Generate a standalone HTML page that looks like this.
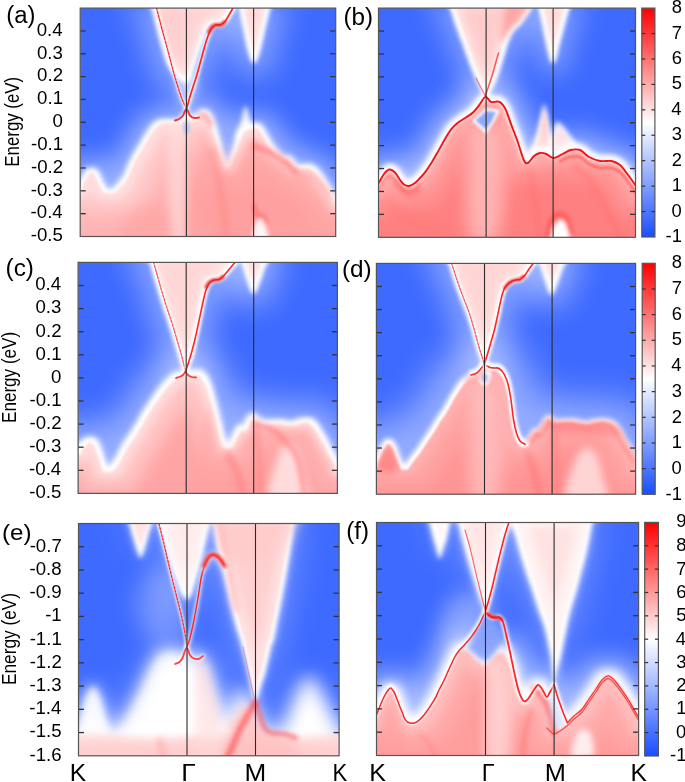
<!DOCTYPE html>
<html><head><meta charset="utf-8"><title>Surface states</title>
<style>html,body{margin:0;padding:0;background:#fff;width:685px;height:782px;overflow:hidden}svg{display:block}</style>
</head><body>
<svg width="685" height="782" viewBox="0 0 685 782" font-family="Liberation Sans, Arial, sans-serif">
<defs><linearGradient id="cbg" x1="0" y1="1" x2="0" y2="0"><stop offset="0" stop-color="#194eff"/><stop offset="0.5" stop-color="#ffffff"/><stop offset="1" stop-color="#ff0000"/></linearGradient>
<clipPath id="clipa"><rect x="80.2" y="8.1" width="255.5" height="228.4"/></clipPath>
<clipPath id="clipb"><rect x="378.5" y="8.1" width="257" height="229.2"/></clipPath>
<clipPath id="clipc"><rect x="78.1" y="262.4" width="259.3" height="231"/></clipPath>
<clipPath id="clipd"><rect x="376.4" y="263.4" width="259.2" height="230.8"/></clipPath>
<clipPath id="clipe"><rect x="78.5" y="523.5" width="260.6" height="232.3"/></clipPath>
<clipPath id="clipf"><rect x="376.5" y="522.5" width="262.1" height="233"/></clipPath><filter id="f5_0" filterUnits="userSpaceOnUse" x="0" y="0" width="685" height="782" color-interpolation-filters="sRGB"><feGaussianBlur stdDeviation="5"/></filter><filter id="f14_m14" filterUnits="userSpaceOnUse" x="0" y="0" width="685" height="782" color-interpolation-filters="sRGB"><feMorphology operator="dilate" radius="14"/><feGaussianBlur stdDeviation="14"/></filter><filter id="f2p5_m1" filterUnits="userSpaceOnUse" x="0" y="0" width="685" height="782" color-interpolation-filters="sRGB"><feMorphology operator="dilate" radius="1"/><feGaussianBlur stdDeviation="2.5"/></filter><filter id="f2_0" filterUnits="userSpaceOnUse" x="0" y="0" width="685" height="782" color-interpolation-filters="sRGB"><feGaussianBlur stdDeviation="2"/></filter><filter id="f1p5_2p5" filterUnits="userSpaceOnUse" x="0" y="0" width="685" height="782" color-interpolation-filters="sRGB"><feMorphology operator="erode" radius="2.5"/><feGaussianBlur stdDeviation="1.5"/></filter><filter id="f4_6" filterUnits="userSpaceOnUse" x="0" y="0" width="685" height="782" color-interpolation-filters="sRGB"><feMorphology operator="erode" radius="6"/><feGaussianBlur stdDeviation="4"/></filter><filter id="f2p5_0" filterUnits="userSpaceOnUse" x="0" y="0" width="685" height="782" color-interpolation-filters="sRGB"><feGaussianBlur stdDeviation="2.5"/></filter><filter id="f12_m12" filterUnits="userSpaceOnUse" x="0" y="0" width="685" height="782" color-interpolation-filters="sRGB"><feMorphology operator="dilate" radius="12"/><feGaussianBlur stdDeviation="12"/></filter><filter id="f3_m1p5" filterUnits="userSpaceOnUse" x="0" y="0" width="685" height="782" color-interpolation-filters="sRGB"><feMorphology operator="dilate" radius="1.5"/><feGaussianBlur stdDeviation="3"/></filter><filter id="f1p5_2" filterUnits="userSpaceOnUse" x="0" y="0" width="685" height="782" color-interpolation-filters="sRGB"><feMorphology operator="erode" radius="2"/><feGaussianBlur stdDeviation="1.5"/></filter><filter id="f4_9" filterUnits="userSpaceOnUse" x="0" y="0" width="685" height="782" color-interpolation-filters="sRGB"><feMorphology operator="erode" radius="9"/><feGaussianBlur stdDeviation="4"/></filter><filter id="f8_22" filterUnits="userSpaceOnUse" x="0" y="0" width="685" height="782" color-interpolation-filters="sRGB"><feMorphology operator="erode" radius="22"/><feGaussianBlur stdDeviation="8"/></filter><filter id="f8_0" filterUnits="userSpaceOnUse" x="0" y="0" width="685" height="782" color-interpolation-filters="sRGB"><feGaussianBlur stdDeviation="8"/></filter><filter id="f4_0" filterUnits="userSpaceOnUse" x="0" y="0" width="685" height="782" color-interpolation-filters="sRGB"><feGaussianBlur stdDeviation="4"/></filter><filter id="f5_7" filterUnits="userSpaceOnUse" x="0" y="0" width="685" height="782" color-interpolation-filters="sRGB"><feMorphology operator="erode" radius="7"/><feGaussianBlur stdDeviation="5"/></filter><filter id="f10_0" filterUnits="userSpaceOnUse" x="0" y="0" width="685" height="782" color-interpolation-filters="sRGB"><feGaussianBlur stdDeviation="10"/></filter><filter id="f1p8_0" filterUnits="userSpaceOnUse" x="0" y="0" width="685" height="782" color-interpolation-filters="sRGB"><feGaussianBlur stdDeviation="1.8"/></filter><filter id="f3_0" filterUnits="userSpaceOnUse" x="0" y="0" width="685" height="782" color-interpolation-filters="sRGB"><feGaussianBlur stdDeviation="3"/></filter><filter id="f1p2_0" filterUnits="userSpaceOnUse" x="0" y="0" width="685" height="782" color-interpolation-filters="sRGB"><feGaussianBlur stdDeviation="1.2"/></filter><filter id="f0p3_0" filterUnits="userSpaceOnUse" x="0" y="0" width="685" height="782" color-interpolation-filters="sRGB"><feGaussianBlur stdDeviation="0.3"/></filter><filter id="f1p5_0" filterUnits="userSpaceOnUse" x="0" y="0" width="685" height="782" color-interpolation-filters="sRGB"><feGaussianBlur stdDeviation="1.5"/></filter><filter id="f1p3_0" filterUnits="userSpaceOnUse" x="0" y="0" width="685" height="782" color-interpolation-filters="sRGB"><feGaussianBlur stdDeviation="1.3"/></filter><filter id="f0p6_0" filterUnits="userSpaceOnUse" x="0" y="0" width="685" height="782" color-interpolation-filters="sRGB"><feGaussianBlur stdDeviation="0.6"/></filter><filter id="f4_7" filterUnits="userSpaceOnUse" x="0" y="0" width="685" height="782" color-interpolation-filters="sRGB"><feMorphology operator="erode" radius="7"/><feGaussianBlur stdDeviation="4"/></filter><filter id="f4_m4" filterUnits="userSpaceOnUse" x="0" y="0" width="685" height="782" color-interpolation-filters="sRGB"><feMorphology operator="dilate" radius="4"/><feGaussianBlur stdDeviation="4"/></filter><filter id="f1p5_1" filterUnits="userSpaceOnUse" x="0" y="0" width="685" height="782" color-interpolation-filters="sRGB"><feMorphology operator="erode" radius="1"/><feGaussianBlur stdDeviation="1.5"/></filter><filter id="f4_8" filterUnits="userSpaceOnUse" x="0" y="0" width="685" height="782" color-interpolation-filters="sRGB"><feMorphology operator="erode" radius="8"/><feGaussianBlur stdDeviation="4"/></filter><filter id="f8_20" filterUnits="userSpaceOnUse" x="0" y="0" width="685" height="782" color-interpolation-filters="sRGB"><feMorphology operator="erode" radius="20"/><feGaussianBlur stdDeviation="8"/></filter><filter id="f0p5_0" filterUnits="userSpaceOnUse" x="0" y="0" width="685" height="782" color-interpolation-filters="sRGB"><feGaussianBlur stdDeviation="0.5"/></filter><filter id="f0p8_0" filterUnits="userSpaceOnUse" x="0" y="0" width="685" height="782" color-interpolation-filters="sRGB"><feGaussianBlur stdDeviation="0.8"/></filter><filter id="f1_0" filterUnits="userSpaceOnUse" x="0" y="0" width="685" height="782" color-interpolation-filters="sRGB"><feGaussianBlur stdDeviation="1"/></filter><filter id="f4_5" filterUnits="userSpaceOnUse" x="0" y="0" width="685" height="782" color-interpolation-filters="sRGB"><feMorphology operator="erode" radius="5"/><feGaussianBlur stdDeviation="4"/></filter><filter id="f16_m16" filterUnits="userSpaceOnUse" x="0" y="0" width="685" height="782" color-interpolation-filters="sRGB"><feMorphology operator="dilate" radius="16"/><feGaussianBlur stdDeviation="16"/></filter><filter id="f3_m2" filterUnits="userSpaceOnUse" x="0" y="0" width="685" height="782" color-interpolation-filters="sRGB"><feMorphology operator="dilate" radius="2"/><feGaussianBlur stdDeviation="3"/></filter><filter id="f5_6" filterUnits="userSpaceOnUse" x="0" y="0" width="685" height="782" color-interpolation-filters="sRGB"><feMorphology operator="erode" radius="6"/><feGaussianBlur stdDeviation="5"/></filter><filter id="f18_m20" filterUnits="userSpaceOnUse" x="0" y="0" width="685" height="782" color-interpolation-filters="sRGB"><feMorphology operator="dilate" radius="20"/><feGaussianBlur stdDeviation="18"/></filter><filter id="f2p5_m1p5" filterUnits="userSpaceOnUse" x="0" y="0" width="685" height="782" color-interpolation-filters="sRGB"><feMorphology operator="dilate" radius="1.5"/><feGaussianBlur stdDeviation="2.5"/></filter><filter id="f1_1p5" filterUnits="userSpaceOnUse" x="0" y="0" width="685" height="782" color-interpolation-filters="sRGB"><feMorphology operator="erode" radius="1.5"/><feGaussianBlur stdDeviation="1"/></filter><filter id="f12_0" filterUnits="userSpaceOnUse" x="0" y="0" width="685" height="782" color-interpolation-filters="sRGB"><feGaussianBlur stdDeviation="12"/></filter><filter id="f20_0" filterUnits="userSpaceOnUse" x="0" y="0" width="685" height="782" color-interpolation-filters="sRGB"><feGaussianBlur stdDeviation="20"/></filter><filter id="f4_4" filterUnits="userSpaceOnUse" x="0" y="0" width="685" height="782" color-interpolation-filters="sRGB"><feMorphology operator="erode" radius="4"/><feGaussianBlur stdDeviation="4"/></filter><filter id="f4_10" filterUnits="userSpaceOnUse" x="0" y="0" width="685" height="782" color-interpolation-filters="sRGB"><feMorphology operator="erode" radius="10"/><feGaussianBlur stdDeviation="4"/></filter><filter id="f16_0" filterUnits="userSpaceOnUse" x="0" y="0" width="685" height="782" color-interpolation-filters="sRGB"><feGaussianBlur stdDeviation="16"/></filter><filter id="f6_9" filterUnits="userSpaceOnUse" x="0" y="0" width="685" height="782" color-interpolation-filters="sRGB"><feMorphology operator="erode" radius="9"/><feGaussianBlur stdDeviation="6"/></filter><filter id="f3p5_0" filterUnits="userSpaceOnUse" x="0" y="0" width="685" height="782" color-interpolation-filters="sRGB"><feGaussianBlur stdDeviation="3.5"/></filter><filter id="f2p2_0" filterUnits="userSpaceOnUse" x="0" y="0" width="685" height="782" color-interpolation-filters="sRGB"><feGaussianBlur stdDeviation="2.2"/></filter><filter id="f1p4_0" filterUnits="userSpaceOnUse" x="0" y="0" width="685" height="782" color-interpolation-filters="sRGB"><feGaussianBlur stdDeviation="1.4"/></filter><filter id="f4_12" filterUnits="userSpaceOnUse" x="0" y="0" width="685" height="782" color-interpolation-filters="sRGB"><feMorphology operator="erode" radius="12"/><feGaussianBlur stdDeviation="4"/></filter><filter id="f13_m16" filterUnits="userSpaceOnUse" x="0" y="0" width="685" height="782" color-interpolation-filters="sRGB"><feMorphology operator="dilate" radius="16"/><feGaussianBlur stdDeviation="13"/></filter><filter id="f5_m6" filterUnits="userSpaceOnUse" x="0" y="0" width="685" height="782" color-interpolation-filters="sRGB"><feMorphology operator="dilate" radius="6"/><feGaussianBlur stdDeviation="5"/></filter><filter id="f1p5_1p5" filterUnits="userSpaceOnUse" x="0" y="0" width="685" height="782" color-interpolation-filters="sRGB"><feMorphology operator="erode" radius="1.5"/><feGaussianBlur stdDeviation="1.5"/></filter><filter id="f6_0" filterUnits="userSpaceOnUse" x="0" y="0" width="685" height="782" color-interpolation-filters="sRGB"><feGaussianBlur stdDeviation="6"/></filter><filter id="f1p6_0" filterUnits="userSpaceOnUse" x="0" y="0" width="685" height="782" color-interpolation-filters="sRGB"><feGaussianBlur stdDeviation="1.6"/></filter><filter id="f0p4_0" filterUnits="userSpaceOnUse" x="0" y="0" width="685" height="782" color-interpolation-filters="sRGB"><feGaussianBlur stdDeviation="0.4"/></filter></defs>
<g clip-path="url(#clipa)">
<rect x="80.2" y="8.1" width="255.5" height="228.4" fill="#3e6aff"/>
<path d="M176,78C174.25,83 183,108 186.5,108C190,108 198.75,83 197,78C195.25,73 177.75,73 176,78Z" fill="#ffffff" filter="url(#f5_0)" opacity="0.55"/>
<path d="M150,0C135.83,1.33 151.67,3.33 153,8C154.33,12.67 156.33,21.5 158,28C159.67,34.5 161.25,41 163,47C164.75,53 166.5,59.5 168.5,64C170.5,68.5 172.75,71.33 175,74C177.25,76.67 180.08,78.67 182,80C183.92,81.33 185.17,82.33 186.5,82C187.83,81.67 188.75,80.67 190,78C191.25,75.33 192.67,70.17 194,66C195.33,61.83 196.67,57.17 198,53C199.33,48.83 200.67,44.67 202,41C203.33,37.33 204.67,33.67 206,31C207.33,28.33 208.5,26.33 210,25C211.5,23.67 213.17,23.33 215,23C216.83,22.67 219.17,23.67 221,23C222.83,22.33 224.33,20.83 226,19C227.67,17.17 229.5,14.33 231,12C232.5,9.67 233.83,7 235,5C236.17,3 252.17,0.83 238,0C223.83,-0.83 164.17,-1.33 150,0Z" fill="#ffffff" filter="url(#f14_m14)" opacity="0.35"/>
<path d="M150,0C135.83,1.33 151.67,3.33 153,8C154.33,12.67 156.33,21.5 158,28C159.67,34.5 161.25,41 163,47C164.75,53 166.5,59.5 168.5,64C170.5,68.5 172.75,71.33 175,74C177.25,76.67 180.08,78.67 182,80C183.92,81.33 185.17,82.33 186.5,82C187.83,81.67 188.75,80.67 190,78C191.25,75.33 192.67,70.17 194,66C195.33,61.83 196.67,57.17 198,53C199.33,48.83 200.67,44.67 202,41C203.33,37.33 204.67,33.67 206,31C207.33,28.33 208.5,26.33 210,25C211.5,23.67 213.17,23.33 215,23C216.83,22.67 219.17,23.67 221,23C222.83,22.33 224.33,20.83 226,19C227.67,17.17 229.5,14.33 231,12C232.5,9.67 233.83,7 235,5C236.17,3 252.17,0.83 238,0C223.83,-0.83 164.17,-1.33 150,0Z" fill="#ffffff" filter="url(#f2p5_m1)" opacity="0.85"/>
<path d="M150,0C135.83,1.33 151.67,3.33 153,8C154.33,12.67 156.33,21.5 158,28C159.67,34.5 161.25,41 163,47C164.75,53 166.5,59.5 168.5,64C170.5,68.5 172.75,71.33 175,74C177.25,76.67 180.08,78.67 182,80C183.92,81.33 185.17,82.33 186.5,82C187.83,81.67 188.75,80.67 190,78C191.25,75.33 192.67,70.17 194,66C195.33,61.83 196.67,57.17 198,53C199.33,48.83 200.67,44.67 202,41C203.33,37.33 204.67,33.67 206,31C207.33,28.33 208.5,26.33 210,25C211.5,23.67 213.17,23.33 215,23C216.83,22.67 219.17,23.67 221,23C222.83,22.33 224.33,20.83 226,19C227.67,17.17 229.5,14.33 231,12C232.5,9.67 233.83,7 235,5C236.17,3 252.17,0.83 238,0C223.83,-0.83 164.17,-1.33 150,0Z" fill="#ffffff" filter="url(#f2_0)"/>
<path d="M150,0C135.83,1.33 151.67,3.33 153,8C154.33,12.67 156.33,21.5 158,28C159.67,34.5 161.25,41 163,47C164.75,53 166.5,59.5 168.5,64C170.5,68.5 172.75,71.33 175,74C177.25,76.67 180.08,78.67 182,80C183.92,81.33 185.17,82.33 186.5,82C187.83,81.67 188.75,80.67 190,78C191.25,75.33 192.67,70.17 194,66C195.33,61.83 196.67,57.17 198,53C199.33,48.83 200.67,44.67 202,41C203.33,37.33 204.67,33.67 206,31C207.33,28.33 208.5,26.33 210,25C211.5,23.67 213.17,23.33 215,23C216.83,22.67 219.17,23.67 221,23C222.83,22.33 224.33,20.83 226,19C227.67,17.17 229.5,14.33 231,12C232.5,9.67 233.83,7 235,5C236.17,3 252.17,0.83 238,0C223.83,-0.83 164.17,-1.33 150,0Z" fill="#ffe6e6" filter="url(#f1p5_2p5)"/>
<path d="M150,0C135.83,1.33 151.67,3.33 153,8C154.33,12.67 156.33,21.5 158,28C159.67,34.5 161.25,41 163,47C164.75,53 166.5,59.5 168.5,64C170.5,68.5 172.75,71.33 175,74C177.25,76.67 180.08,78.67 182,80C183.92,81.33 185.17,82.33 186.5,82C187.83,81.67 188.75,80.67 190,78C191.25,75.33 192.67,70.17 194,66C195.33,61.83 196.67,57.17 198,53C199.33,48.83 200.67,44.67 202,41C203.33,37.33 204.67,33.67 206,31C207.33,28.33 208.5,26.33 210,25C211.5,23.67 213.17,23.33 215,23C216.83,22.67 219.17,23.67 221,23C222.83,22.33 224.33,20.83 226,19C227.67,17.17 229.5,14.33 231,12C232.5,9.67 233.83,7 235,5C236.17,3 252.17,0.83 238,0C223.83,-0.83 164.17,-1.33 150,0Z" fill="#ffd2d2" filter="url(#f4_6)"/>
<path d="M156,8C155.83,0.17 171,2.67 175,8C179,13.33 179.83,32.17 180,40C180.17,47.83 180,60.33 176,55C172,49.67 156.17,15.83 156,8Z" fill="#ffcccc" filter="url(#f5_0)" opacity="0.6"/>
<path d="M239,0C233.92,1.33 239.67,3.67 240.5,8C241.33,12.33 242.75,19.67 244,26C245.25,32.33 246.75,40.67 248,46C249.25,51.33 250.5,55.33 251.5,58C252.5,60.67 253.17,62 254,62C254.83,62 255.5,60.67 256.5,58C257.5,55.33 258.67,51.33 260,46C261.33,40.67 263,32.33 264.5,26C266,19.67 267.92,12.33 269,8C270.08,3.67 276,1.33 271,0C266,-1.33 244.08,-1.33 239,0Z" fill="#ffffff" filter="url(#f14_m14)" opacity="0.35"/>
<path d="M239,0C233.92,1.33 239.67,3.67 240.5,8C241.33,12.33 242.75,19.67 244,26C245.25,32.33 246.75,40.67 248,46C249.25,51.33 250.5,55.33 251.5,58C252.5,60.67 253.17,62 254,62C254.83,62 255.5,60.67 256.5,58C257.5,55.33 258.67,51.33 260,46C261.33,40.67 263,32.33 264.5,26C266,19.67 267.92,12.33 269,8C270.08,3.67 276,1.33 271,0C266,-1.33 244.08,-1.33 239,0Z" fill="#ffffff" filter="url(#f2p5_m1)" opacity="0.85"/>
<path d="M239,0C233.92,1.33 239.67,3.67 240.5,8C241.33,12.33 242.75,19.67 244,26C245.25,32.33 246.75,40.67 248,46C249.25,51.33 250.5,55.33 251.5,58C252.5,60.67 253.17,62 254,62C254.83,62 255.5,60.67 256.5,58C257.5,55.33 258.67,51.33 260,46C261.33,40.67 263,32.33 264.5,26C266,19.67 267.92,12.33 269,8C270.08,3.67 276,1.33 271,0C266,-1.33 244.08,-1.33 239,0Z" fill="#ffffff" filter="url(#f2_0)"/>
<path d="M239,0C233.92,1.33 239.67,3.67 240.5,8C241.33,12.33 242.75,19.67 244,26C245.25,32.33 246.75,40.67 248,46C249.25,51.33 250.5,55.33 251.5,58C252.5,60.67 253.17,62 254,62C254.83,62 255.5,60.67 256.5,58C257.5,55.33 258.67,51.33 260,46C261.33,40.67 263,32.33 264.5,26C266,19.67 267.92,12.33 269,8C270.08,3.67 276,1.33 271,0C266,-1.33 244.08,-1.33 239,0Z" fill="#ffe8e8" filter="url(#f1p5_2p5)"/>
<path d="M239,0C233.92,1.33 239.67,3.67 240.5,8C241.33,12.33 242.75,19.67 244,26C245.25,32.33 246.75,40.67 248,46C249.25,51.33 250.5,55.33 251.5,58C252.5,60.67 253.17,62 254,62C254.83,62 255.5,60.67 256.5,58C257.5,55.33 258.67,51.33 260,46C261.33,40.67 263,32.33 264.5,26C266,19.67 267.92,12.33 269,8C270.08,3.67 276,1.33 271,0C266,-1.33 244.08,-1.33 239,0Z" fill="#ffd4d4" filter="url(#f4_6)"/>
<path d="M236,140C233.83,138 239.42,127.67 241,122C242.58,116.33 244,106.33 245.5,106C247,105.67 248.58,115.33 250,120C251.42,124.67 256.33,130.67 254,134C251.67,137.33 238.17,142 236,140Z" fill="#ffffff" filter="url(#f2p5_0)" opacity="0.95"/>
<path d="M31,189C38.5,173 67.83,189.83 76,189C84.17,188.17 78.67,186 80,184C81.33,182 82.67,179.17 84,177C85.33,174.83 86.5,172.17 88,171C89.5,169.83 91.5,169.67 93,170C94.5,170.33 95.67,171 97,173C98.33,175 99.67,179.33 101,182C102.33,184.67 103.83,187.42 105,189C106.17,190.58 106.67,191.25 108,191.5C109.33,191.75 111.17,191.67 113,190.5C114.83,189.33 117,186.75 119,184.5C121,182.25 123,180.58 125,177C127,173.42 129,167.17 131,163C133,158.83 135.07,155.33 137,152C138.93,148.67 140.6,146.33 142.6,143C144.6,139.67 146.93,135.08 149,132C151.07,128.92 152.83,126.33 155,124.5C157.17,122.67 159.5,121.58 162,121C164.5,120.42 167.33,120.92 170,121C172.67,121.08 176,121.83 178,121.5C180,121.17 180.58,120.42 182,119C183.42,117.58 185.17,113.25 186.5,113C187.83,112.75 188.58,116.67 190,117.5C191.42,118.33 193.5,118.67 195,118C196.5,117.33 197.6,114.67 199,113.5C200.4,112.33 201.9,111.08 203.4,111C204.9,110.92 206.57,111.5 208,113C209.43,114.5 210.67,116.83 212,120C213.33,123.17 214.67,127.67 216,132C217.33,136.33 218.67,141.33 220,146C221.33,150.67 222.83,156.58 224,160C225.17,163.42 226,166.33 227,166.5C228,166.67 228.83,163.75 230,161C231.17,158.25 232.67,153.67 234,150C235.33,146.33 236.67,142.17 238,139C239.33,135.83 240.67,132.83 242,131C243.33,129.17 244.67,128.75 246,128C247.33,127.25 248.67,126.92 250,126.5C251.33,126.08 252.67,125.75 254,125.5C255.33,125.25 256.67,124.42 258,125C259.33,125.58 260.67,127.17 262,129C263.33,130.83 264.67,133.67 266,136C267.33,138.33 268.5,140.67 270,143C271.5,145.33 273.33,148 275,150C276.67,152 278.5,153.73 280,155C281.5,156.27 282.5,157.17 284,157.6C285.5,158.03 287.5,156.87 289,157.6C290.5,158.33 291.67,160.52 293,162C294.33,163.48 295.33,165.83 297,166.5C298.67,167.17 301,166.17 303,166C305,165.83 307.17,165.17 309,165.5C310.83,165.83 312.33,166.75 314,168C315.67,169.25 317.33,171 319,173C320.67,175 322.33,177.6 324,180C325.67,182.4 327.5,185.07 329,187.4C330.5,189.73 331.67,191.9 333,194C334.33,196.1 335.67,198 337,200C338.33,202 332.83,205 341,206C349.17,207 378.5,192.83 386,206C393.5,219.17 445.17,271.83 386,285C326.83,298.17 90.17,301 31,285C-28.17,269 23.5,205 31,189Z" fill="#ffffff" filter="url(#f12_m12)" opacity="0.45"/>
<path d="M31,189C38.5,173 67.83,189.83 76,189C84.17,188.17 78.67,186 80,184C81.33,182 82.67,179.17 84,177C85.33,174.83 86.5,172.17 88,171C89.5,169.83 91.5,169.67 93,170C94.5,170.33 95.67,171 97,173C98.33,175 99.67,179.33 101,182C102.33,184.67 103.83,187.42 105,189C106.17,190.58 106.67,191.25 108,191.5C109.33,191.75 111.17,191.67 113,190.5C114.83,189.33 117,186.75 119,184.5C121,182.25 123,180.58 125,177C127,173.42 129,167.17 131,163C133,158.83 135.07,155.33 137,152C138.93,148.67 140.6,146.33 142.6,143C144.6,139.67 146.93,135.08 149,132C151.07,128.92 152.83,126.33 155,124.5C157.17,122.67 159.5,121.58 162,121C164.5,120.42 167.33,120.92 170,121C172.67,121.08 176,121.83 178,121.5C180,121.17 180.58,120.42 182,119C183.42,117.58 185.17,113.25 186.5,113C187.83,112.75 188.58,116.67 190,117.5C191.42,118.33 193.5,118.67 195,118C196.5,117.33 197.6,114.67 199,113.5C200.4,112.33 201.9,111.08 203.4,111C204.9,110.92 206.57,111.5 208,113C209.43,114.5 210.67,116.83 212,120C213.33,123.17 214.67,127.67 216,132C217.33,136.33 218.67,141.33 220,146C221.33,150.67 222.83,156.58 224,160C225.17,163.42 226,166.33 227,166.5C228,166.67 228.83,163.75 230,161C231.17,158.25 232.67,153.67 234,150C235.33,146.33 236.67,142.17 238,139C239.33,135.83 240.67,132.83 242,131C243.33,129.17 244.67,128.75 246,128C247.33,127.25 248.67,126.92 250,126.5C251.33,126.08 252.67,125.75 254,125.5C255.33,125.25 256.67,124.42 258,125C259.33,125.58 260.67,127.17 262,129C263.33,130.83 264.67,133.67 266,136C267.33,138.33 268.5,140.67 270,143C271.5,145.33 273.33,148 275,150C276.67,152 278.5,153.73 280,155C281.5,156.27 282.5,157.17 284,157.6C285.5,158.03 287.5,156.87 289,157.6C290.5,158.33 291.67,160.52 293,162C294.33,163.48 295.33,165.83 297,166.5C298.67,167.17 301,166.17 303,166C305,165.83 307.17,165.17 309,165.5C310.83,165.83 312.33,166.75 314,168C315.67,169.25 317.33,171 319,173C320.67,175 322.33,177.6 324,180C325.67,182.4 327.5,185.07 329,187.4C330.5,189.73 331.67,191.9 333,194C334.33,196.1 335.67,198 337,200C338.33,202 332.83,205 341,206C349.17,207 378.5,192.83 386,206C393.5,219.17 445.17,271.83 386,285C326.83,298.17 90.17,301 31,285C-28.17,269 23.5,205 31,189Z" fill="#ffffff" filter="url(#f3_m1p5)" opacity="0.9"/>
<path d="M31,189C38.5,173 67.83,189.83 76,189C84.17,188.17 78.67,186 80,184C81.33,182 82.67,179.17 84,177C85.33,174.83 86.5,172.17 88,171C89.5,169.83 91.5,169.67 93,170C94.5,170.33 95.67,171 97,173C98.33,175 99.67,179.33 101,182C102.33,184.67 103.83,187.42 105,189C106.17,190.58 106.67,191.25 108,191.5C109.33,191.75 111.17,191.67 113,190.5C114.83,189.33 117,186.75 119,184.5C121,182.25 123,180.58 125,177C127,173.42 129,167.17 131,163C133,158.83 135.07,155.33 137,152C138.93,148.67 140.6,146.33 142.6,143C144.6,139.67 146.93,135.08 149,132C151.07,128.92 152.83,126.33 155,124.5C157.17,122.67 159.5,121.58 162,121C164.5,120.42 167.33,120.92 170,121C172.67,121.08 176,121.83 178,121.5C180,121.17 180.58,120.42 182,119C183.42,117.58 185.17,113.25 186.5,113C187.83,112.75 188.58,116.67 190,117.5C191.42,118.33 193.5,118.67 195,118C196.5,117.33 197.6,114.67 199,113.5C200.4,112.33 201.9,111.08 203.4,111C204.9,110.92 206.57,111.5 208,113C209.43,114.5 210.67,116.83 212,120C213.33,123.17 214.67,127.67 216,132C217.33,136.33 218.67,141.33 220,146C221.33,150.67 222.83,156.58 224,160C225.17,163.42 226,166.33 227,166.5C228,166.67 228.83,163.75 230,161C231.17,158.25 232.67,153.67 234,150C235.33,146.33 236.67,142.17 238,139C239.33,135.83 240.67,132.83 242,131C243.33,129.17 244.67,128.75 246,128C247.33,127.25 248.67,126.92 250,126.5C251.33,126.08 252.67,125.75 254,125.5C255.33,125.25 256.67,124.42 258,125C259.33,125.58 260.67,127.17 262,129C263.33,130.83 264.67,133.67 266,136C267.33,138.33 268.5,140.67 270,143C271.5,145.33 273.33,148 275,150C276.67,152 278.5,153.73 280,155C281.5,156.27 282.5,157.17 284,157.6C285.5,158.03 287.5,156.87 289,157.6C290.5,158.33 291.67,160.52 293,162C294.33,163.48 295.33,165.83 297,166.5C298.67,167.17 301,166.17 303,166C305,165.83 307.17,165.17 309,165.5C310.83,165.83 312.33,166.75 314,168C315.67,169.25 317.33,171 319,173C320.67,175 322.33,177.6 324,180C325.67,182.4 327.5,185.07 329,187.4C330.5,189.73 331.67,191.9 333,194C334.33,196.1 335.67,198 337,200C338.33,202 332.83,205 341,206C349.17,207 378.5,192.83 386,206C393.5,219.17 445.17,271.83 386,285C326.83,298.17 90.17,301 31,285C-28.17,269 23.5,205 31,189Z" fill="#ffffff" filter="url(#f2_0)"/>
<path d="M31,189C38.5,173 67.83,189.83 76,189C84.17,188.17 78.67,186 80,184C81.33,182 82.67,179.17 84,177C85.33,174.83 86.5,172.17 88,171C89.5,169.83 91.5,169.67 93,170C94.5,170.33 95.67,171 97,173C98.33,175 99.67,179.33 101,182C102.33,184.67 103.83,187.42 105,189C106.17,190.58 106.67,191.25 108,191.5C109.33,191.75 111.17,191.67 113,190.5C114.83,189.33 117,186.75 119,184.5C121,182.25 123,180.58 125,177C127,173.42 129,167.17 131,163C133,158.83 135.07,155.33 137,152C138.93,148.67 140.6,146.33 142.6,143C144.6,139.67 146.93,135.08 149,132C151.07,128.92 152.83,126.33 155,124.5C157.17,122.67 159.5,121.58 162,121C164.5,120.42 167.33,120.92 170,121C172.67,121.08 176,121.83 178,121.5C180,121.17 180.58,120.42 182,119C183.42,117.58 185.17,113.25 186.5,113C187.83,112.75 188.58,116.67 190,117.5C191.42,118.33 193.5,118.67 195,118C196.5,117.33 197.6,114.67 199,113.5C200.4,112.33 201.9,111.08 203.4,111C204.9,110.92 206.57,111.5 208,113C209.43,114.5 210.67,116.83 212,120C213.33,123.17 214.67,127.67 216,132C217.33,136.33 218.67,141.33 220,146C221.33,150.67 222.83,156.58 224,160C225.17,163.42 226,166.33 227,166.5C228,166.67 228.83,163.75 230,161C231.17,158.25 232.67,153.67 234,150C235.33,146.33 236.67,142.17 238,139C239.33,135.83 240.67,132.83 242,131C243.33,129.17 244.67,128.75 246,128C247.33,127.25 248.67,126.92 250,126.5C251.33,126.08 252.67,125.75 254,125.5C255.33,125.25 256.67,124.42 258,125C259.33,125.58 260.67,127.17 262,129C263.33,130.83 264.67,133.67 266,136C267.33,138.33 268.5,140.67 270,143C271.5,145.33 273.33,148 275,150C276.67,152 278.5,153.73 280,155C281.5,156.27 282.5,157.17 284,157.6C285.5,158.03 287.5,156.87 289,157.6C290.5,158.33 291.67,160.52 293,162C294.33,163.48 295.33,165.83 297,166.5C298.67,167.17 301,166.17 303,166C305,165.83 307.17,165.17 309,165.5C310.83,165.83 312.33,166.75 314,168C315.67,169.25 317.33,171 319,173C320.67,175 322.33,177.6 324,180C325.67,182.4 327.5,185.07 329,187.4C330.5,189.73 331.67,191.9 333,194C334.33,196.1 335.67,198 337,200C338.33,202 332.83,205 341,206C349.17,207 378.5,192.83 386,206C393.5,219.17 445.17,271.83 386,285C326.83,298.17 90.17,301 31,285C-28.17,269 23.5,205 31,189Z" fill="#ffdede" filter="url(#f1p5_2)"/>
<path d="M31,189C38.5,173 67.83,189.83 76,189C84.17,188.17 78.67,186 80,184C81.33,182 82.67,179.17 84,177C85.33,174.83 86.5,172.17 88,171C89.5,169.83 91.5,169.67 93,170C94.5,170.33 95.67,171 97,173C98.33,175 99.67,179.33 101,182C102.33,184.67 103.83,187.42 105,189C106.17,190.58 106.67,191.25 108,191.5C109.33,191.75 111.17,191.67 113,190.5C114.83,189.33 117,186.75 119,184.5C121,182.25 123,180.58 125,177C127,173.42 129,167.17 131,163C133,158.83 135.07,155.33 137,152C138.93,148.67 140.6,146.33 142.6,143C144.6,139.67 146.93,135.08 149,132C151.07,128.92 152.83,126.33 155,124.5C157.17,122.67 159.5,121.58 162,121C164.5,120.42 167.33,120.92 170,121C172.67,121.08 176,121.83 178,121.5C180,121.17 180.58,120.42 182,119C183.42,117.58 185.17,113.25 186.5,113C187.83,112.75 188.58,116.67 190,117.5C191.42,118.33 193.5,118.67 195,118C196.5,117.33 197.6,114.67 199,113.5C200.4,112.33 201.9,111.08 203.4,111C204.9,110.92 206.57,111.5 208,113C209.43,114.5 210.67,116.83 212,120C213.33,123.17 214.67,127.67 216,132C217.33,136.33 218.67,141.33 220,146C221.33,150.67 222.83,156.58 224,160C225.17,163.42 226,166.33 227,166.5C228,166.67 228.83,163.75 230,161C231.17,158.25 232.67,153.67 234,150C235.33,146.33 236.67,142.17 238,139C239.33,135.83 240.67,132.83 242,131C243.33,129.17 244.67,128.75 246,128C247.33,127.25 248.67,126.92 250,126.5C251.33,126.08 252.67,125.75 254,125.5C255.33,125.25 256.67,124.42 258,125C259.33,125.58 260.67,127.17 262,129C263.33,130.83 264.67,133.67 266,136C267.33,138.33 268.5,140.67 270,143C271.5,145.33 273.33,148 275,150C276.67,152 278.5,153.73 280,155C281.5,156.27 282.5,157.17 284,157.6C285.5,158.03 287.5,156.87 289,157.6C290.5,158.33 291.67,160.52 293,162C294.33,163.48 295.33,165.83 297,166.5C298.67,167.17 301,166.17 303,166C305,165.83 307.17,165.17 309,165.5C310.83,165.83 312.33,166.75 314,168C315.67,169.25 317.33,171 319,173C320.67,175 322.33,177.6 324,180C325.67,182.4 327.5,185.07 329,187.4C330.5,189.73 331.67,191.9 333,194C334.33,196.1 335.67,198 337,200C338.33,202 332.83,205 341,206C349.17,207 378.5,192.83 386,206C393.5,219.17 445.17,271.83 386,285C326.83,298.17 90.17,301 31,285C-28.17,269 23.5,205 31,189Z" fill="#ffcaca" filter="url(#f4_9)"/>
<path d="M31,189C38.5,173 67.83,189.83 76,189C84.17,188.17 78.67,186 80,184C81.33,182 82.67,179.17 84,177C85.33,174.83 86.5,172.17 88,171C89.5,169.83 91.5,169.67 93,170C94.5,170.33 95.67,171 97,173C98.33,175 99.67,179.33 101,182C102.33,184.67 103.83,187.42 105,189C106.17,190.58 106.67,191.25 108,191.5C109.33,191.75 111.17,191.67 113,190.5C114.83,189.33 117,186.75 119,184.5C121,182.25 123,180.58 125,177C127,173.42 129,167.17 131,163C133,158.83 135.07,155.33 137,152C138.93,148.67 140.6,146.33 142.6,143C144.6,139.67 146.93,135.08 149,132C151.07,128.92 152.83,126.33 155,124.5C157.17,122.67 159.5,121.58 162,121C164.5,120.42 167.33,120.92 170,121C172.67,121.08 176,121.83 178,121.5C180,121.17 180.58,120.42 182,119C183.42,117.58 185.17,113.25 186.5,113C187.83,112.75 188.58,116.67 190,117.5C191.42,118.33 193.5,118.67 195,118C196.5,117.33 197.6,114.67 199,113.5C200.4,112.33 201.9,111.08 203.4,111C204.9,110.92 206.57,111.5 208,113C209.43,114.5 210.67,116.83 212,120C213.33,123.17 214.67,127.67 216,132C217.33,136.33 218.67,141.33 220,146C221.33,150.67 222.83,156.58 224,160C225.17,163.42 226,166.33 227,166.5C228,166.67 228.83,163.75 230,161C231.17,158.25 232.67,153.67 234,150C235.33,146.33 236.67,142.17 238,139C239.33,135.83 240.67,132.83 242,131C243.33,129.17 244.67,128.75 246,128C247.33,127.25 248.67,126.92 250,126.5C251.33,126.08 252.67,125.75 254,125.5C255.33,125.25 256.67,124.42 258,125C259.33,125.58 260.67,127.17 262,129C263.33,130.83 264.67,133.67 266,136C267.33,138.33 268.5,140.67 270,143C271.5,145.33 273.33,148 275,150C276.67,152 278.5,153.73 280,155C281.5,156.27 282.5,157.17 284,157.6C285.5,158.03 287.5,156.87 289,157.6C290.5,158.33 291.67,160.52 293,162C294.33,163.48 295.33,165.83 297,166.5C298.67,167.17 301,166.17 303,166C305,165.83 307.17,165.17 309,165.5C310.83,165.83 312.33,166.75 314,168C315.67,169.25 317.33,171 319,173C320.67,175 322.33,177.6 324,180C325.67,182.4 327.5,185.07 329,187.4C330.5,189.73 331.67,191.9 333,194C334.33,196.1 335.67,198 337,200C338.33,202 332.83,205 341,206C349.17,207 378.5,192.83 386,206C393.5,219.17 445.17,271.83 386,285C326.83,298.17 90.17,301 31,285C-28.17,269 23.5,205 31,189Z" fill="#ffb4b4" filter="url(#f8_22)"/>
<path d="M120,240C111.67,235.83 125.83,220.83 130,215C134.17,209.17 139.17,206.67 145,205C150.83,203.33 160,203.33 165,205C170,206.67 172.5,209.17 175,215C177.5,220.83 189.17,235.83 180,240C170.83,244.17 128.33,244.17 120,240Z" fill="#ff9c9c" filter="url(#f8_0)" opacity="0.5"/>
<path d="M168,130C169,111.67 175.17,127 178,127C180.83,127 183.67,111.67 185,130C186.33,148.33 188.17,219.17 186,237C183.83,254.83 175,254.83 172,237C169,219.17 167,148.33 168,130Z" fill="#ffe4e4" filter="url(#f4_0)" opacity="0.6"/>
<path d="M195,118C195.67,88.58 197.6,114.67 199,113.5C200.4,112.33 201.9,111.08 203.4,111C204.9,110.92 206.57,111.5 208,113C209.43,114.5 210.67,116.83 212,120C213.33,123.17 214.67,127.67 216,132C217.33,136.33 218.67,141.33 220,146C221.33,150.67 222.83,156.58 224,160C225.17,163.42 226,166.33 227,166.5C228,166.67 228.83,163.75 230,161C231.17,158.25 232.67,153.67 234,150C235.33,146.33 236.67,142.17 238,139C239.33,135.83 240.67,132.83 242,131C243.33,129.17 244.67,128.75 246,128C247.33,127.25 248.67,126.92 250,126.5C251.33,126.08 252.67,125.75 254,125.5C255.33,125.25 256.67,124.42 258,125C259.33,125.58 260.67,127.17 262,129C263.33,130.83 264.67,133.67 266,136C267.33,138.33 268.5,140.67 270,143C271.5,145.33 273.33,148 275,150C276.67,152 278.5,153.73 280,155C281.5,156.27 282.5,157.17 284,157.6C285.5,158.03 287.5,156.87 289,157.6C290.5,158.33 291.67,160.52 293,162C294.33,163.48 295.33,165.83 297,166.5C298.67,167.17 301,166.17 303,166C305,165.83 307.17,165.17 309,165.5C310.83,165.83 312.33,166.75 314,168C315.67,169.25 317.33,171 319,173C320.67,175 322.33,177.6 324,180C325.67,182.4 327.5,185.07 329,187.4C330.5,189.73 331.67,191.9 333,194C334.33,196.1 335.67,198 337,200C338.33,202 332.17,205 341,206C349.83,207 381.83,192 390,206C398.17,220 422.5,276 390,290C357.5,304 227.5,318.67 195,290C162.5,261.33 194.33,147.42 195,118Z" fill="#ffa0a0" filter="url(#f5_7)" opacity="0.55"/>
<path d="M200,160C202.5,145.5 208.33,150 215,150C221.67,150 232.17,160 240,160C247.83,160 252,145.83 262,150C272,154.17 287.67,175 300,185C312.33,195 330,201.33 336,210C342,218.67 358.67,232.5 336,237C313.33,241.5 222.67,249.83 200,237C177.33,224.17 197.5,174.5 200,160Z" fill="#ff9090" filter="url(#f10_0)" opacity="0.35"/>
<ellipse cx="186.5" cy="128" rx="3.5" ry="6.5" fill="#b8c8fc" filter="url(#f1p8_0)"/>
<path d="M200,114C201,114.33 204.17,114.33 206,116C207.83,117.67 210.17,122.67 211,124" fill="none" stroke="#ff9a9a" stroke-width="5" stroke-linecap="round" stroke-linejoin="round" filter="url(#f2_0)" opacity="0.7"/>
<path d="M255,146C256.33,146.5 260.33,147.83 263,149C265.67,150.17 268.5,151.67 271,153C273.5,154.33 275.83,155.67 278,157C280.17,158.33 282,159.5 284,161C286,162.5 288,164.17 290,166C292,167.83 295,171 296,172" fill="none" stroke="#ff6a6a" stroke-width="6" stroke-linecap="round" stroke-linejoin="round" filter="url(#f2p5_0)" opacity="0.6"/>
<path d="M300,175C301.67,175.17 306.67,174.83 310,176C313.33,177.17 316.67,178.83 320,182C323.33,185.17 328.33,192.83 330,195" fill="none" stroke="#ff8080" stroke-width="5" stroke-linecap="round" stroke-linejoin="round" filter="url(#f3_0)" opacity="0.4"/>
<path d="M212,150C213,154.17 216.33,166.67 218,175C219.67,183.33 220.67,189.67 222,200C223.33,210.33 225.33,230.83 226,237" fill="none" stroke="#ff7c7c" stroke-width="6" stroke-linecap="round" stroke-linejoin="round" filter="url(#f3_0)" opacity="0.45"/>
<path d="M254,205C254.5,206.67 255.67,213.33 257,215C258.33,216.67 260.5,213.83 262,215C263.5,216.17 265.33,220.83 266,222" fill="none" stroke="#ff5a5a" stroke-width="4" stroke-linecap="round" stroke-linejoin="round" filter="url(#f2_0)" opacity="0.6"/>
<path d="M253,240C250.83,237.5 254,228.5 255,225C256,221.5 257.5,219.5 259,219C260.5,218.5 262.5,218.5 264,222C265.5,225.5 269.83,237 268,240C266.17,243 255.17,242.5 253,240Z" fill="#ffffff" filter="url(#f2_0)" opacity="0.9"/>
<path d="M156.5,8C157.42,11.5 160,21.5 162,29C164,36.5 166.58,45.83 168.5,53C170.42,60.17 171.92,66.33 173.5,72C175.08,77.67 176.58,82.5 178,87C179.42,91.5 180.58,95.33 182,99C183.42,102.67 185.75,107.33 186.5,109" fill="none" stroke="#ffffff" stroke-width="4" stroke-linecap="round" stroke-linejoin="round" filter="url(#f1p2_0)" opacity="0.7"/>
<path d="M156.5,8C157.42,11.5 160,21.5 162,29C164,36.5 166.58,45.83 168.5,53C170.42,60.17 171.92,66.33 173.5,72C175.08,77.67 176.58,82.5 178,87C179.42,91.5 180.58,95.33 182,99C183.42,102.67 185.75,107.33 186.5,109" fill="none" stroke="#ff3030" stroke-width="1.4" stroke-linecap="round" stroke-linejoin="round" filter="url(#f0p3_0)" stroke-dasharray="2.4 1.4"/>
<path d="M186.5,109C186.97,107.33 188.22,102.67 189.3,99C190.38,95.33 191.72,91.1 193,87C194.28,82.9 195.67,78.9 197,74.4C198.33,69.9 199.75,64.57 201,60C202.25,55.43 203.33,51 204.5,47C205.67,43 206.83,39.08 208,36C209.17,32.92 210.25,30.33 211.5,28.5C212.75,26.67 214,25.62 215.5,25C217,24.38 218.92,25.38 220.5,24.8C222.08,24.22 223.58,23.13 225,21.5C226.42,19.87 227.67,17.25 229,15C230.33,12.75 231.83,10.17 233,8C234.17,5.83 235.5,3 236,2" fill="none" stroke="#ffffff" stroke-width="5" stroke-linecap="round" stroke-linejoin="round" filter="url(#f1p5_0)" opacity="0.85"/>
<path d="M186.5,109C186.97,107.33 188.22,102.67 189.3,99C190.38,95.33 191.72,91.1 193,87C194.28,82.9 195.67,78.9 197,74.4C198.33,69.9 199.75,64.57 201,60C202.25,55.43 203.33,51 204.5,47C205.67,43 206.83,39.08 208,36C209.17,32.92 210.25,30.33 211.5,28.5C212.75,26.67 214,25.62 215.5,25C217,24.38 218.92,25.38 220.5,24.8C222.08,24.22 223.58,23.13 225,21.5C226.42,19.87 227.67,17.25 229,15C230.33,12.75 231.83,10.17 233,8C234.17,5.83 235.5,3 236,2" fill="none" stroke="#ff2626" stroke-width="1.7" stroke-linecap="round" stroke-linejoin="round" filter="url(#f0p3_0)"/>
<path d="M209,32C209.5,31.17 210.83,28.17 212,27C213.17,25.83 214.5,25.37 216,25C217.5,24.63 219.58,25.3 221,24.8C222.42,24.3 223.92,22.47 224.5,22" fill="none" stroke="#ee2222" stroke-width="4" stroke-linecap="round" stroke-linejoin="round" filter="url(#f1p3_0)" opacity="0.8"/>
<path d="M175,120.5C175.67,120.25 177.67,119.83 179,119C180.33,118.17 181.75,117.17 183,115.5C184.25,113.83 185.33,109 186.5,109C187.67,109 188.75,114 190,115.5C191.25,117 192.5,117.67 194,118C195.5,118.33 198.17,117.58 199,117.5" fill="none" stroke="#f02828" stroke-width="2.0" stroke-linecap="round" stroke-linejoin="round" filter="url(#f0p6_0)" opacity="0.9"/>
</g>
<line x1="186.4" y1="8.1" x2="186.4" y2="236.5" stroke="#2a2a2a" stroke-width="1.1"/>
<line x1="253.6" y1="8.1" x2="253.6" y2="236.5" stroke="#2a2a2a" stroke-width="1.1"/>
<line x1="80.2" y1="30.94" x2="85.7" y2="30.94" stroke="#333" stroke-width="1.3"/>
<line x1="330.2" y1="30.94" x2="335.7" y2="30.94" stroke="#333" stroke-width="1.3"/>
<line x1="80.2" y1="53.78" x2="85.7" y2="53.78" stroke="#333" stroke-width="1.3"/>
<line x1="330.2" y1="53.78" x2="335.7" y2="53.78" stroke="#333" stroke-width="1.3"/>
<line x1="80.2" y1="76.62" x2="85.7" y2="76.62" stroke="#333" stroke-width="1.3"/>
<line x1="330.2" y1="76.62" x2="335.7" y2="76.62" stroke="#333" stroke-width="1.3"/>
<line x1="80.2" y1="99.46" x2="85.7" y2="99.46" stroke="#333" stroke-width="1.3"/>
<line x1="330.2" y1="99.46" x2="335.7" y2="99.46" stroke="#333" stroke-width="1.3"/>
<line x1="80.2" y1="122.3" x2="85.7" y2="122.3" stroke="#333" stroke-width="1.3"/>
<line x1="330.2" y1="122.3" x2="335.7" y2="122.3" stroke="#333" stroke-width="1.3"/>
<line x1="80.2" y1="145.14" x2="85.7" y2="145.14" stroke="#333" stroke-width="1.3"/>
<line x1="330.2" y1="145.14" x2="335.7" y2="145.14" stroke="#333" stroke-width="1.3"/>
<line x1="80.2" y1="167.98" x2="85.7" y2="167.98" stroke="#333" stroke-width="1.3"/>
<line x1="330.2" y1="167.98" x2="335.7" y2="167.98" stroke="#333" stroke-width="1.3"/>
<line x1="80.2" y1="190.82" x2="85.7" y2="190.82" stroke="#333" stroke-width="1.3"/>
<line x1="330.2" y1="190.82" x2="335.7" y2="190.82" stroke="#333" stroke-width="1.3"/>
<line x1="80.2" y1="213.66" x2="85.7" y2="213.66" stroke="#333" stroke-width="1.3"/>
<line x1="330.2" y1="213.66" x2="335.7" y2="213.66" stroke="#333" stroke-width="1.3"/>
<rect x="80.2" y="8.1" width="255.5" height="228.4" fill="none" stroke="#555" stroke-width="1.2"/>
<g clip-path="url(#clipb)">
<rect x="378.5" y="8.1" width="257" height="229.2" fill="#3e6aff"/>
<path d="M449,0C435.23,1.33 449.9,3.33 451.4,8C452.9,12.67 455.8,21.72 458,28C460.2,34.28 462.6,40.2 464.6,45.7C466.6,51.2 468.12,55.98 470,61C471.88,66.02 474.23,71.8 475.9,75.8C477.57,79.8 478.43,81.8 480,85C481.57,88.2 483.63,94.17 485.3,95C486.97,95.83 488.38,92.5 490,90C491.62,87.5 493.42,83.83 495,80C496.58,76.17 498.17,71.17 499.5,67C500.83,62.83 501.92,58.67 503,55C504.08,51.33 505,48 506,45C507,42 507.83,39.5 509,37C510.17,34.5 511.67,31.83 513,30C514.33,28.17 515.67,27.33 517,26C518.33,24.67 519.67,23.67 521,22C522.33,20.33 523.67,18 525,16C526.33,14 527.83,11.83 529,10C530.17,8.17 531.17,6.67 532,5C532.83,3.33 547.83,0.83 534,0C520.17,-0.83 462.77,-1.33 449,0Z" fill="#ffffff" filter="url(#f12_m12)" opacity="0.3"/>
<path d="M449,0C435.23,1.33 449.9,3.33 451.4,8C452.9,12.67 455.8,21.72 458,28C460.2,34.28 462.6,40.2 464.6,45.7C466.6,51.2 468.12,55.98 470,61C471.88,66.02 474.23,71.8 475.9,75.8C477.57,79.8 478.43,81.8 480,85C481.57,88.2 483.63,94.17 485.3,95C486.97,95.83 488.38,92.5 490,90C491.62,87.5 493.42,83.83 495,80C496.58,76.17 498.17,71.17 499.5,67C500.83,62.83 501.92,58.67 503,55C504.08,51.33 505,48 506,45C507,42 507.83,39.5 509,37C510.17,34.5 511.67,31.83 513,30C514.33,28.17 515.67,27.33 517,26C518.33,24.67 519.67,23.67 521,22C522.33,20.33 523.67,18 525,16C526.33,14 527.83,11.83 529,10C530.17,8.17 531.17,6.67 532,5C532.83,3.33 547.83,0.83 534,0C520.17,-0.83 462.77,-1.33 449,0Z" fill="#ffffff" filter="url(#f2p5_m1)" opacity="0.85"/>
<path d="M449,0C435.23,1.33 449.9,3.33 451.4,8C452.9,12.67 455.8,21.72 458,28C460.2,34.28 462.6,40.2 464.6,45.7C466.6,51.2 468.12,55.98 470,61C471.88,66.02 474.23,71.8 475.9,75.8C477.57,79.8 478.43,81.8 480,85C481.57,88.2 483.63,94.17 485.3,95C486.97,95.83 488.38,92.5 490,90C491.62,87.5 493.42,83.83 495,80C496.58,76.17 498.17,71.17 499.5,67C500.83,62.83 501.92,58.67 503,55C504.08,51.33 505,48 506,45C507,42 507.83,39.5 509,37C510.17,34.5 511.67,31.83 513,30C514.33,28.17 515.67,27.33 517,26C518.33,24.67 519.67,23.67 521,22C522.33,20.33 523.67,18 525,16C526.33,14 527.83,11.83 529,10C530.17,8.17 531.17,6.67 532,5C532.83,3.33 547.83,0.83 534,0C520.17,-0.83 462.77,-1.33 449,0Z" fill="#ffffff" filter="url(#f2_0)"/>
<path d="M449,0C435.23,1.33 449.9,3.33 451.4,8C452.9,12.67 455.8,21.72 458,28C460.2,34.28 462.6,40.2 464.6,45.7C466.6,51.2 468.12,55.98 470,61C471.88,66.02 474.23,71.8 475.9,75.8C477.57,79.8 478.43,81.8 480,85C481.57,88.2 483.63,94.17 485.3,95C486.97,95.83 488.38,92.5 490,90C491.62,87.5 493.42,83.83 495,80C496.58,76.17 498.17,71.17 499.5,67C500.83,62.83 501.92,58.67 503,55C504.08,51.33 505,48 506,45C507,42 507.83,39.5 509,37C510.17,34.5 511.67,31.83 513,30C514.33,28.17 515.67,27.33 517,26C518.33,24.67 519.67,23.67 521,22C522.33,20.33 523.67,18 525,16C526.33,14 527.83,11.83 529,10C530.17,8.17 531.17,6.67 532,5C532.83,3.33 547.83,0.83 534,0C520.17,-0.83 462.77,-1.33 449,0Z" fill="#ffe4e4" filter="url(#f1p5_2p5)"/>
<path d="M449,0C435.23,1.33 449.9,3.33 451.4,8C452.9,12.67 455.8,21.72 458,28C460.2,34.28 462.6,40.2 464.6,45.7C466.6,51.2 468.12,55.98 470,61C471.88,66.02 474.23,71.8 475.9,75.8C477.57,79.8 478.43,81.8 480,85C481.57,88.2 483.63,94.17 485.3,95C486.97,95.83 488.38,92.5 490,90C491.62,87.5 493.42,83.83 495,80C496.58,76.17 498.17,71.17 499.5,67C500.83,62.83 501.92,58.67 503,55C504.08,51.33 505,48 506,45C507,42 507.83,39.5 509,37C510.17,34.5 511.67,31.83 513,30C514.33,28.17 515.67,27.33 517,26C518.33,24.67 519.67,23.67 521,22C522.33,20.33 523.67,18 525,16C526.33,14 527.83,11.83 529,10C530.17,8.17 531.17,6.67 532,5C532.83,3.33 547.83,0.83 534,0C520.17,-0.83 462.77,-1.33 449,0Z" fill="#ffcccc" filter="url(#f4_7)"/>
<path d="M500,40C499.33,38.5 502,30.33 503,25C504,19.67 504.5,12.17 506,8C507.5,3.83 507.83,1.33 512,0C516.17,-1.33 528.5,-1.67 531,0C533.5,1.67 528.83,6.67 527,10C525.17,13.33 522.33,17.33 520,20C517.67,22.67 515.17,23.67 513,26C510.83,28.33 509.17,31.67 507,34C504.83,36.33 500.67,41.5 500,40Z" fill="#ff9a9a" filter="url(#f3_0)" opacity="0.85"/>
<path d="M538,0C533,1.33 539.17,4.33 540,8C540.83,11.67 541.92,16.67 543,22C544.08,27.33 545.33,34.5 546.5,40C547.67,45.5 549,51.33 550,55C551,58.67 551.67,61.5 552.5,62C553.33,62.5 554.08,60.83 555,58C555.92,55.17 556.83,49.67 558,45C559.17,40.33 560.75,34.67 562,30C563.25,25.33 564.47,20.67 565.5,17C566.53,13.33 567.45,10.83 568.2,8C568.95,5.17 575.03,1.33 570,0C564.97,-1.33 543,-1.33 538,0Z" fill="#ffffff" filter="url(#f12_m12)" opacity="0.3"/>
<path d="M538,0C533,1.33 539.17,4.33 540,8C540.83,11.67 541.92,16.67 543,22C544.08,27.33 545.33,34.5 546.5,40C547.67,45.5 549,51.33 550,55C551,58.67 551.67,61.5 552.5,62C553.33,62.5 554.08,60.83 555,58C555.92,55.17 556.83,49.67 558,45C559.17,40.33 560.75,34.67 562,30C563.25,25.33 564.47,20.67 565.5,17C566.53,13.33 567.45,10.83 568.2,8C568.95,5.17 575.03,1.33 570,0C564.97,-1.33 543,-1.33 538,0Z" fill="#ffffff" filter="url(#f2p5_m1)" opacity="0.85"/>
<path d="M538,0C533,1.33 539.17,4.33 540,8C540.83,11.67 541.92,16.67 543,22C544.08,27.33 545.33,34.5 546.5,40C547.67,45.5 549,51.33 550,55C551,58.67 551.67,61.5 552.5,62C553.33,62.5 554.08,60.83 555,58C555.92,55.17 556.83,49.67 558,45C559.17,40.33 560.75,34.67 562,30C563.25,25.33 564.47,20.67 565.5,17C566.53,13.33 567.45,10.83 568.2,8C568.95,5.17 575.03,1.33 570,0C564.97,-1.33 543,-1.33 538,0Z" fill="#ffffff" filter="url(#f2_0)"/>
<path d="M538,0C533,1.33 539.17,4.33 540,8C540.83,11.67 541.92,16.67 543,22C544.08,27.33 545.33,34.5 546.5,40C547.67,45.5 549,51.33 550,55C551,58.67 551.67,61.5 552.5,62C553.33,62.5 554.08,60.83 555,58C555.92,55.17 556.83,49.67 558,45C559.17,40.33 560.75,34.67 562,30C563.25,25.33 564.47,20.67 565.5,17C566.53,13.33 567.45,10.83 568.2,8C568.95,5.17 575.03,1.33 570,0C564.97,-1.33 543,-1.33 538,0Z" fill="#ffe8e8" filter="url(#f1p5_2p5)"/>
<path d="M538,0C533,1.33 539.17,4.33 540,8C540.83,11.67 541.92,16.67 543,22C544.08,27.33 545.33,34.5 546.5,40C547.67,45.5 549,51.33 550,55C551,58.67 551.67,61.5 552.5,62C553.33,62.5 554.08,60.83 555,58C555.92,55.17 556.83,49.67 558,45C559.17,40.33 560.75,34.67 562,30C563.25,25.33 564.47,20.67 565.5,17C566.53,13.33 567.45,10.83 568.2,8C568.95,5.17 575.03,1.33 570,0C564.97,-1.33 543,-1.33 538,0Z" fill="#ffd4d4" filter="url(#f4_6)"/>
<path d="M530,158C527.17,154.67 535.08,139.5 537,132C538.92,124.5 540.3,117.67 541.5,113C542.7,108.33 543.28,104 544.2,104C545.12,104 546.03,108.67 547,113C547.97,117.33 548.83,123.5 550,130C551.17,136.5 557.33,147.33 554,152C550.67,156.67 532.83,161.33 530,158Z" fill="#ffffff" filter="url(#f2p5_0)"/>
<path d="M534,158C531.83,154.33 537.67,140.67 539,134C540.33,127.33 541.13,121.83 542,118C542.87,114.17 543.45,111 544.2,111C544.95,111 545.7,114.17 546.5,118C547.3,121.83 548.08,127.67 549,134C549.92,140.33 554.5,152 552,156C549.5,160 536.17,161.67 534,158Z" fill="#ffc8c8" filter="url(#f2_0)"/>
<path d="M549,152C545,149.67 550.75,138 552,133C553.25,128 554.83,123.33 556.5,122C558.17,120.67 560.08,123.17 562,125C563.92,126.83 565.67,129.33 568,133C570.33,136.67 579.17,143.83 576,147C572.83,150.17 553,154.33 549,152Z" fill="#ffffff" filter="url(#f2p5_0)" opacity="0.9"/>
<path d="M552,152C549.17,150 554,139.83 555,136C556,132.17 556.67,129.83 558,129C559.33,128.17 561.33,129.33 563,131C564.67,132.67 566.5,136.17 568,139C569.5,141.83 574.67,145.83 572,148C569.33,150.17 554.83,154 552,152Z" fill="#ffd4d4" filter="url(#f2p5_0)" opacity="0.9"/>
<path d="M327,193C334.5,177.33 363.5,194.33 372,193C380.5,191.67 376,188 378,185C380,182 382.12,177.42 384,175C385.88,172.58 387.47,170.75 389.3,170.5C391.13,170.25 393.22,171.75 395,173.5C396.78,175.25 398.5,179 400,181C401.5,183 402.52,184.5 404,185.5C405.48,186.5 407.07,187.25 408.9,187C410.73,186.75 412.98,185.5 415,184C417.02,182.5 419.23,179.9 421,178C422.77,176.1 423.77,175.1 425.6,172.6C427.43,170.1 429.88,166.43 432,163C434.12,159.57 436.13,155.83 438.3,152C440.47,148.17 442.87,143.6 445,140C447.13,136.4 449.02,133.07 451.1,130.4C453.18,127.73 455.02,125.98 457.5,124C459.98,122.02 463.42,120.25 466,118.5C468.58,116.75 470.8,115.58 473,113.5C475.2,111.42 477.15,108.25 479.2,106C481.25,103.75 483.33,100.5 485.3,100C487.27,99.5 488.72,102.5 491,103C493.28,103.5 496.67,101.83 499,103C501.33,104.17 502.92,106.17 505,110C507.08,113.83 509.38,120.67 511.5,126C513.62,131.33 515.65,136.33 517.7,142C519.75,147.67 522.08,156.5 523.8,160C525.52,163.5 526.3,163.67 528,163C529.7,162.33 532,157.67 534,156C536,154.33 538,153.33 540,153C542,152.67 543.83,153.17 546,154C548.17,154.83 550.23,158 553,158C555.77,158 559.6,155.33 562.6,154C565.6,152.67 568.1,150.67 571,150C573.9,149.33 577,148.55 580,150C583,151.45 585.67,156.7 589,158.7C592.33,160.7 596.25,161.45 600,162C603.75,162.55 608.17,161.33 611.5,162C614.83,162.67 617.48,164 620,166C622.52,168 623.93,170.5 626.6,174C629.27,177.5 633.43,183.33 636,187C638.57,190.67 633.5,194.5 642,196C650.5,197.5 679.5,180.83 687,196C694.5,211.17 747,271.83 687,287C627,302.17 387,302.67 327,287C267,271.33 319.5,208.67 327,193Z" fill="#ffffff" filter="url(#f14_m14)" opacity="0.55"/>
<path d="M327,193C334.5,177.33 363.5,194.33 372,193C380.5,191.67 376,188 378,185C380,182 382.12,177.42 384,175C385.88,172.58 387.47,170.75 389.3,170.5C391.13,170.25 393.22,171.75 395,173.5C396.78,175.25 398.5,179 400,181C401.5,183 402.52,184.5 404,185.5C405.48,186.5 407.07,187.25 408.9,187C410.73,186.75 412.98,185.5 415,184C417.02,182.5 419.23,179.9 421,178C422.77,176.1 423.77,175.1 425.6,172.6C427.43,170.1 429.88,166.43 432,163C434.12,159.57 436.13,155.83 438.3,152C440.47,148.17 442.87,143.6 445,140C447.13,136.4 449.02,133.07 451.1,130.4C453.18,127.73 455.02,125.98 457.5,124C459.98,122.02 463.42,120.25 466,118.5C468.58,116.75 470.8,115.58 473,113.5C475.2,111.42 477.15,108.25 479.2,106C481.25,103.75 483.33,100.5 485.3,100C487.27,99.5 488.72,102.5 491,103C493.28,103.5 496.67,101.83 499,103C501.33,104.17 502.92,106.17 505,110C507.08,113.83 509.38,120.67 511.5,126C513.62,131.33 515.65,136.33 517.7,142C519.75,147.67 522.08,156.5 523.8,160C525.52,163.5 526.3,163.67 528,163C529.7,162.33 532,157.67 534,156C536,154.33 538,153.33 540,153C542,152.67 543.83,153.17 546,154C548.17,154.83 550.23,158 553,158C555.77,158 559.6,155.33 562.6,154C565.6,152.67 568.1,150.67 571,150C573.9,149.33 577,148.55 580,150C583,151.45 585.67,156.7 589,158.7C592.33,160.7 596.25,161.45 600,162C603.75,162.55 608.17,161.33 611.5,162C614.83,162.67 617.48,164 620,166C622.52,168 623.93,170.5 626.6,174C629.27,177.5 633.43,183.33 636,187C638.57,190.67 633.5,194.5 642,196C650.5,197.5 679.5,180.83 687,196C694.5,211.17 747,271.83 687,287C627,302.17 387,302.67 327,287C267,271.33 319.5,208.67 327,193Z" fill="#ffffff" filter="url(#f4_m4)"/>
<path d="M327,193C334.5,177.33 363.5,194.33 372,193C380.5,191.67 376,188 378,185C380,182 382.12,177.42 384,175C385.88,172.58 387.47,170.75 389.3,170.5C391.13,170.25 393.22,171.75 395,173.5C396.78,175.25 398.5,179 400,181C401.5,183 402.52,184.5 404,185.5C405.48,186.5 407.07,187.25 408.9,187C410.73,186.75 412.98,185.5 415,184C417.02,182.5 419.23,179.9 421,178C422.77,176.1 423.77,175.1 425.6,172.6C427.43,170.1 429.88,166.43 432,163C434.12,159.57 436.13,155.83 438.3,152C440.47,148.17 442.87,143.6 445,140C447.13,136.4 449.02,133.07 451.1,130.4C453.18,127.73 455.02,125.98 457.5,124C459.98,122.02 463.42,120.25 466,118.5C468.58,116.75 470.8,115.58 473,113.5C475.2,111.42 477.15,108.25 479.2,106C481.25,103.75 483.33,100.5 485.3,100C487.27,99.5 488.72,102.5 491,103C493.28,103.5 496.67,101.83 499,103C501.33,104.17 502.92,106.17 505,110C507.08,113.83 509.38,120.67 511.5,126C513.62,131.33 515.65,136.33 517.7,142C519.75,147.67 522.08,156.5 523.8,160C525.52,163.5 526.3,163.67 528,163C529.7,162.33 532,157.67 534,156C536,154.33 538,153.33 540,153C542,152.67 543.83,153.17 546,154C548.17,154.83 550.23,158 553,158C555.77,158 559.6,155.33 562.6,154C565.6,152.67 568.1,150.67 571,150C573.9,149.33 577,148.55 580,150C583,151.45 585.67,156.7 589,158.7C592.33,160.7 596.25,161.45 600,162C603.75,162.55 608.17,161.33 611.5,162C614.83,162.67 617.48,164 620,166C622.52,168 623.93,170.5 626.6,174C629.27,177.5 633.43,183.33 636,187C638.57,190.67 633.5,194.5 642,196C650.5,197.5 679.5,180.83 687,196C694.5,211.17 747,271.83 687,287C627,302.17 387,302.67 327,287C267,271.33 319.5,208.67 327,193Z" fill="#ffffff" filter="url(#f4_0)" opacity="0.9"/>
<path d="M327,193C334.5,177.33 363.5,194.33 372,193C380.5,191.67 376,188 378,185C380,182 382.12,177.42 384,175C385.88,172.58 387.47,170.75 389.3,170.5C391.13,170.25 393.22,171.75 395,173.5C396.78,175.25 398.5,179 400,181C401.5,183 402.52,184.5 404,185.5C405.48,186.5 407.07,187.25 408.9,187C410.73,186.75 412.98,185.5 415,184C417.02,182.5 419.23,179.9 421,178C422.77,176.1 423.77,175.1 425.6,172.6C427.43,170.1 429.88,166.43 432,163C434.12,159.57 436.13,155.83 438.3,152C440.47,148.17 442.87,143.6 445,140C447.13,136.4 449.02,133.07 451.1,130.4C453.18,127.73 455.02,125.98 457.5,124C459.98,122.02 463.42,120.25 466,118.5C468.58,116.75 470.8,115.58 473,113.5C475.2,111.42 477.15,108.25 479.2,106C481.25,103.75 483.33,100.5 485.3,100C487.27,99.5 488.72,102.5 491,103C493.28,103.5 496.67,101.83 499,103C501.33,104.17 502.92,106.17 505,110C507.08,113.83 509.38,120.67 511.5,126C513.62,131.33 515.65,136.33 517.7,142C519.75,147.67 522.08,156.5 523.8,160C525.52,163.5 526.3,163.67 528,163C529.7,162.33 532,157.67 534,156C536,154.33 538,153.33 540,153C542,152.67 543.83,153.17 546,154C548.17,154.83 550.23,158 553,158C555.77,158 559.6,155.33 562.6,154C565.6,152.67 568.1,150.67 571,150C573.9,149.33 577,148.55 580,150C583,151.45 585.67,156.7 589,158.7C592.33,160.7 596.25,161.45 600,162C603.75,162.55 608.17,161.33 611.5,162C614.83,162.67 617.48,164 620,166C622.52,168 623.93,170.5 626.6,174C629.27,177.5 633.43,183.33 636,187C638.57,190.67 633.5,194.5 642,196C650.5,197.5 679.5,180.83 687,196C694.5,211.17 747,271.83 687,287C627,302.17 387,302.67 327,287C267,271.33 319.5,208.67 327,193Z" fill="#ffa8a8" filter="url(#f2_0)"/>
<path d="M327,193C334.5,177.33 363.5,194.33 372,193C380.5,191.67 376,188 378,185C380,182 382.12,177.42 384,175C385.88,172.58 387.47,170.75 389.3,170.5C391.13,170.25 393.22,171.75 395,173.5C396.78,175.25 398.5,179 400,181C401.5,183 402.52,184.5 404,185.5C405.48,186.5 407.07,187.25 408.9,187C410.73,186.75 412.98,185.5 415,184C417.02,182.5 419.23,179.9 421,178C422.77,176.1 423.77,175.1 425.6,172.6C427.43,170.1 429.88,166.43 432,163C434.12,159.57 436.13,155.83 438.3,152C440.47,148.17 442.87,143.6 445,140C447.13,136.4 449.02,133.07 451.1,130.4C453.18,127.73 455.02,125.98 457.5,124C459.98,122.02 463.42,120.25 466,118.5C468.58,116.75 470.8,115.58 473,113.5C475.2,111.42 477.15,108.25 479.2,106C481.25,103.75 483.33,100.5 485.3,100C487.27,99.5 488.72,102.5 491,103C493.28,103.5 496.67,101.83 499,103C501.33,104.17 502.92,106.17 505,110C507.08,113.83 509.38,120.67 511.5,126C513.62,131.33 515.65,136.33 517.7,142C519.75,147.67 522.08,156.5 523.8,160C525.52,163.5 526.3,163.67 528,163C529.7,162.33 532,157.67 534,156C536,154.33 538,153.33 540,153C542,152.67 543.83,153.17 546,154C548.17,154.83 550.23,158 553,158C555.77,158 559.6,155.33 562.6,154C565.6,152.67 568.1,150.67 571,150C573.9,149.33 577,148.55 580,150C583,151.45 585.67,156.7 589,158.7C592.33,160.7 596.25,161.45 600,162C603.75,162.55 608.17,161.33 611.5,162C614.83,162.67 617.48,164 620,166C622.52,168 623.93,170.5 626.6,174C629.27,177.5 633.43,183.33 636,187C638.57,190.67 633.5,194.5 642,196C650.5,197.5 679.5,180.83 687,196C694.5,211.17 747,271.83 687,287C627,302.17 387,302.67 327,287C267,271.33 319.5,208.67 327,193Z" fill="#ffa8a8" filter="url(#f1p5_1)"/>
<path d="M327,193C334.5,177.33 363.5,194.33 372,193C380.5,191.67 376,188 378,185C380,182 382.12,177.42 384,175C385.88,172.58 387.47,170.75 389.3,170.5C391.13,170.25 393.22,171.75 395,173.5C396.78,175.25 398.5,179 400,181C401.5,183 402.52,184.5 404,185.5C405.48,186.5 407.07,187.25 408.9,187C410.73,186.75 412.98,185.5 415,184C417.02,182.5 419.23,179.9 421,178C422.77,176.1 423.77,175.1 425.6,172.6C427.43,170.1 429.88,166.43 432,163C434.12,159.57 436.13,155.83 438.3,152C440.47,148.17 442.87,143.6 445,140C447.13,136.4 449.02,133.07 451.1,130.4C453.18,127.73 455.02,125.98 457.5,124C459.98,122.02 463.42,120.25 466,118.5C468.58,116.75 470.8,115.58 473,113.5C475.2,111.42 477.15,108.25 479.2,106C481.25,103.75 483.33,100.5 485.3,100C487.27,99.5 488.72,102.5 491,103C493.28,103.5 496.67,101.83 499,103C501.33,104.17 502.92,106.17 505,110C507.08,113.83 509.38,120.67 511.5,126C513.62,131.33 515.65,136.33 517.7,142C519.75,147.67 522.08,156.5 523.8,160C525.52,163.5 526.3,163.67 528,163C529.7,162.33 532,157.67 534,156C536,154.33 538,153.33 540,153C542,152.67 543.83,153.17 546,154C548.17,154.83 550.23,158 553,158C555.77,158 559.6,155.33 562.6,154C565.6,152.67 568.1,150.67 571,150C573.9,149.33 577,148.55 580,150C583,151.45 585.67,156.7 589,158.7C592.33,160.7 596.25,161.45 600,162C603.75,162.55 608.17,161.33 611.5,162C614.83,162.67 617.48,164 620,166C622.52,168 623.93,170.5 626.6,174C629.27,177.5 633.43,183.33 636,187C638.57,190.67 633.5,194.5 642,196C650.5,197.5 679.5,180.83 687,196C694.5,211.17 747,271.83 687,287C627,302.17 387,302.67 327,287C267,271.33 319.5,208.67 327,193Z" fill="#ff9494" filter="url(#f4_8)"/>
<path d="M327,193C334.5,177.33 363.5,194.33 372,193C380.5,191.67 376,188 378,185C380,182 382.12,177.42 384,175C385.88,172.58 387.47,170.75 389.3,170.5C391.13,170.25 393.22,171.75 395,173.5C396.78,175.25 398.5,179 400,181C401.5,183 402.52,184.5 404,185.5C405.48,186.5 407.07,187.25 408.9,187C410.73,186.75 412.98,185.5 415,184C417.02,182.5 419.23,179.9 421,178C422.77,176.1 423.77,175.1 425.6,172.6C427.43,170.1 429.88,166.43 432,163C434.12,159.57 436.13,155.83 438.3,152C440.47,148.17 442.87,143.6 445,140C447.13,136.4 449.02,133.07 451.1,130.4C453.18,127.73 455.02,125.98 457.5,124C459.98,122.02 463.42,120.25 466,118.5C468.58,116.75 470.8,115.58 473,113.5C475.2,111.42 477.15,108.25 479.2,106C481.25,103.75 483.33,100.5 485.3,100C487.27,99.5 488.72,102.5 491,103C493.28,103.5 496.67,101.83 499,103C501.33,104.17 502.92,106.17 505,110C507.08,113.83 509.38,120.67 511.5,126C513.62,131.33 515.65,136.33 517.7,142C519.75,147.67 522.08,156.5 523.8,160C525.52,163.5 526.3,163.67 528,163C529.7,162.33 532,157.67 534,156C536,154.33 538,153.33 540,153C542,152.67 543.83,153.17 546,154C548.17,154.83 550.23,158 553,158C555.77,158 559.6,155.33 562.6,154C565.6,152.67 568.1,150.67 571,150C573.9,149.33 577,148.55 580,150C583,151.45 585.67,156.7 589,158.7C592.33,160.7 596.25,161.45 600,162C603.75,162.55 608.17,161.33 611.5,162C614.83,162.67 617.48,164 620,166C622.52,168 623.93,170.5 626.6,174C629.27,177.5 633.43,183.33 636,187C638.57,190.67 633.5,194.5 642,196C650.5,197.5 679.5,180.83 687,196C694.5,211.17 747,271.83 687,287C627,302.17 387,302.67 327,287C267,271.33 319.5,208.67 327,193Z" fill="#ff8080" filter="url(#f8_20)"/>
<path d="M468,140C470.67,121.33 480.67,126.67 486,125C491.33,123.33 496.83,122.5 500,130C503.17,137.5 505.33,152.17 505,170C504.67,187.83 503.83,225.83 498,237C492.17,248.17 475,253.17 470,237C465,220.83 465.33,158.67 468,140Z" fill="#ffc8c8" filter="url(#f8_0)" opacity="0.7"/>
<path d="M472,120.5 L486,108 L500,110 L494,122 L486,134Z" fill="#ffffff" filter="url(#f1p5_0)"/>
<path d="M475.5,120.5 L486,111 L496,112 L491.5,121.5 L486,129.5Z" fill="#8ea8fa" filter="url(#f1p5_0)"/>
<path d="M548,237C548.5,234.5 549.33,225.83 551,222C552.67,218.17 555.5,214.67 558,214C560.5,213.33 563.83,215 566,218C568.17,221 570.17,229.67 571,232" fill="none" stroke="#ff4040" stroke-width="4" stroke-linecap="round" stroke-linejoin="round" filter="url(#f2_0)" opacity="0.7"/>
<path d="M551,242C548.5,239.33 552.5,229.67 554,226C555.5,222.33 558,220.33 560,220C562,219.67 564.5,220.33 566,224C567.5,227.67 571.5,239 569,242C566.5,245 553.5,244.67 551,242Z" fill="#ffffff" filter="url(#f2_0)"/>
<path d="M395,182C396.17,183.33 399.5,188 402,190C404.5,192 407,194 410,194C413,194 418.33,190.67 420,190" fill="none" stroke="#ff6060" stroke-width="5" stroke-linecap="round" stroke-linejoin="round" filter="url(#f2p5_0)" opacity="0.6"/>
<path d="M383,200C385.83,202.5 393.83,210.83 400,215C406.17,219.17 413.33,222.17 420,225C426.67,227.83 436.67,230.83 440,232" fill="none" stroke="#ff7070" stroke-width="6" stroke-linecap="round" stroke-linejoin="round" filter="url(#f4_0)" opacity="0.4"/>
<path d="M575,165C577.5,167.5 585,173.33 590,180C595,186.67 600,195.5 605,205C610,214.5 617.5,231.67 620,237" fill="none" stroke="#ff6a6a" stroke-width="5" stroke-linecap="round" stroke-linejoin="round" filter="url(#f3_0)" opacity="0.45"/>
<path d="M530,170C530.83,175 533.33,188.83 535,200C536.67,211.17 539.17,230.83 540,237" fill="none" stroke="#ff6a6a" stroke-width="6" stroke-linecap="round" stroke-linejoin="round" filter="url(#f3_0)" opacity="0.4"/>
<path d="M372,189C373,187.67 376,184 378,181C380,178 382.12,173.42 384,171C385.88,168.58 387.47,166.75 389.3,166.5C391.13,166.25 393.22,167.75 395,169.5C396.78,171.25 398.5,175 400,177C401.5,179 402.52,180.5 404,181.5C405.48,182.5 407.07,183.25 408.9,183C410.73,182.75 412.98,181.5 415,180C417.02,178.5 419.23,175.9 421,174C422.77,172.1 423.77,171.1 425.6,168.6C427.43,166.1 429.88,162.42 432,159C434.12,155.58 436.13,151.93 438.3,148.1C440.47,144.27 442.87,139.62 445,136C447.13,132.38 449.02,129.07 451.1,126.4C453.18,123.73 455.02,121.98 457.5,120C459.98,118.02 463.42,116.25 466,114.5C468.58,112.75 470.8,111.57 473,109.5C475.2,107.43 477.13,104.72 479.2,102.1C481.27,99.48 483.43,94.33 485.4,93.8C487.37,93.27 488.68,98.05 491,98.9C493.32,99.75 496.9,97.72 499.3,98.9C501.7,100.08 503.37,102.08 505.4,106C507.43,109.92 509.45,116.95 511.5,122.4C513.55,127.85 515.65,132.93 517.7,138.7C519.75,144.47 522.1,153.45 523.8,157C525.5,160.55 526.2,160.67 527.9,160C529.6,159.33 531.98,154.67 534,153C536.02,151.33 537.95,150.33 540,150C542.05,149.67 544.07,150.17 546.3,151C548.53,151.83 550.68,155 553.4,155C556.12,155 559.7,152.33 562.6,151C565.5,149.67 567.9,147.67 570.8,147C573.7,146.33 576.97,145.83 580,147C583.03,148.17 585.67,152.17 589,154C592.33,155.83 596.25,157.33 600,158C603.75,158.67 608.17,157.33 611.5,158C614.83,158.67 617.48,160 620,162C622.52,164 623.93,166.5 626.6,170C629.27,173.5 633.43,179.33 636,183C638.57,186.67 641,190.5 642,192" fill="none" stroke="#ffffff" stroke-width="6" stroke-linecap="round" stroke-linejoin="round" filter="url(#f2_0)" opacity="0.8"/>
<path d="M372,192C373,190.67 376,187 378,184C380,181 382.12,176.42 384,174C385.88,171.58 387.47,169.75 389.3,169.5C391.13,169.25 393.22,170.75 395,172.5C396.78,174.25 398.5,178 400,180C401.5,182 402.52,183.5 404,184.5C405.48,185.5 407.07,186.25 408.9,186C410.73,185.75 412.98,184.5 415,183C417.02,181.5 419.23,178.9 421,177C422.77,175.1 423.77,174.1 425.6,171.6C427.43,169.1 429.88,165.42 432,162C434.12,158.58 436.13,154.93 438.3,151.1C440.47,147.27 442.87,142.62 445,139C447.13,135.38 449.02,132.07 451.1,129.4C453.18,126.73 455.02,124.98 457.5,123C459.98,121.02 463.42,119.25 466,117.5C468.58,115.75 470.8,114.57 473,112.5C475.2,110.43 477.13,107.72 479.2,105.1C481.27,102.48 483.43,97.33 485.4,96.8C487.37,96.27 488.68,101.05 491,101.9C493.32,102.75 496.9,100.72 499.3,101.9C501.7,103.08 503.37,105.08 505.4,109C507.43,112.92 509.45,119.95 511.5,125.4C513.55,130.85 515.65,135.93 517.7,141.7C519.75,147.47 522.1,156.45 523.8,160C525.5,163.55 526.2,163.67 527.9,163C529.6,162.33 531.98,157.67 534,156C536.02,154.33 537.95,153.33 540,153C542.05,152.67 544.07,153.17 546.3,154C548.53,154.83 550.68,158 553.4,158C556.12,158 559.7,155.33 562.6,154C565.5,152.67 567.9,150.67 570.8,150C573.7,149.33 576.97,148.83 580,150C583.03,151.17 585.67,155.17 589,157C592.33,158.83 596.25,160.33 600,161C603.75,161.67 608.17,160.33 611.5,161C614.83,161.67 617.48,163 620,165C622.52,167 623.93,169.5 626.6,173C629.27,176.5 633.43,182.33 636,186C638.57,189.67 641,193.5 642,195" fill="none" stroke="#f01414" stroke-width="1.9" stroke-linecap="round" stroke-linejoin="round" filter="url(#f0p5_0)"/>
<path d="M485.3,96C485.75,94.67 487.05,90.83 488,88C488.95,85.17 490,82.17 491,79C492,75.83 493.08,72.17 494,69C494.92,65.83 495.75,62.67 496.5,60C497.25,57.33 498.17,54.17 498.5,53" fill="none" stroke="#ff3030" stroke-width="1.5" stroke-linecap="round" stroke-linejoin="round" filter="url(#f0p5_0)" opacity="0.8"/>
<path d="M476,78C476.67,79.33 478.83,83.75 480,86C481.17,88.25 482.12,89.83 483,91.5C483.88,93.17 484.92,95.25 485.3,96" fill="none" stroke="#ff3030" stroke-width="1.3" stroke-linecap="round" stroke-linejoin="round" filter="url(#f0p5_0)" opacity="0.6"/>
<path d="M378,190C379,188.33 382.12,182.33 384,180C385.88,177.67 387.47,176.08 389.3,176C391.13,175.92 393.22,177.83 395,179.5C396.78,181.17 398.5,184.17 400,186C401.5,187.83 402.5,189.5 404,190.5C405.5,191.5 407.17,192.17 409,192C410.83,191.83 413,190.83 415,189.5C417,188.17 420,184.92 421,184" fill="none" stroke="#ff6060" stroke-width="1.6" stroke-linecap="round" stroke-linejoin="round" filter="url(#f0p8_0)" opacity="0.7"/>
<path d="M560,161C561.67,160.33 566.67,157.67 570,157C573.33,156.33 576.83,155.83 580,157C583.17,158.17 585.67,162.17 589,164C592.33,165.83 596.33,167.33 600,168C603.67,168.67 607.67,167.33 611,168C614.33,168.67 617.33,170 620,172C622.67,174 624.33,176.5 627,180C629.67,183.5 634.5,190.83 636,193" fill="none" stroke="#ff5050" stroke-width="2.2" stroke-linecap="round" stroke-linejoin="round" filter="url(#f1_0)" opacity="0.8"/>
</g>
<line x1="486.1" y1="8.1" x2="486.1" y2="237.3" stroke="#2a2a2a" stroke-width="1.1"/>
<line x1="553.1" y1="8.1" x2="553.1" y2="237.3" stroke="#2a2a2a" stroke-width="1.1"/>
<line x1="378.5" y1="31.02" x2="384" y2="31.02" stroke="#333" stroke-width="1.3"/>
<line x1="630" y1="31.02" x2="635.5" y2="31.02" stroke="#333" stroke-width="1.3"/>
<line x1="378.5" y1="53.94" x2="384" y2="53.94" stroke="#333" stroke-width="1.3"/>
<line x1="630" y1="53.94" x2="635.5" y2="53.94" stroke="#333" stroke-width="1.3"/>
<line x1="378.5" y1="76.86" x2="384" y2="76.86" stroke="#333" stroke-width="1.3"/>
<line x1="630" y1="76.86" x2="635.5" y2="76.86" stroke="#333" stroke-width="1.3"/>
<line x1="378.5" y1="99.78" x2="384" y2="99.78" stroke="#333" stroke-width="1.3"/>
<line x1="630" y1="99.78" x2="635.5" y2="99.78" stroke="#333" stroke-width="1.3"/>
<line x1="378.5" y1="122.7" x2="384" y2="122.7" stroke="#333" stroke-width="1.3"/>
<line x1="630" y1="122.7" x2="635.5" y2="122.7" stroke="#333" stroke-width="1.3"/>
<line x1="378.5" y1="145.62" x2="384" y2="145.62" stroke="#333" stroke-width="1.3"/>
<line x1="630" y1="145.62" x2="635.5" y2="145.62" stroke="#333" stroke-width="1.3"/>
<line x1="378.5" y1="168.54" x2="384" y2="168.54" stroke="#333" stroke-width="1.3"/>
<line x1="630" y1="168.54" x2="635.5" y2="168.54" stroke="#333" stroke-width="1.3"/>
<line x1="378.5" y1="191.46" x2="384" y2="191.46" stroke="#333" stroke-width="1.3"/>
<line x1="630" y1="191.46" x2="635.5" y2="191.46" stroke="#333" stroke-width="1.3"/>
<line x1="378.5" y1="214.38" x2="384" y2="214.38" stroke="#333" stroke-width="1.3"/>
<line x1="630" y1="214.38" x2="635.5" y2="214.38" stroke="#333" stroke-width="1.3"/>
<rect x="378.5" y="8.1" width="257" height="229.2" fill="none" stroke="#555" stroke-width="1.2"/>
<g clip-path="url(#clipc)">
<rect x="78.1" y="262.4" width="259.3" height="231" fill="#3e6aff"/>
<path d="M148,255C133.5,256.23 149.42,257.4 151,262.4C152.58,267.4 155.42,277.9 157.5,285C159.58,292.1 161.67,299.17 163.5,305C165.33,310.83 167,315.33 168.5,320C170,324.67 171.25,329 172.5,333C173.75,337 174.75,340 176,344C177.25,348 178.43,352.33 180,357C181.57,361.67 183.9,371.17 185.4,372C186.9,372.83 187.93,364.52 189,362C190.07,359.48 190.72,360.9 191.8,356.9C192.88,352.9 194.23,344.33 195.5,338C196.77,331.67 198.15,325.23 199.4,318.9C200.65,312.57 201.73,305.68 203,300C204.27,294.32 205.67,288.13 207,284.8C208.33,281.47 209.73,280.97 211,280C212.27,279.03 213.43,279.17 214.6,279C215.77,278.83 216.73,279.33 218,279C219.27,278.67 220.7,278.17 222.2,277C223.7,275.83 225.45,273.67 227,272C228.55,270.33 230.08,268.6 231.5,267C232.92,265.4 234.42,264.4 235.5,262.4C236.58,260.4 252.58,256.23 238,255C223.42,253.77 162.5,253.77 148,255Z" fill="#ffffff" filter="url(#f14_m14)" opacity="0.35"/>
<path d="M148,255C133.5,256.23 149.42,257.4 151,262.4C152.58,267.4 155.42,277.9 157.5,285C159.58,292.1 161.67,299.17 163.5,305C165.33,310.83 167,315.33 168.5,320C170,324.67 171.25,329 172.5,333C173.75,337 174.75,340 176,344C177.25,348 178.43,352.33 180,357C181.57,361.67 183.9,371.17 185.4,372C186.9,372.83 187.93,364.52 189,362C190.07,359.48 190.72,360.9 191.8,356.9C192.88,352.9 194.23,344.33 195.5,338C196.77,331.67 198.15,325.23 199.4,318.9C200.65,312.57 201.73,305.68 203,300C204.27,294.32 205.67,288.13 207,284.8C208.33,281.47 209.73,280.97 211,280C212.27,279.03 213.43,279.17 214.6,279C215.77,278.83 216.73,279.33 218,279C219.27,278.67 220.7,278.17 222.2,277C223.7,275.83 225.45,273.67 227,272C228.55,270.33 230.08,268.6 231.5,267C232.92,265.4 234.42,264.4 235.5,262.4C236.58,260.4 252.58,256.23 238,255C223.42,253.77 162.5,253.77 148,255Z" fill="#ffffff" filter="url(#f2p5_m1)" opacity="0.85"/>
<path d="M148,255C133.5,256.23 149.42,257.4 151,262.4C152.58,267.4 155.42,277.9 157.5,285C159.58,292.1 161.67,299.17 163.5,305C165.33,310.83 167,315.33 168.5,320C170,324.67 171.25,329 172.5,333C173.75,337 174.75,340 176,344C177.25,348 178.43,352.33 180,357C181.57,361.67 183.9,371.17 185.4,372C186.9,372.83 187.93,364.52 189,362C190.07,359.48 190.72,360.9 191.8,356.9C192.88,352.9 194.23,344.33 195.5,338C196.77,331.67 198.15,325.23 199.4,318.9C200.65,312.57 201.73,305.68 203,300C204.27,294.32 205.67,288.13 207,284.8C208.33,281.47 209.73,280.97 211,280C212.27,279.03 213.43,279.17 214.6,279C215.77,278.83 216.73,279.33 218,279C219.27,278.67 220.7,278.17 222.2,277C223.7,275.83 225.45,273.67 227,272C228.55,270.33 230.08,268.6 231.5,267C232.92,265.4 234.42,264.4 235.5,262.4C236.58,260.4 252.58,256.23 238,255C223.42,253.77 162.5,253.77 148,255Z" fill="#ffffff" filter="url(#f2_0)"/>
<path d="M148,255C133.5,256.23 149.42,257.4 151,262.4C152.58,267.4 155.42,277.9 157.5,285C159.58,292.1 161.67,299.17 163.5,305C165.33,310.83 167,315.33 168.5,320C170,324.67 171.25,329 172.5,333C173.75,337 174.75,340 176,344C177.25,348 178.43,352.33 180,357C181.57,361.67 183.9,371.17 185.4,372C186.9,372.83 187.93,364.52 189,362C190.07,359.48 190.72,360.9 191.8,356.9C192.88,352.9 194.23,344.33 195.5,338C196.77,331.67 198.15,325.23 199.4,318.9C200.65,312.57 201.73,305.68 203,300C204.27,294.32 205.67,288.13 207,284.8C208.33,281.47 209.73,280.97 211,280C212.27,279.03 213.43,279.17 214.6,279C215.77,278.83 216.73,279.33 218,279C219.27,278.67 220.7,278.17 222.2,277C223.7,275.83 225.45,273.67 227,272C228.55,270.33 230.08,268.6 231.5,267C232.92,265.4 234.42,264.4 235.5,262.4C236.58,260.4 252.58,256.23 238,255C223.42,253.77 162.5,253.77 148,255Z" fill="#ffe6e6" filter="url(#f1p5_2p5)"/>
<path d="M148,255C133.5,256.23 149.42,257.4 151,262.4C152.58,267.4 155.42,277.9 157.5,285C159.58,292.1 161.67,299.17 163.5,305C165.33,310.83 167,315.33 168.5,320C170,324.67 171.25,329 172.5,333C173.75,337 174.75,340 176,344C177.25,348 178.43,352.33 180,357C181.57,361.67 183.9,371.17 185.4,372C186.9,372.83 187.93,364.52 189,362C190.07,359.48 190.72,360.9 191.8,356.9C192.88,352.9 194.23,344.33 195.5,338C196.77,331.67 198.15,325.23 199.4,318.9C200.65,312.57 201.73,305.68 203,300C204.27,294.32 205.67,288.13 207,284.8C208.33,281.47 209.73,280.97 211,280C212.27,279.03 213.43,279.17 214.6,279C215.77,278.83 216.73,279.33 218,279C219.27,278.67 220.7,278.17 222.2,277C223.7,275.83 225.45,273.67 227,272C228.55,270.33 230.08,268.6 231.5,267C232.92,265.4 234.42,264.4 235.5,262.4C236.58,260.4 252.58,256.23 238,255C223.42,253.77 162.5,253.77 148,255Z" fill="#ffd6d6" filter="url(#f4_6)"/>
<path d="M241,255C236.83,256.23 242.17,259.4 243,262.4C243.83,265.4 244.92,269.4 246,273C247.08,276.6 248.28,280.77 249.5,284C250.72,287.23 252.05,292.07 253.3,292.4C254.55,292.73 255.72,288.9 257,286C258.28,283.1 259.83,278.33 261,275C262.17,271.67 263.17,268.1 264,266C264.83,263.9 265.33,264.23 266,262.4C266.67,260.57 272.17,256.23 268,255C263.83,253.77 245.17,253.77 241,255Z" fill="#ffffff" filter="url(#f14_m14)" opacity="0.35"/>
<path d="M241,255C236.83,256.23 242.17,259.4 243,262.4C243.83,265.4 244.92,269.4 246,273C247.08,276.6 248.28,280.77 249.5,284C250.72,287.23 252.05,292.07 253.3,292.4C254.55,292.73 255.72,288.9 257,286C258.28,283.1 259.83,278.33 261,275C262.17,271.67 263.17,268.1 264,266C264.83,263.9 265.33,264.23 266,262.4C266.67,260.57 272.17,256.23 268,255C263.83,253.77 245.17,253.77 241,255Z" fill="#ffffff" filter="url(#f2p5_m1)" opacity="0.85"/>
<path d="M241,255C236.83,256.23 242.17,259.4 243,262.4C243.83,265.4 244.92,269.4 246,273C247.08,276.6 248.28,280.77 249.5,284C250.72,287.23 252.05,292.07 253.3,292.4C254.55,292.73 255.72,288.9 257,286C258.28,283.1 259.83,278.33 261,275C262.17,271.67 263.17,268.1 264,266C264.83,263.9 265.33,264.23 266,262.4C266.67,260.57 272.17,256.23 268,255C263.83,253.77 245.17,253.77 241,255Z" fill="#ffffff" filter="url(#f2_0)"/>
<path d="M241,255C236.83,256.23 242.17,259.4 243,262.4C243.83,265.4 244.92,269.4 246,273C247.08,276.6 248.28,280.77 249.5,284C250.72,287.23 252.05,292.07 253.3,292.4C254.55,292.73 255.72,288.9 257,286C258.28,283.1 259.83,278.33 261,275C262.17,271.67 263.17,268.1 264,266C264.83,263.9 265.33,264.23 266,262.4C266.67,260.57 272.17,256.23 268,255C263.83,253.77 245.17,253.77 241,255Z" fill="#ffe8e8" filter="url(#f1p5_2p5)"/>
<path d="M241,255C236.83,256.23 242.17,259.4 243,262.4C243.83,265.4 244.92,269.4 246,273C247.08,276.6 248.28,280.77 249.5,284C250.72,287.23 252.05,292.07 253.3,292.4C254.55,292.73 255.72,288.9 257,286C258.28,283.1 259.83,278.33 261,275C262.17,271.67 263.17,268.1 264,266C264.83,263.9 265.33,264.23 266,262.4C266.67,260.57 272.17,256.23 268,255C263.83,253.77 245.17,253.77 241,255Z" fill="#ffd6d6" filter="url(#f4_5)"/>
<path d="M29,452C36.5,436.83 65.83,452.67 74,452C82.17,451.33 76.33,449.83 78,448C79.67,446.17 81.78,442.58 84,441C86.22,439.42 89.13,438.17 91.3,438.5C93.47,438.83 95.22,440.08 97,443C98.78,445.92 100.42,451.75 102,456C103.58,460.25 104.83,466.83 106.5,468.5C108.17,470.17 110.08,467.92 112,466C113.92,464.08 115.83,460.67 118,457C120.17,453.33 122.17,448.67 125,444C127.83,439.33 131.67,434.33 135,429C138.33,423.67 141.85,417.07 145,412C148.15,406.93 150.9,402.93 153.9,398.6C156.9,394.27 159.83,389.77 163,386C166.17,382.23 170.07,378.17 172.9,376C175.73,373.83 177.92,373.67 180,373C182.08,372.33 183.4,372.17 185.4,372C187.4,371.83 189.67,372.08 192,372C194.33,371.92 197.4,371 199.4,371.5C201.4,372 202.42,373.02 204,375C205.58,376.98 207.23,379.23 208.9,383.4C210.57,387.57 212.1,393.03 214,400C215.9,406.97 218.63,418.53 220.3,425.2C221.97,431.87 222.73,436.53 224,440C225.27,443.47 226.57,446 227.9,446C229.23,446 230.42,442.83 232,440C233.58,437.17 235.9,431.33 237.4,429C238.9,426.67 239.9,426.17 241,426C242.1,425.83 243,428.83 244,428C245,427.17 246,422.92 247,421C248,419.08 248.88,417.5 250,416.5C251.12,415.5 252.63,414.75 253.7,415C254.77,415.25 255.18,417.08 256.4,418C257.62,418.92 259.32,419.83 261,420.5C262.68,421.17 264.5,421.87 266.5,422C268.5,422.13 270.65,421.47 273,421.3C275.35,421.13 277.65,420.72 280.6,421C283.55,421.28 287.8,423 290.7,423C293.6,423 295.65,421.62 298,421C300.35,420.38 302.97,419.55 304.8,419.3C306.63,419.05 307.67,419.17 309,419.5C310.33,419.83 311.47,420.22 312.8,421.3C314.13,422.38 315.65,424.15 317,426C318.35,427.85 319.57,430.23 320.9,432.4C322.23,434.57 323.67,436.65 325,439C326.33,441.35 327.57,444 328.9,446.5C330.23,449 331.48,451.32 333,454C334.52,456.68 336.5,459.93 338,462.6C339.5,465.27 333.83,468.77 342,470C350.17,471.23 379.5,457.83 387,470C394.5,482.17 446.67,530.83 387,543C327.33,555.17 88.67,558.17 29,543C-30.67,527.83 21.5,467.17 29,452Z" fill="#ffffff" filter="url(#f16_m16)" opacity="0.45"/>
<path d="M29,452C36.5,436.83 65.83,452.67 74,452C82.17,451.33 76.33,449.83 78,448C79.67,446.17 81.78,442.58 84,441C86.22,439.42 89.13,438.17 91.3,438.5C93.47,438.83 95.22,440.08 97,443C98.78,445.92 100.42,451.75 102,456C103.58,460.25 104.83,466.83 106.5,468.5C108.17,470.17 110.08,467.92 112,466C113.92,464.08 115.83,460.67 118,457C120.17,453.33 122.17,448.67 125,444C127.83,439.33 131.67,434.33 135,429C138.33,423.67 141.85,417.07 145,412C148.15,406.93 150.9,402.93 153.9,398.6C156.9,394.27 159.83,389.77 163,386C166.17,382.23 170.07,378.17 172.9,376C175.73,373.83 177.92,373.67 180,373C182.08,372.33 183.4,372.17 185.4,372C187.4,371.83 189.67,372.08 192,372C194.33,371.92 197.4,371 199.4,371.5C201.4,372 202.42,373.02 204,375C205.58,376.98 207.23,379.23 208.9,383.4C210.57,387.57 212.1,393.03 214,400C215.9,406.97 218.63,418.53 220.3,425.2C221.97,431.87 222.73,436.53 224,440C225.27,443.47 226.57,446 227.9,446C229.23,446 230.42,442.83 232,440C233.58,437.17 235.9,431.33 237.4,429C238.9,426.67 239.9,426.17 241,426C242.1,425.83 243,428.83 244,428C245,427.17 246,422.92 247,421C248,419.08 248.88,417.5 250,416.5C251.12,415.5 252.63,414.75 253.7,415C254.77,415.25 255.18,417.08 256.4,418C257.62,418.92 259.32,419.83 261,420.5C262.68,421.17 264.5,421.87 266.5,422C268.5,422.13 270.65,421.47 273,421.3C275.35,421.13 277.65,420.72 280.6,421C283.55,421.28 287.8,423 290.7,423C293.6,423 295.65,421.62 298,421C300.35,420.38 302.97,419.55 304.8,419.3C306.63,419.05 307.67,419.17 309,419.5C310.33,419.83 311.47,420.22 312.8,421.3C314.13,422.38 315.65,424.15 317,426C318.35,427.85 319.57,430.23 320.9,432.4C322.23,434.57 323.67,436.65 325,439C326.33,441.35 327.57,444 328.9,446.5C330.23,449 331.48,451.32 333,454C334.52,456.68 336.5,459.93 338,462.6C339.5,465.27 333.83,468.77 342,470C350.17,471.23 379.5,457.83 387,470C394.5,482.17 446.67,530.83 387,543C327.33,555.17 88.67,558.17 29,543C-30.67,527.83 21.5,467.17 29,452Z" fill="#ffffff" filter="url(#f3_m2)" opacity="0.9"/>
<path d="M29,452C36.5,436.83 65.83,452.67 74,452C82.17,451.33 76.33,449.83 78,448C79.67,446.17 81.78,442.58 84,441C86.22,439.42 89.13,438.17 91.3,438.5C93.47,438.83 95.22,440.08 97,443C98.78,445.92 100.42,451.75 102,456C103.58,460.25 104.83,466.83 106.5,468.5C108.17,470.17 110.08,467.92 112,466C113.92,464.08 115.83,460.67 118,457C120.17,453.33 122.17,448.67 125,444C127.83,439.33 131.67,434.33 135,429C138.33,423.67 141.85,417.07 145,412C148.15,406.93 150.9,402.93 153.9,398.6C156.9,394.27 159.83,389.77 163,386C166.17,382.23 170.07,378.17 172.9,376C175.73,373.83 177.92,373.67 180,373C182.08,372.33 183.4,372.17 185.4,372C187.4,371.83 189.67,372.08 192,372C194.33,371.92 197.4,371 199.4,371.5C201.4,372 202.42,373.02 204,375C205.58,376.98 207.23,379.23 208.9,383.4C210.57,387.57 212.1,393.03 214,400C215.9,406.97 218.63,418.53 220.3,425.2C221.97,431.87 222.73,436.53 224,440C225.27,443.47 226.57,446 227.9,446C229.23,446 230.42,442.83 232,440C233.58,437.17 235.9,431.33 237.4,429C238.9,426.67 239.9,426.17 241,426C242.1,425.83 243,428.83 244,428C245,427.17 246,422.92 247,421C248,419.08 248.88,417.5 250,416.5C251.12,415.5 252.63,414.75 253.7,415C254.77,415.25 255.18,417.08 256.4,418C257.62,418.92 259.32,419.83 261,420.5C262.68,421.17 264.5,421.87 266.5,422C268.5,422.13 270.65,421.47 273,421.3C275.35,421.13 277.65,420.72 280.6,421C283.55,421.28 287.8,423 290.7,423C293.6,423 295.65,421.62 298,421C300.35,420.38 302.97,419.55 304.8,419.3C306.63,419.05 307.67,419.17 309,419.5C310.33,419.83 311.47,420.22 312.8,421.3C314.13,422.38 315.65,424.15 317,426C318.35,427.85 319.57,430.23 320.9,432.4C322.23,434.57 323.67,436.65 325,439C326.33,441.35 327.57,444 328.9,446.5C330.23,449 331.48,451.32 333,454C334.52,456.68 336.5,459.93 338,462.6C339.5,465.27 333.83,468.77 342,470C350.17,471.23 379.5,457.83 387,470C394.5,482.17 446.67,530.83 387,543C327.33,555.17 88.67,558.17 29,543C-30.67,527.83 21.5,467.17 29,452Z" fill="#ffffff" filter="url(#f2_0)"/>
<path d="M29,452C36.5,436.83 65.83,452.67 74,452C82.17,451.33 76.33,449.83 78,448C79.67,446.17 81.78,442.58 84,441C86.22,439.42 89.13,438.17 91.3,438.5C93.47,438.83 95.22,440.08 97,443C98.78,445.92 100.42,451.75 102,456C103.58,460.25 104.83,466.83 106.5,468.5C108.17,470.17 110.08,467.92 112,466C113.92,464.08 115.83,460.67 118,457C120.17,453.33 122.17,448.67 125,444C127.83,439.33 131.67,434.33 135,429C138.33,423.67 141.85,417.07 145,412C148.15,406.93 150.9,402.93 153.9,398.6C156.9,394.27 159.83,389.77 163,386C166.17,382.23 170.07,378.17 172.9,376C175.73,373.83 177.92,373.67 180,373C182.08,372.33 183.4,372.17 185.4,372C187.4,371.83 189.67,372.08 192,372C194.33,371.92 197.4,371 199.4,371.5C201.4,372 202.42,373.02 204,375C205.58,376.98 207.23,379.23 208.9,383.4C210.57,387.57 212.1,393.03 214,400C215.9,406.97 218.63,418.53 220.3,425.2C221.97,431.87 222.73,436.53 224,440C225.27,443.47 226.57,446 227.9,446C229.23,446 230.42,442.83 232,440C233.58,437.17 235.9,431.33 237.4,429C238.9,426.67 239.9,426.17 241,426C242.1,425.83 243,428.83 244,428C245,427.17 246,422.92 247,421C248,419.08 248.88,417.5 250,416.5C251.12,415.5 252.63,414.75 253.7,415C254.77,415.25 255.18,417.08 256.4,418C257.62,418.92 259.32,419.83 261,420.5C262.68,421.17 264.5,421.87 266.5,422C268.5,422.13 270.65,421.47 273,421.3C275.35,421.13 277.65,420.72 280.6,421C283.55,421.28 287.8,423 290.7,423C293.6,423 295.65,421.62 298,421C300.35,420.38 302.97,419.55 304.8,419.3C306.63,419.05 307.67,419.17 309,419.5C310.33,419.83 311.47,420.22 312.8,421.3C314.13,422.38 315.65,424.15 317,426C318.35,427.85 319.57,430.23 320.9,432.4C322.23,434.57 323.67,436.65 325,439C326.33,441.35 327.57,444 328.9,446.5C330.23,449 331.48,451.32 333,454C334.52,456.68 336.5,459.93 338,462.6C339.5,465.27 333.83,468.77 342,470C350.17,471.23 379.5,457.83 387,470C394.5,482.17 446.67,530.83 387,543C327.33,555.17 88.67,558.17 29,543C-30.67,527.83 21.5,467.17 29,452Z" fill="#ffdcdc" filter="url(#f1p5_2p5)"/>
<path d="M29,452C36.5,436.83 65.83,452.67 74,452C82.17,451.33 76.33,449.83 78,448C79.67,446.17 81.78,442.58 84,441C86.22,439.42 89.13,438.17 91.3,438.5C93.47,438.83 95.22,440.08 97,443C98.78,445.92 100.42,451.75 102,456C103.58,460.25 104.83,466.83 106.5,468.5C108.17,470.17 110.08,467.92 112,466C113.92,464.08 115.83,460.67 118,457C120.17,453.33 122.17,448.67 125,444C127.83,439.33 131.67,434.33 135,429C138.33,423.67 141.85,417.07 145,412C148.15,406.93 150.9,402.93 153.9,398.6C156.9,394.27 159.83,389.77 163,386C166.17,382.23 170.07,378.17 172.9,376C175.73,373.83 177.92,373.67 180,373C182.08,372.33 183.4,372.17 185.4,372C187.4,371.83 189.67,372.08 192,372C194.33,371.92 197.4,371 199.4,371.5C201.4,372 202.42,373.02 204,375C205.58,376.98 207.23,379.23 208.9,383.4C210.57,387.57 212.1,393.03 214,400C215.9,406.97 218.63,418.53 220.3,425.2C221.97,431.87 222.73,436.53 224,440C225.27,443.47 226.57,446 227.9,446C229.23,446 230.42,442.83 232,440C233.58,437.17 235.9,431.33 237.4,429C238.9,426.67 239.9,426.17 241,426C242.1,425.83 243,428.83 244,428C245,427.17 246,422.92 247,421C248,419.08 248.88,417.5 250,416.5C251.12,415.5 252.63,414.75 253.7,415C254.77,415.25 255.18,417.08 256.4,418C257.62,418.92 259.32,419.83 261,420.5C262.68,421.17 264.5,421.87 266.5,422C268.5,422.13 270.65,421.47 273,421.3C275.35,421.13 277.65,420.72 280.6,421C283.55,421.28 287.8,423 290.7,423C293.6,423 295.65,421.62 298,421C300.35,420.38 302.97,419.55 304.8,419.3C306.63,419.05 307.67,419.17 309,419.5C310.33,419.83 311.47,420.22 312.8,421.3C314.13,422.38 315.65,424.15 317,426C318.35,427.85 319.57,430.23 320.9,432.4C322.23,434.57 323.67,436.65 325,439C326.33,441.35 327.57,444 328.9,446.5C330.23,449 331.48,451.32 333,454C334.52,456.68 336.5,459.93 338,462.6C339.5,465.27 333.83,468.77 342,470C350.17,471.23 379.5,457.83 387,470C394.5,482.17 446.67,530.83 387,543C327.33,555.17 88.67,558.17 29,543C-30.67,527.83 21.5,467.17 29,452Z" fill="#ffc4c4" filter="url(#f4_9)"/>
<path d="M29,452C36.5,436.83 65.83,452.67 74,452C82.17,451.33 76.33,449.83 78,448C79.67,446.17 81.78,442.58 84,441C86.22,439.42 89.13,438.17 91.3,438.5C93.47,438.83 95.22,440.08 97,443C98.78,445.92 100.42,451.75 102,456C103.58,460.25 104.83,466.83 106.5,468.5C108.17,470.17 110.08,467.92 112,466C113.92,464.08 115.83,460.67 118,457C120.17,453.33 122.17,448.67 125,444C127.83,439.33 131.67,434.33 135,429C138.33,423.67 141.85,417.07 145,412C148.15,406.93 150.9,402.93 153.9,398.6C156.9,394.27 159.83,389.77 163,386C166.17,382.23 170.07,378.17 172.9,376C175.73,373.83 177.92,373.67 180,373C182.08,372.33 183.4,372.17 185.4,372C187.4,371.83 189.67,372.08 192,372C194.33,371.92 197.4,371 199.4,371.5C201.4,372 202.42,373.02 204,375C205.58,376.98 207.23,379.23 208.9,383.4C210.57,387.57 212.1,393.03 214,400C215.9,406.97 218.63,418.53 220.3,425.2C221.97,431.87 222.73,436.53 224,440C225.27,443.47 226.57,446 227.9,446C229.23,446 230.42,442.83 232,440C233.58,437.17 235.9,431.33 237.4,429C238.9,426.67 239.9,426.17 241,426C242.1,425.83 243,428.83 244,428C245,427.17 246,422.92 247,421C248,419.08 248.88,417.5 250,416.5C251.12,415.5 252.63,414.75 253.7,415C254.77,415.25 255.18,417.08 256.4,418C257.62,418.92 259.32,419.83 261,420.5C262.68,421.17 264.5,421.87 266.5,422C268.5,422.13 270.65,421.47 273,421.3C275.35,421.13 277.65,420.72 280.6,421C283.55,421.28 287.8,423 290.7,423C293.6,423 295.65,421.62 298,421C300.35,420.38 302.97,419.55 304.8,419.3C306.63,419.05 307.67,419.17 309,419.5C310.33,419.83 311.47,420.22 312.8,421.3C314.13,422.38 315.65,424.15 317,426C318.35,427.85 319.57,430.23 320.9,432.4C322.23,434.57 323.67,436.65 325,439C326.33,441.35 327.57,444 328.9,446.5C330.23,449 331.48,451.32 333,454C334.52,456.68 336.5,459.93 338,462.6C339.5,465.27 333.83,468.77 342,470C350.17,471.23 379.5,457.83 387,470C394.5,482.17 446.67,530.83 387,543C327.33,555.17 88.67,558.17 29,543C-30.67,527.83 21.5,467.17 29,452Z" fill="#ffa4a4" filter="url(#f8_22)"/>
<path d="M204,375C205.48,348.07 207.23,379.23 208.9,383.4C210.57,387.57 212.1,393.03 214,400C215.9,406.97 218.63,418.53 220.3,425.2C221.97,431.87 222.73,436.53 224,440C225.27,443.47 226.57,446 227.9,446C229.23,446 230.42,442.83 232,440C233.58,437.17 235.9,431.33 237.4,429C238.9,426.67 239.9,426.17 241,426C242.1,425.83 243,428.83 244,428C245,427.17 246,422.92 247,421C248,419.08 248.88,417.5 250,416.5C251.12,415.5 252.63,414.75 253.7,415C254.77,415.25 255.18,417.08 256.4,418C257.62,418.92 259.32,419.83 261,420.5C262.68,421.17 264.5,421.87 266.5,422C268.5,422.13 270.65,421.47 273,421.3C275.35,421.13 277.65,420.72 280.6,421C283.55,421.28 287.8,423 290.7,423C293.6,423 295.65,421.62 298,421C300.35,420.38 302.97,419.55 304.8,419.3C306.63,419.05 307.67,419.17 309,419.5C310.33,419.83 311.47,420.22 312.8,421.3C314.13,422.38 315.65,424.15 317,426C318.35,427.85 319.57,430.23 320.9,432.4C322.23,434.57 323.67,436.65 325,439C326.33,441.35 327.57,444 328.9,446.5C330.23,449 331.48,451.32 333,454C334.52,456.68 336.5,459.93 338,462.6C339.5,465.27 333.33,468.77 342,470C350.67,471.23 382,457.5 390,470C398,482.5 421.67,532.5 390,545C358.33,557.5 231,573.33 200,545C169,516.67 202.52,401.93 204,375Z" fill="#ffa0a0" filter="url(#f5_6)" opacity="0.6"/>
<path d="M270,498C264.5,493.33 272,478.33 274,470C276,461.67 279.33,452.33 282,448C284.67,443.67 287.33,443.33 290,444C292.67,444.67 295.67,446.83 298,452C300.33,457.17 302.5,467.33 304,475C305.5,482.67 312.67,494.17 307,498C301.33,501.83 275.5,502.67 270,498Z" fill="#ffe6e6" filter="url(#f4_0)" opacity="0.85"/>
<path d="M257,424C258.5,424.5 262.83,425.67 266,427C269.17,428.33 273,429.83 276,432C279,434.17 281.5,437.33 284,440C286.5,442.67 288.83,445 291,448C293.17,451 295.33,453.67 297,458C298.67,462.33 299.83,468 301,474C302.17,480 303.5,490.67 304,494" fill="none" stroke="#ff7070" stroke-width="5" stroke-linecap="round" stroke-linejoin="round" filter="url(#f2p5_0)" opacity="0.55"/>
<path d="M228,455C229.33,457.5 233.5,463.67 236,470C238.5,476.33 241.83,489.17 243,493" fill="none" stroke="#ff7070" stroke-width="6" stroke-linecap="round" stroke-linejoin="round" filter="url(#f3_0)" opacity="0.5"/>
<path d="M255,420C255.5,425 257.17,437.83 258,450C258.83,462.17 259.67,485.83 260,493" fill="none" stroke="#ff7070" stroke-width="5" stroke-linecap="round" stroke-linejoin="round" filter="url(#f3_0)" opacity="0.5"/>
<path d="M153.5,262C154.58,265.83 157.92,277.83 160,285C162.08,292.17 164.17,299.17 166,305C167.83,310.83 169.5,315.33 171,320C172.5,324.67 173.83,329.1 175,333C176.17,336.9 176.83,339.4 178,343.4C179.17,347.4 180.77,352.23 182,357C183.23,361.77 184.83,369.5 185.4,372" fill="none" stroke="#ffffff" stroke-width="4" stroke-linecap="round" stroke-linejoin="round" filter="url(#f1p2_0)" opacity="0.6"/>
<path d="M153.5,262C154.58,265.83 157.92,277.83 160,285C162.08,292.17 164.17,299.17 166,305C167.83,310.83 169.5,315.33 171,320C172.5,324.67 173.83,329.1 175,333C176.17,336.9 176.83,339.4 178,343.4C179.17,347.4 180.77,352.23 182,357C183.23,361.77 184.83,369.5 185.4,372" fill="none" stroke="#ff4040" stroke-width="1.3" stroke-linecap="round" stroke-linejoin="round" filter="url(#f0p3_0)" opacity="0.9" stroke-dasharray="2.4 1.4"/>
<path d="M185.4,372C186,370.17 187.9,364.5 189,361C190.1,357.5 190.92,355 192,351C193.08,347 194.27,342.35 195.5,337C196.73,331.65 198.15,324.73 199.4,318.9C200.65,313.07 201.9,306.82 203,302C204.1,297.18 204.92,293.17 206,290C207.08,286.83 208.17,284.67 209.5,283C210.83,281.33 212.42,280.58 214,280C215.58,279.42 217.5,280.08 219,279.5C220.5,278.92 221.58,277.83 223,276.5C224.42,275.17 226.08,273.17 227.5,271.5C228.92,269.83 230.17,268.08 231.5,266.5C232.83,264.92 234.83,262.75 235.5,262" fill="none" stroke="#ffffff" stroke-width="5" stroke-linecap="round" stroke-linejoin="round" filter="url(#f1p5_0)" opacity="0.85"/>
<path d="M185.4,372C186,370.17 187.9,364.5 189,361C190.1,357.5 190.92,355 192,351C193.08,347 194.27,342.35 195.5,337C196.73,331.65 198.15,324.73 199.4,318.9C200.65,313.07 201.9,306.82 203,302C204.1,297.18 204.92,293.17 206,290C207.08,286.83 208.17,284.67 209.5,283C210.83,281.33 212.42,280.58 214,280C215.58,279.42 217.5,280.08 219,279.5C220.5,278.92 221.58,277.83 223,276.5C224.42,275.17 226.08,273.17 227.5,271.5C228.92,269.83 230.17,268.08 231.5,266.5C232.83,264.92 234.83,262.75 235.5,262" fill="none" stroke="#ff2626" stroke-width="1.6" stroke-linecap="round" stroke-linejoin="round" filter="url(#f0p3_0)"/>
<path d="M206,287C206.58,286.17 208.17,283.17 209.5,282C210.83,280.83 212.42,280.42 214,280C215.58,279.58 217.5,280.08 219,279.5C220.5,278.92 222.33,277 223,276.5" fill="none" stroke="#ee2222" stroke-width="3.5" stroke-linecap="round" stroke-linejoin="round" filter="url(#f1p2_0)" opacity="0.8"/>
<path d="M176,378C176.75,377.75 179.25,377.08 180.5,376.5C181.75,375.92 182.68,375.25 183.5,374.5C184.32,373.75 184.65,371.92 185.4,372C186.15,372.08 186.98,374.17 188,375C189.02,375.83 190.17,376.58 191.5,377C192.83,377.42 195.25,377.42 196,377.5" fill="none" stroke="#f03030" stroke-width="1.8" stroke-linecap="round" stroke-linejoin="round" filter="url(#f0p6_0)" opacity="0.9"/>
</g>
<line x1="186.2" y1="262.4" x2="186.2" y2="493.4" stroke="#2a2a2a" stroke-width="1.1"/>
<line x1="253.7" y1="262.4" x2="253.7" y2="493.4" stroke="#2a2a2a" stroke-width="1.1"/>
<line x1="78.1" y1="285.5" x2="83.6" y2="285.5" stroke="#333" stroke-width="1.3"/>
<line x1="331.9" y1="285.5" x2="337.4" y2="285.5" stroke="#333" stroke-width="1.3"/>
<line x1="78.1" y1="308.6" x2="83.6" y2="308.6" stroke="#333" stroke-width="1.3"/>
<line x1="331.9" y1="308.6" x2="337.4" y2="308.6" stroke="#333" stroke-width="1.3"/>
<line x1="78.1" y1="331.7" x2="83.6" y2="331.7" stroke="#333" stroke-width="1.3"/>
<line x1="331.9" y1="331.7" x2="337.4" y2="331.7" stroke="#333" stroke-width="1.3"/>
<line x1="78.1" y1="354.8" x2="83.6" y2="354.8" stroke="#333" stroke-width="1.3"/>
<line x1="331.9" y1="354.8" x2="337.4" y2="354.8" stroke="#333" stroke-width="1.3"/>
<line x1="78.1" y1="377.9" x2="83.6" y2="377.9" stroke="#333" stroke-width="1.3"/>
<line x1="331.9" y1="377.9" x2="337.4" y2="377.9" stroke="#333" stroke-width="1.3"/>
<line x1="78.1" y1="401" x2="83.6" y2="401" stroke="#333" stroke-width="1.3"/>
<line x1="331.9" y1="401" x2="337.4" y2="401" stroke="#333" stroke-width="1.3"/>
<line x1="78.1" y1="424.1" x2="83.6" y2="424.1" stroke="#333" stroke-width="1.3"/>
<line x1="331.9" y1="424.1" x2="337.4" y2="424.1" stroke="#333" stroke-width="1.3"/>
<line x1="78.1" y1="447.2" x2="83.6" y2="447.2" stroke="#333" stroke-width="1.3"/>
<line x1="331.9" y1="447.2" x2="337.4" y2="447.2" stroke="#333" stroke-width="1.3"/>
<line x1="78.1" y1="470.3" x2="83.6" y2="470.3" stroke="#333" stroke-width="1.3"/>
<line x1="331.9" y1="470.3" x2="337.4" y2="470.3" stroke="#333" stroke-width="1.3"/>
<rect x="78.1" y="262.4" width="259.3" height="231" fill="none" stroke="#555" stroke-width="1.2"/>
<g clip-path="url(#clipd)">
<rect x="376.4" y="263.4" width="259.2" height="230.8" fill="#3e6aff"/>
<path d="M447,255C432.67,256.4 448.5,258.73 450,263.4C451.5,268.07 454.08,277.23 456,283C457.92,288.77 459.65,293.12 461.5,298C463.35,302.88 465.35,307.47 467.1,312.3C468.85,317.13 470.6,322.38 472,327C473.4,331.62 474.42,336.12 475.5,340C476.58,343.88 477.5,347.3 478.5,350.3C479.5,353.3 480.55,355.6 481.5,358C482.45,360.4 483.2,365.37 484.2,364.7C485.2,364.03 486.37,357.78 487.5,354C488.63,350.22 489.9,345.78 491,342C492.1,338.22 493.02,335.63 494.1,331.3C495.18,326.97 496.43,320.93 497.5,316C498.57,311.07 499.58,305.7 500.5,301.7C501.42,297.7 502.05,294.65 503,292C503.95,289.35 504.72,287.6 506.2,285.8C507.68,284 510.27,282.17 511.9,281.2C513.53,280.23 514.67,280.3 516,280C517.33,279.7 518.73,279.9 519.9,279.4C521.07,278.9 522.07,277.83 523,277C523.93,276.17 524.5,275.73 525.5,274.4C526.5,273.07 527.67,270.9 529,269C530.33,267.1 532.33,265.33 533.5,263C534.67,260.67 550.42,256.33 536,255C521.58,253.67 461.33,253.6 447,255Z" fill="#ffffff" filter="url(#f14_m14)" opacity="0.35"/>
<path d="M447,255C432.67,256.4 448.5,258.73 450,263.4C451.5,268.07 454.08,277.23 456,283C457.92,288.77 459.65,293.12 461.5,298C463.35,302.88 465.35,307.47 467.1,312.3C468.85,317.13 470.6,322.38 472,327C473.4,331.62 474.42,336.12 475.5,340C476.58,343.88 477.5,347.3 478.5,350.3C479.5,353.3 480.55,355.6 481.5,358C482.45,360.4 483.2,365.37 484.2,364.7C485.2,364.03 486.37,357.78 487.5,354C488.63,350.22 489.9,345.78 491,342C492.1,338.22 493.02,335.63 494.1,331.3C495.18,326.97 496.43,320.93 497.5,316C498.57,311.07 499.58,305.7 500.5,301.7C501.42,297.7 502.05,294.65 503,292C503.95,289.35 504.72,287.6 506.2,285.8C507.68,284 510.27,282.17 511.9,281.2C513.53,280.23 514.67,280.3 516,280C517.33,279.7 518.73,279.9 519.9,279.4C521.07,278.9 522.07,277.83 523,277C523.93,276.17 524.5,275.73 525.5,274.4C526.5,273.07 527.67,270.9 529,269C530.33,267.1 532.33,265.33 533.5,263C534.67,260.67 550.42,256.33 536,255C521.58,253.67 461.33,253.6 447,255Z" fill="#ffffff" filter="url(#f2p5_m1)" opacity="0.85"/>
<path d="M447,255C432.67,256.4 448.5,258.73 450,263.4C451.5,268.07 454.08,277.23 456,283C457.92,288.77 459.65,293.12 461.5,298C463.35,302.88 465.35,307.47 467.1,312.3C468.85,317.13 470.6,322.38 472,327C473.4,331.62 474.42,336.12 475.5,340C476.58,343.88 477.5,347.3 478.5,350.3C479.5,353.3 480.55,355.6 481.5,358C482.45,360.4 483.2,365.37 484.2,364.7C485.2,364.03 486.37,357.78 487.5,354C488.63,350.22 489.9,345.78 491,342C492.1,338.22 493.02,335.63 494.1,331.3C495.18,326.97 496.43,320.93 497.5,316C498.57,311.07 499.58,305.7 500.5,301.7C501.42,297.7 502.05,294.65 503,292C503.95,289.35 504.72,287.6 506.2,285.8C507.68,284 510.27,282.17 511.9,281.2C513.53,280.23 514.67,280.3 516,280C517.33,279.7 518.73,279.9 519.9,279.4C521.07,278.9 522.07,277.83 523,277C523.93,276.17 524.5,275.73 525.5,274.4C526.5,273.07 527.67,270.9 529,269C530.33,267.1 532.33,265.33 533.5,263C534.67,260.67 550.42,256.33 536,255C521.58,253.67 461.33,253.6 447,255Z" fill="#ffffff" filter="url(#f2_0)"/>
<path d="M447,255C432.67,256.4 448.5,258.73 450,263.4C451.5,268.07 454.08,277.23 456,283C457.92,288.77 459.65,293.12 461.5,298C463.35,302.88 465.35,307.47 467.1,312.3C468.85,317.13 470.6,322.38 472,327C473.4,331.62 474.42,336.12 475.5,340C476.58,343.88 477.5,347.3 478.5,350.3C479.5,353.3 480.55,355.6 481.5,358C482.45,360.4 483.2,365.37 484.2,364.7C485.2,364.03 486.37,357.78 487.5,354C488.63,350.22 489.9,345.78 491,342C492.1,338.22 493.02,335.63 494.1,331.3C495.18,326.97 496.43,320.93 497.5,316C498.57,311.07 499.58,305.7 500.5,301.7C501.42,297.7 502.05,294.65 503,292C503.95,289.35 504.72,287.6 506.2,285.8C507.68,284 510.27,282.17 511.9,281.2C513.53,280.23 514.67,280.3 516,280C517.33,279.7 518.73,279.9 519.9,279.4C521.07,278.9 522.07,277.83 523,277C523.93,276.17 524.5,275.73 525.5,274.4C526.5,273.07 527.67,270.9 529,269C530.33,267.1 532.33,265.33 533.5,263C534.67,260.67 550.42,256.33 536,255C521.58,253.67 461.33,253.6 447,255Z" fill="#ffe4e4" filter="url(#f1p5_2p5)"/>
<path d="M447,255C432.67,256.4 448.5,258.73 450,263.4C451.5,268.07 454.08,277.23 456,283C457.92,288.77 459.65,293.12 461.5,298C463.35,302.88 465.35,307.47 467.1,312.3C468.85,317.13 470.6,322.38 472,327C473.4,331.62 474.42,336.12 475.5,340C476.58,343.88 477.5,347.3 478.5,350.3C479.5,353.3 480.55,355.6 481.5,358C482.45,360.4 483.2,365.37 484.2,364.7C485.2,364.03 486.37,357.78 487.5,354C488.63,350.22 489.9,345.78 491,342C492.1,338.22 493.02,335.63 494.1,331.3C495.18,326.97 496.43,320.93 497.5,316C498.57,311.07 499.58,305.7 500.5,301.7C501.42,297.7 502.05,294.65 503,292C503.95,289.35 504.72,287.6 506.2,285.8C507.68,284 510.27,282.17 511.9,281.2C513.53,280.23 514.67,280.3 516,280C517.33,279.7 518.73,279.9 519.9,279.4C521.07,278.9 522.07,277.83 523,277C523.93,276.17 524.5,275.73 525.5,274.4C526.5,273.07 527.67,270.9 529,269C530.33,267.1 532.33,265.33 533.5,263C534.67,260.67 550.42,256.33 536,255C521.58,253.67 461.33,253.6 447,255Z" fill="#ffd4d4" filter="url(#f4_6)"/>
<path d="M539,255C534.83,256.4 540.17,260.4 541,263.4C541.83,266.4 542.92,269.57 544,273C545.08,276.43 546.28,280.6 547.5,284C548.72,287.4 550.05,293.07 551.3,293.4C552.55,293.73 553.72,289.07 555,286C556.28,282.93 557.83,278.33 559,275C560.17,271.67 561.17,267.93 562,266C562.83,264.07 563.33,265.23 564,263.4C564.67,261.57 570.17,256.4 566,255C561.83,253.6 543.17,253.6 539,255Z" fill="#ffffff" filter="url(#f14_m14)" opacity="0.35"/>
<path d="M539,255C534.83,256.4 540.17,260.4 541,263.4C541.83,266.4 542.92,269.57 544,273C545.08,276.43 546.28,280.6 547.5,284C548.72,287.4 550.05,293.07 551.3,293.4C552.55,293.73 553.72,289.07 555,286C556.28,282.93 557.83,278.33 559,275C560.17,271.67 561.17,267.93 562,266C562.83,264.07 563.33,265.23 564,263.4C564.67,261.57 570.17,256.4 566,255C561.83,253.6 543.17,253.6 539,255Z" fill="#ffffff" filter="url(#f2p5_m1)" opacity="0.85"/>
<path d="M539,255C534.83,256.4 540.17,260.4 541,263.4C541.83,266.4 542.92,269.57 544,273C545.08,276.43 546.28,280.6 547.5,284C548.72,287.4 550.05,293.07 551.3,293.4C552.55,293.73 553.72,289.07 555,286C556.28,282.93 557.83,278.33 559,275C560.17,271.67 561.17,267.93 562,266C562.83,264.07 563.33,265.23 564,263.4C564.67,261.57 570.17,256.4 566,255C561.83,253.6 543.17,253.6 539,255Z" fill="#ffffff" filter="url(#f2_0)"/>
<path d="M539,255C534.83,256.4 540.17,260.4 541,263.4C541.83,266.4 542.92,269.57 544,273C545.08,276.43 546.28,280.6 547.5,284C548.72,287.4 550.05,293.07 551.3,293.4C552.55,293.73 553.72,289.07 555,286C556.28,282.93 557.83,278.33 559,275C560.17,271.67 561.17,267.93 562,266C562.83,264.07 563.33,265.23 564,263.4C564.67,261.57 570.17,256.4 566,255C561.83,253.6 543.17,253.6 539,255Z" fill="#ffe8e8" filter="url(#f1p5_2p5)"/>
<path d="M539,255C534.83,256.4 540.17,260.4 541,263.4C541.83,266.4 542.92,269.57 544,273C545.08,276.43 546.28,280.6 547.5,284C548.72,287.4 550.05,293.07 551.3,293.4C552.55,293.73 553.72,289.07 555,286C556.28,282.93 557.83,278.33 559,275C560.17,271.67 561.17,267.93 562,266C562.83,264.07 563.33,265.23 564,263.4C564.67,261.57 570.17,256.4 566,255C561.83,253.6 543.17,253.6 539,255Z" fill="#ffd6d6" filter="url(#f4_5)"/>
<path d="M327,467C334.17,454 361.83,468.1 370,467C378.17,465.9 374,463.57 376,460.4C378,457.23 380,451.28 382,448C384,444.72 386,441.03 388,440.7C390,440.37 392.17,442.95 394,446C395.83,449.05 397.28,455.32 399,459C400.72,462.68 402.3,467.93 404.3,468.1C406.3,468.27 408.58,463 411,460C413.42,457 416.3,453.6 418.8,450.1C421.3,446.6 423.72,442.43 426,439C428.28,435.57 430.5,432.67 432.5,429.5C434.5,426.33 436,423.13 438,420C440,416.87 442.42,414.03 444.5,410.7C446.58,407.37 448.5,403.43 450.5,400C452.5,396.57 454.67,392.93 456.5,390.1C458.33,387.27 459.78,385 461.5,383C463.22,381 465.22,379.27 466.8,378.1C468.38,376.93 469.57,376.57 471,376C472.43,375.43 474.07,375.37 475.4,374.7C476.73,374.03 477.87,373.13 479,372C480.13,370.87 481.33,368.95 482.2,367.9C483.07,366.85 482.92,365.62 484.2,365.7C485.48,365.78 488.27,367.85 489.9,368.4C491.53,368.95 492.47,368.82 494,369C495.53,369.18 497.37,368.4 499.1,369.5C500.83,370.6 502.87,372.82 504.4,375.6C505.93,378.38 507.2,381.97 508.3,386.2C509.4,390.43 510.12,395.2 511,401C511.88,406.8 512.68,415.5 513.6,421C514.52,426.5 515.43,430.5 516.5,434C517.57,437.5 518.57,440.13 520,442C521.43,443.87 523.43,445.87 525.1,445.2C526.77,444.53 528.32,440.4 530,438C531.68,435.6 533.77,431.87 535.2,430.8C536.63,429.73 537.3,432.57 538.6,431.6C539.9,430.63 541.3,427.4 543,425C544.7,422.6 546.98,417.78 548.8,417.2C550.62,416.62 551.7,420.87 553.9,421.5C556.1,422.13 559.18,421.15 562,421C564.82,420.85 567.97,420.43 570.8,420.6C573.63,420.77 576.18,421.57 579,422C581.82,422.43 584.87,423.37 587.7,423.2C590.53,423.03 593.17,421.43 596,421C598.83,420.57 602.37,420.43 604.7,420.6C607.03,420.77 608.32,421.28 610,422C611.68,422.72 613.13,423.23 614.8,424.9C616.47,426.57 618.3,429.18 620,432C621.7,434.82 623.17,438.8 625,441.8C626.83,444.8 629.17,447.18 631,450C632.83,452.82 634.17,455.53 636,458.7C637.83,461.87 633.83,467.28 642,469C650.17,470.72 677.83,456.33 685,469C692.17,481.67 744.67,532.33 685,545C625.33,557.67 386.67,558 327,545C267.33,532 319.83,480 327,467Z" fill="#ffffff" filter="url(#f18_m20)" opacity="0.45"/>
<path d="M327,467C334.17,454 361.83,468.1 370,467C378.17,465.9 374,463.57 376,460.4C378,457.23 380,451.28 382,448C384,444.72 386,441.03 388,440.7C390,440.37 392.17,442.95 394,446C395.83,449.05 397.28,455.32 399,459C400.72,462.68 402.3,467.93 404.3,468.1C406.3,468.27 408.58,463 411,460C413.42,457 416.3,453.6 418.8,450.1C421.3,446.6 423.72,442.43 426,439C428.28,435.57 430.5,432.67 432.5,429.5C434.5,426.33 436,423.13 438,420C440,416.87 442.42,414.03 444.5,410.7C446.58,407.37 448.5,403.43 450.5,400C452.5,396.57 454.67,392.93 456.5,390.1C458.33,387.27 459.78,385 461.5,383C463.22,381 465.22,379.27 466.8,378.1C468.38,376.93 469.57,376.57 471,376C472.43,375.43 474.07,375.37 475.4,374.7C476.73,374.03 477.87,373.13 479,372C480.13,370.87 481.33,368.95 482.2,367.9C483.07,366.85 482.92,365.62 484.2,365.7C485.48,365.78 488.27,367.85 489.9,368.4C491.53,368.95 492.47,368.82 494,369C495.53,369.18 497.37,368.4 499.1,369.5C500.83,370.6 502.87,372.82 504.4,375.6C505.93,378.38 507.2,381.97 508.3,386.2C509.4,390.43 510.12,395.2 511,401C511.88,406.8 512.68,415.5 513.6,421C514.52,426.5 515.43,430.5 516.5,434C517.57,437.5 518.57,440.13 520,442C521.43,443.87 523.43,445.87 525.1,445.2C526.77,444.53 528.32,440.4 530,438C531.68,435.6 533.77,431.87 535.2,430.8C536.63,429.73 537.3,432.57 538.6,431.6C539.9,430.63 541.3,427.4 543,425C544.7,422.6 546.98,417.78 548.8,417.2C550.62,416.62 551.7,420.87 553.9,421.5C556.1,422.13 559.18,421.15 562,421C564.82,420.85 567.97,420.43 570.8,420.6C573.63,420.77 576.18,421.57 579,422C581.82,422.43 584.87,423.37 587.7,423.2C590.53,423.03 593.17,421.43 596,421C598.83,420.57 602.37,420.43 604.7,420.6C607.03,420.77 608.32,421.28 610,422C611.68,422.72 613.13,423.23 614.8,424.9C616.47,426.57 618.3,429.18 620,432C621.7,434.82 623.17,438.8 625,441.8C626.83,444.8 629.17,447.18 631,450C632.83,452.82 634.17,455.53 636,458.7C637.83,461.87 633.83,467.28 642,469C650.17,470.72 677.83,456.33 685,469C692.17,481.67 744.67,532.33 685,545C625.33,557.67 386.67,558 327,545C267.33,532 319.83,480 327,467Z" fill="#ffffff" filter="url(#f2p5_m1p5)"/>
<path d="M327,467C334.17,454 361.83,468.1 370,467C378.17,465.9 374,463.57 376,460.4C378,457.23 380,451.28 382,448C384,444.72 386,441.03 388,440.7C390,440.37 392.17,442.95 394,446C395.83,449.05 397.28,455.32 399,459C400.72,462.68 402.3,467.93 404.3,468.1C406.3,468.27 408.58,463 411,460C413.42,457 416.3,453.6 418.8,450.1C421.3,446.6 423.72,442.43 426,439C428.28,435.57 430.5,432.67 432.5,429.5C434.5,426.33 436,423.13 438,420C440,416.87 442.42,414.03 444.5,410.7C446.58,407.37 448.5,403.43 450.5,400C452.5,396.57 454.67,392.93 456.5,390.1C458.33,387.27 459.78,385 461.5,383C463.22,381 465.22,379.27 466.8,378.1C468.38,376.93 469.57,376.57 471,376C472.43,375.43 474.07,375.37 475.4,374.7C476.73,374.03 477.87,373.13 479,372C480.13,370.87 481.33,368.95 482.2,367.9C483.07,366.85 482.92,365.62 484.2,365.7C485.48,365.78 488.27,367.85 489.9,368.4C491.53,368.95 492.47,368.82 494,369C495.53,369.18 497.37,368.4 499.1,369.5C500.83,370.6 502.87,372.82 504.4,375.6C505.93,378.38 507.2,381.97 508.3,386.2C509.4,390.43 510.12,395.2 511,401C511.88,406.8 512.68,415.5 513.6,421C514.52,426.5 515.43,430.5 516.5,434C517.57,437.5 518.57,440.13 520,442C521.43,443.87 523.43,445.87 525.1,445.2C526.77,444.53 528.32,440.4 530,438C531.68,435.6 533.77,431.87 535.2,430.8C536.63,429.73 537.3,432.57 538.6,431.6C539.9,430.63 541.3,427.4 543,425C544.7,422.6 546.98,417.78 548.8,417.2C550.62,416.62 551.7,420.87 553.9,421.5C556.1,422.13 559.18,421.15 562,421C564.82,420.85 567.97,420.43 570.8,420.6C573.63,420.77 576.18,421.57 579,422C581.82,422.43 584.87,423.37 587.7,423.2C590.53,423.03 593.17,421.43 596,421C598.83,420.57 602.37,420.43 604.7,420.6C607.03,420.77 608.32,421.28 610,422C611.68,422.72 613.13,423.23 614.8,424.9C616.47,426.57 618.3,429.18 620,432C621.7,434.82 623.17,438.8 625,441.8C626.83,444.8 629.17,447.18 631,450C632.83,452.82 634.17,455.53 636,458.7C637.83,461.87 633.83,467.28 642,469C650.17,470.72 677.83,456.33 685,469C692.17,481.67 744.67,532.33 685,545C625.33,557.67 386.67,558 327,545C267.33,532 319.83,480 327,467Z" fill="#ffffff" filter="url(#f1p2_0)"/>
<path d="M327,467C334.17,454 361.83,468.1 370,467C378.17,465.9 374,463.57 376,460.4C378,457.23 380,451.28 382,448C384,444.72 386,441.03 388,440.7C390,440.37 392.17,442.95 394,446C395.83,449.05 397.28,455.32 399,459C400.72,462.68 402.3,467.93 404.3,468.1C406.3,468.27 408.58,463 411,460C413.42,457 416.3,453.6 418.8,450.1C421.3,446.6 423.72,442.43 426,439C428.28,435.57 430.5,432.67 432.5,429.5C434.5,426.33 436,423.13 438,420C440,416.87 442.42,414.03 444.5,410.7C446.58,407.37 448.5,403.43 450.5,400C452.5,396.57 454.67,392.93 456.5,390.1C458.33,387.27 459.78,385 461.5,383C463.22,381 465.22,379.27 466.8,378.1C468.38,376.93 469.57,376.57 471,376C472.43,375.43 474.07,375.37 475.4,374.7C476.73,374.03 477.87,373.13 479,372C480.13,370.87 481.33,368.95 482.2,367.9C483.07,366.85 482.92,365.62 484.2,365.7C485.48,365.78 488.27,367.85 489.9,368.4C491.53,368.95 492.47,368.82 494,369C495.53,369.18 497.37,368.4 499.1,369.5C500.83,370.6 502.87,372.82 504.4,375.6C505.93,378.38 507.2,381.97 508.3,386.2C509.4,390.43 510.12,395.2 511,401C511.88,406.8 512.68,415.5 513.6,421C514.52,426.5 515.43,430.5 516.5,434C517.57,437.5 518.57,440.13 520,442C521.43,443.87 523.43,445.87 525.1,445.2C526.77,444.53 528.32,440.4 530,438C531.68,435.6 533.77,431.87 535.2,430.8C536.63,429.73 537.3,432.57 538.6,431.6C539.9,430.63 541.3,427.4 543,425C544.7,422.6 546.98,417.78 548.8,417.2C550.62,416.62 551.7,420.87 553.9,421.5C556.1,422.13 559.18,421.15 562,421C564.82,420.85 567.97,420.43 570.8,420.6C573.63,420.77 576.18,421.57 579,422C581.82,422.43 584.87,423.37 587.7,423.2C590.53,423.03 593.17,421.43 596,421C598.83,420.57 602.37,420.43 604.7,420.6C607.03,420.77 608.32,421.28 610,422C611.68,422.72 613.13,423.23 614.8,424.9C616.47,426.57 618.3,429.18 620,432C621.7,434.82 623.17,438.8 625,441.8C626.83,444.8 629.17,447.18 631,450C632.83,452.82 634.17,455.53 636,458.7C637.83,461.87 633.83,467.28 642,469C650.17,470.72 677.83,456.33 685,469C692.17,481.67 744.67,532.33 685,545C625.33,557.67 386.67,558 327,545C267.33,532 319.83,480 327,467Z" fill="#ffb0b0" filter="url(#f1_1p5)"/>
<path d="M327,467C334.17,454 361.83,468.1 370,467C378.17,465.9 374,463.57 376,460.4C378,457.23 380,451.28 382,448C384,444.72 386,441.03 388,440.7C390,440.37 392.17,442.95 394,446C395.83,449.05 397.28,455.32 399,459C400.72,462.68 402.3,467.93 404.3,468.1C406.3,468.27 408.58,463 411,460C413.42,457 416.3,453.6 418.8,450.1C421.3,446.6 423.72,442.43 426,439C428.28,435.57 430.5,432.67 432.5,429.5C434.5,426.33 436,423.13 438,420C440,416.87 442.42,414.03 444.5,410.7C446.58,407.37 448.5,403.43 450.5,400C452.5,396.57 454.67,392.93 456.5,390.1C458.33,387.27 459.78,385 461.5,383C463.22,381 465.22,379.27 466.8,378.1C468.38,376.93 469.57,376.57 471,376C472.43,375.43 474.07,375.37 475.4,374.7C476.73,374.03 477.87,373.13 479,372C480.13,370.87 481.33,368.95 482.2,367.9C483.07,366.85 482.92,365.62 484.2,365.7C485.48,365.78 488.27,367.85 489.9,368.4C491.53,368.95 492.47,368.82 494,369C495.53,369.18 497.37,368.4 499.1,369.5C500.83,370.6 502.87,372.82 504.4,375.6C505.93,378.38 507.2,381.97 508.3,386.2C509.4,390.43 510.12,395.2 511,401C511.88,406.8 512.68,415.5 513.6,421C514.52,426.5 515.43,430.5 516.5,434C517.57,437.5 518.57,440.13 520,442C521.43,443.87 523.43,445.87 525.1,445.2C526.77,444.53 528.32,440.4 530,438C531.68,435.6 533.77,431.87 535.2,430.8C536.63,429.73 537.3,432.57 538.6,431.6C539.9,430.63 541.3,427.4 543,425C544.7,422.6 546.98,417.78 548.8,417.2C550.62,416.62 551.7,420.87 553.9,421.5C556.1,422.13 559.18,421.15 562,421C564.82,420.85 567.97,420.43 570.8,420.6C573.63,420.77 576.18,421.57 579,422C581.82,422.43 584.87,423.37 587.7,423.2C590.53,423.03 593.17,421.43 596,421C598.83,420.57 602.37,420.43 604.7,420.6C607.03,420.77 608.32,421.28 610,422C611.68,422.72 613.13,423.23 614.8,424.9C616.47,426.57 618.3,429.18 620,432C621.7,434.82 623.17,438.8 625,441.8C626.83,444.8 629.17,447.18 631,450C632.83,452.82 634.17,455.53 636,458.7C637.83,461.87 633.83,467.28 642,469C650.17,470.72 677.83,456.33 685,469C692.17,481.67 744.67,532.33 685,545C625.33,557.67 386.67,558 327,545C267.33,532 319.83,480 327,467Z" fill="#ffa2a2" filter="url(#f4_9)"/>
<path d="M327,467C334.17,454 361.83,468.1 370,467C378.17,465.9 374,463.57 376,460.4C378,457.23 380,451.28 382,448C384,444.72 386,441.03 388,440.7C390,440.37 392.17,442.95 394,446C395.83,449.05 397.28,455.32 399,459C400.72,462.68 402.3,467.93 404.3,468.1C406.3,468.27 408.58,463 411,460C413.42,457 416.3,453.6 418.8,450.1C421.3,446.6 423.72,442.43 426,439C428.28,435.57 430.5,432.67 432.5,429.5C434.5,426.33 436,423.13 438,420C440,416.87 442.42,414.03 444.5,410.7C446.58,407.37 448.5,403.43 450.5,400C452.5,396.57 454.67,392.93 456.5,390.1C458.33,387.27 459.78,385 461.5,383C463.22,381 465.22,379.27 466.8,378.1C468.38,376.93 469.57,376.57 471,376C472.43,375.43 474.07,375.37 475.4,374.7C476.73,374.03 477.87,373.13 479,372C480.13,370.87 481.33,368.95 482.2,367.9C483.07,366.85 482.92,365.62 484.2,365.7C485.48,365.78 488.27,367.85 489.9,368.4C491.53,368.95 492.47,368.82 494,369C495.53,369.18 497.37,368.4 499.1,369.5C500.83,370.6 502.87,372.82 504.4,375.6C505.93,378.38 507.2,381.97 508.3,386.2C509.4,390.43 510.12,395.2 511,401C511.88,406.8 512.68,415.5 513.6,421C514.52,426.5 515.43,430.5 516.5,434C517.57,437.5 518.57,440.13 520,442C521.43,443.87 523.43,445.87 525.1,445.2C526.77,444.53 528.32,440.4 530,438C531.68,435.6 533.77,431.87 535.2,430.8C536.63,429.73 537.3,432.57 538.6,431.6C539.9,430.63 541.3,427.4 543,425C544.7,422.6 546.98,417.78 548.8,417.2C550.62,416.62 551.7,420.87 553.9,421.5C556.1,422.13 559.18,421.15 562,421C564.82,420.85 567.97,420.43 570.8,420.6C573.63,420.77 576.18,421.57 579,422C581.82,422.43 584.87,423.37 587.7,423.2C590.53,423.03 593.17,421.43 596,421C598.83,420.57 602.37,420.43 604.7,420.6C607.03,420.77 608.32,421.28 610,422C611.68,422.72 613.13,423.23 614.8,424.9C616.47,426.57 618.3,429.18 620,432C621.7,434.82 623.17,438.8 625,441.8C626.83,444.8 629.17,447.18 631,450C632.83,452.82 634.17,455.53 636,458.7C637.83,461.87 633.83,467.28 642,469C650.17,470.72 677.83,456.33 685,469C692.17,481.67 744.67,532.33 685,545C625.33,557.67 386.67,558 327,545C267.33,532 319.83,480 327,467Z" fill="#ff9494" filter="url(#f8_22)"/>
<path d="M567,500C561.17,495.33 568.83,480 571,472C573.17,464 577,456 580,452C583,448 586.17,447.33 589,448C591.83,448.67 594.67,451 597,456C599.33,461 601.5,470.67 603,478C604.5,485.33 612,496.33 606,500C600,503.67 572.83,504.67 567,500Z" fill="#ffe0e0" filter="url(#f4_0)" opacity="0.85"/>
<path d="M478,377C478.17,374.33 481.83,370.67 484,370C486.17,369.33 490.33,370.67 491,373C491.67,375.33 489.33,381.83 488,384C486.67,386.17 484.67,387.17 483,386C481.33,384.83 477.83,379.67 478,377Z" fill="#ffffff" filter="url(#f1p5_0)"/>
<ellipse cx="484.5" cy="378" rx="3.5" ry="4.5" fill="#a8bcfc" filter="url(#f1p2_0)"/>
<path d="M470,400C472,380.33 479.5,381.67 484,380C488.5,378.33 494,380 497,390C500,400 501.83,422 502,440C502.17,458 503,488.33 498,498C493,507.67 476.67,514.33 472,498C467.33,481.67 468,419.67 470,400Z" fill="#ffd0d0" filter="url(#f8_0)" opacity="0.6"/>
<path d="M556,428C559.17,428.33 568.5,429.67 575,430C581.5,430.33 588.33,429.67 595,430C601.67,430.33 611.67,431.67 615,432" fill="none" stroke="#ff7070" stroke-width="6" stroke-linecap="round" stroke-linejoin="round" filter="url(#f3_0)" opacity="0.55"/>
<path d="M528,455C529,457.83 532,465.5 534,472C536,478.5 539,490.33 540,494" fill="none" stroke="#ff6a6a" stroke-width="6" stroke-linecap="round" stroke-linejoin="round" filter="url(#f3_0)" opacity="0.5"/>
<path d="M553,425C553.5,430 555.17,443.5 556,455C556.83,466.5 557.67,487.5 558,494" fill="none" stroke="#ff6a6a" stroke-width="5" stroke-linecap="round" stroke-linejoin="round" filter="url(#f3_0)" opacity="0.5"/>
<path d="M467.3,380.6C468,380.25 470.07,379.07 471.5,378.5C472.93,377.93 474.57,377.87 475.9,377.2C477.23,376.53 478.37,375.63 479.5,374.5C480.63,373.37 481.83,371.45 482.7,370.4C483.57,369.35 484.37,368.57 484.7,368.2" fill="none" stroke="#ffb0b0" stroke-width="5" stroke-linecap="round" stroke-linejoin="round" filter="url(#f2p5_0)"/>
<path d="M471,372.5C471.73,372.28 474.07,371.87 475.4,371.2C476.73,370.53 477.87,369.63 479,368.5C480.13,367.37 481.33,365.45 482.2,364.4C483.07,363.35 482.92,362.12 484.2,362.2C485.48,362.28 488.27,364.35 489.9,364.9C491.53,365.45 492.47,365.32 494,365.5C495.53,365.68 497.37,364.9 499.1,366C500.83,367.1 502.87,369.32 504.4,372.1C505.93,374.88 507.2,378.47 508.3,382.7C509.4,386.93 510.12,391.7 511,397.5C511.88,403.3 512.68,412 513.6,417.5C514.52,423 515.43,427 516.5,430.5C517.57,434 518.57,436.63 520,438.5C521.43,440.37 524.25,441.17 525.1,441.7" fill="none" stroke="#ffffff" stroke-width="5" stroke-linecap="round" stroke-linejoin="round" filter="url(#f1p8_0)" opacity="0.85"/>
<path d="M471,375C471.73,374.78 474.07,374.37 475.4,373.7C476.73,373.03 477.87,372.13 479,371C480.13,369.87 481.33,367.95 482.2,366.9C483.07,365.85 482.92,364.62 484.2,364.7C485.48,364.78 488.27,366.85 489.9,367.4C491.53,367.95 492.47,367.82 494,368C495.53,368.18 497.37,367.4 499.1,368.5C500.83,369.6 502.87,371.82 504.4,374.6C505.93,377.38 507.2,380.97 508.3,385.2C509.4,389.43 510.12,394.2 511,400C511.88,405.8 512.68,414.5 513.6,420C514.52,425.5 515.43,429.5 516.5,433C517.57,436.5 518.57,439.13 520,441C521.43,442.87 524.25,443.67 525.1,444.2" fill="none" stroke="#f52a2a" stroke-width="1.6" stroke-linecap="round" stroke-linejoin="round" filter="url(#f0p5_0)"/>
<path d="M530,441C530.87,439.8 533.77,434.87 535.2,433.8C536.63,432.73 537.3,435.57 538.6,434.6C539.9,433.63 541.3,430.4 543,428C544.7,425.6 546.98,420.78 548.8,420.2C550.62,419.62 551.7,423.87 553.9,424.5C556.1,425.13 559.18,424.15 562,424C564.82,423.85 567.97,423.43 570.8,423.6C573.63,423.77 576.18,424.57 579,425C581.82,425.43 584.87,426.37 587.7,426.2C590.53,426.03 593.17,424.43 596,424C598.83,423.57 602.37,423.43 604.7,423.6C607.03,423.77 608.32,424.28 610,425C611.68,425.72 613.13,426.23 614.8,427.9C616.47,429.57 618.3,432.18 620,435C621.7,437.82 623.17,441.8 625,444.8C626.83,447.8 629.17,450.18 631,453C632.83,455.82 634.17,458.53 636,461.7C637.83,464.87 641,470.28 642,472" fill="none" stroke="#ff7a7a" stroke-width="6" stroke-linecap="round" stroke-linejoin="round" filter="url(#f2_0)" opacity="0.7"/>
<path d="M378,470C375.5,467 381.33,456 383,452C384.67,448 386.33,446.17 388,446C389.67,445.83 391.33,447 393,451C394.67,455 400.5,466.83 398,470C395.5,473.17 380.5,473 378,470Z" fill="#ff7070" filter="url(#f3_0)" opacity="0.6"/>
<path d="M484.2,364.7C484.75,362.92 486.37,357.78 487.5,354C488.63,350.22 489.9,345.78 491,342C492.1,338.22 493.02,335.63 494.1,331.3C495.18,326.97 496.43,320.93 497.5,316C498.57,311.07 499.58,305.7 500.5,301.7C501.42,297.7 502.05,294.65 503,292C503.95,289.35 504.72,287.6 506.2,285.8C507.68,284 510.27,282.17 511.9,281.2C513.53,280.23 514.67,280.3 516,280C517.33,279.7 518.73,279.9 519.9,279.4C521.07,278.9 522.07,277.83 523,277C523.93,276.17 524.5,275.73 525.5,274.4C526.5,273.07 527.67,270.9 529,269C530.33,267.1 532.75,264 533.5,263" fill="none" stroke="#ffffff" stroke-width="5" stroke-linecap="round" stroke-linejoin="round" filter="url(#f1p5_0)" opacity="0.85"/>
<path d="M484.2,364.7C484.75,362.92 486.37,357.78 487.5,354C488.63,350.22 489.9,345.78 491,342C492.1,338.22 493.02,335.63 494.1,331.3C495.18,326.97 496.43,320.93 497.5,316C498.57,311.07 499.58,305.7 500.5,301.7C501.42,297.7 502.05,294.65 503,292C503.95,289.35 504.72,287.6 506.2,285.8C507.68,284 510.27,282.17 511.9,281.2C513.53,280.23 514.67,280.3 516,280C517.33,279.7 518.73,279.9 519.9,279.4C521.07,278.9 522.07,277.83 523,277C523.93,276.17 524.5,275.73 525.5,274.4C526.5,273.07 527.67,270.9 529,269C530.33,267.1 532.75,264 533.5,263" fill="none" stroke="#ff2626" stroke-width="1.6" stroke-linecap="round" stroke-linejoin="round" filter="url(#f0p3_0)"/>
<path d="M505,288C505.58,287.25 507.33,284.63 508.5,283.5C509.67,282.37 510.75,281.78 512,281.2C513.25,280.62 514.67,280.33 516,280C517.33,279.67 518.75,279.78 520,279.2C521.25,278.62 522.92,276.95 523.5,276.5" fill="none" stroke="#ee2222" stroke-width="3.5" stroke-linecap="round" stroke-linejoin="round" filter="url(#f1p2_0)" opacity="0.8"/>
<path d="M451.5,263C452.58,266.33 456,277.17 458,283C460,288.83 461.67,293.12 463.5,298C465.33,302.88 467.33,307.47 469,312.3C470.67,317.13 472.17,322.38 473.5,327C474.83,331.62 475.92,336.12 477,340C478.08,343.88 479.08,347.3 480,350.3C480.92,353.3 481.8,355.6 482.5,358C483.2,360.4 483.92,363.58 484.2,364.7" fill="none" stroke="#ffffff" stroke-width="4" stroke-linecap="round" stroke-linejoin="round" filter="url(#f1p2_0)" opacity="0.6"/>
<path d="M451.5,263C452.58,266.33 456,277.17 458,283C460,288.83 461.67,293.12 463.5,298C465.33,302.88 467.33,307.47 469,312.3C470.67,317.13 472.17,322.38 473.5,327C474.83,331.62 475.92,336.12 477,340C478.08,343.88 479.08,347.3 480,350.3C480.92,353.3 481.8,355.6 482.5,358C483.2,360.4 483.92,363.58 484.2,364.7" fill="none" stroke="#ff4040" stroke-width="1.3" stroke-linecap="round" stroke-linejoin="round" filter="url(#f0p3_0)" opacity="0.9" stroke-dasharray="2.4 1.4"/>
</g>
<line x1="484.5" y1="263.4" x2="484.5" y2="494.2" stroke="#2a2a2a" stroke-width="1.1"/>
<line x1="552.1" y1="263.4" x2="552.1" y2="494.2" stroke="#2a2a2a" stroke-width="1.1"/>
<line x1="376.4" y1="286.48" x2="381.9" y2="286.48" stroke="#333" stroke-width="1.3"/>
<line x1="630.1" y1="286.48" x2="635.6" y2="286.48" stroke="#333" stroke-width="1.3"/>
<line x1="376.4" y1="309.56" x2="381.9" y2="309.56" stroke="#333" stroke-width="1.3"/>
<line x1="630.1" y1="309.56" x2="635.6" y2="309.56" stroke="#333" stroke-width="1.3"/>
<line x1="376.4" y1="332.64" x2="381.9" y2="332.64" stroke="#333" stroke-width="1.3"/>
<line x1="630.1" y1="332.64" x2="635.6" y2="332.64" stroke="#333" stroke-width="1.3"/>
<line x1="376.4" y1="355.72" x2="381.9" y2="355.72" stroke="#333" stroke-width="1.3"/>
<line x1="630.1" y1="355.72" x2="635.6" y2="355.72" stroke="#333" stroke-width="1.3"/>
<line x1="376.4" y1="378.8" x2="381.9" y2="378.8" stroke="#333" stroke-width="1.3"/>
<line x1="630.1" y1="378.8" x2="635.6" y2="378.8" stroke="#333" stroke-width="1.3"/>
<line x1="376.4" y1="401.88" x2="381.9" y2="401.88" stroke="#333" stroke-width="1.3"/>
<line x1="630.1" y1="401.88" x2="635.6" y2="401.88" stroke="#333" stroke-width="1.3"/>
<line x1="376.4" y1="424.96" x2="381.9" y2="424.96" stroke="#333" stroke-width="1.3"/>
<line x1="630.1" y1="424.96" x2="635.6" y2="424.96" stroke="#333" stroke-width="1.3"/>
<line x1="376.4" y1="448.04" x2="381.9" y2="448.04" stroke="#333" stroke-width="1.3"/>
<line x1="630.1" y1="448.04" x2="635.6" y2="448.04" stroke="#333" stroke-width="1.3"/>
<line x1="376.4" y1="471.12" x2="381.9" y2="471.12" stroke="#333" stroke-width="1.3"/>
<line x1="630.1" y1="471.12" x2="635.6" y2="471.12" stroke="#333" stroke-width="1.3"/>
<rect x="376.4" y="263.4" width="259.2" height="230.8" fill="none" stroke="#555" stroke-width="1.2"/>
<g clip-path="url(#clipe)">
<rect x="78.5" y="523.5" width="260.6" height="232.3" fill="#3e6aff"/>
<ellipse cx="165" cy="605" rx="28" ry="40" fill="#ffffff" filter="url(#f12_0)" opacity="0.3"/>
<path d="M127,515C123.17,516.42 128.83,519.67 130,523.5C131.17,527.33 132.67,533.25 134,538C135.33,542.75 136.9,548.72 138,552C139.1,555.28 139.68,557.87 140.6,557.7C141.52,557.53 142.43,554.45 143.5,551C144.57,547.55 145.72,541.58 147,537C148.28,532.42 150.2,527.17 151.2,523.5C152.2,519.83 157.03,516.42 153,515C148.97,513.58 130.83,513.58 127,515Z" fill="#ffffff" filter="url(#f20_0)" opacity="0.3"/>
<path d="M127,515C123.17,516.42 128.83,519.67 130,523.5C131.17,527.33 132.67,533.25 134,538C135.33,542.75 136.9,548.72 138,552C139.1,555.28 139.68,557.87 140.6,557.7C141.52,557.53 142.43,554.45 143.5,551C144.57,547.55 145.72,541.58 147,537C148.28,532.42 150.2,527.17 151.2,523.5C152.2,519.83 157.03,516.42 153,515C148.97,513.58 130.83,513.58 127,515Z" fill="#ffffff" filter="url(#f5_0)" opacity="0.8"/>
<path d="M127,515C123.17,516.42 128.83,519.67 130,523.5C131.17,527.33 132.67,533.25 134,538C135.33,542.75 136.9,548.72 138,552C139.1,555.28 139.68,557.87 140.6,557.7C141.52,557.53 142.43,554.45 143.5,551C144.57,547.55 145.72,541.58 147,537C148.28,532.42 150.2,527.17 151.2,523.5C152.2,519.83 157.03,516.42 153,515C148.97,513.58 130.83,513.58 127,515Z" fill="#ffffff" filter="url(#f2_0)"/>
<path d="M127,515C123.17,516.42 128.83,519.67 130,523.5C131.17,527.33 132.67,533.25 134,538C135.33,542.75 136.9,548.72 138,552C139.1,555.28 139.68,557.87 140.6,557.7C141.52,557.53 142.43,554.45 143.5,551C144.57,547.55 145.72,541.58 147,537C148.28,532.42 150.2,527.17 151.2,523.5C152.2,519.83 157.03,516.42 153,515C148.97,513.58 130.83,513.58 127,515Z" fill="#ffeaea" filter="url(#f1p5_2p5)"/>
<path d="M127,515C123.17,516.42 128.83,519.67 130,523.5C131.17,527.33 132.67,533.25 134,538C135.33,542.75 136.9,548.72 138,552C139.1,555.28 139.68,557.87 140.6,557.7C141.52,557.53 142.43,554.45 143.5,551C144.57,547.55 145.72,541.58 147,537C148.28,532.42 150.2,527.17 151.2,523.5C152.2,519.83 157.03,516.42 153,515C148.97,513.58 130.83,513.58 127,515Z" fill="#ffdcdc" filter="url(#f4_4)"/>
<path d="M156,515C147.32,516.42 157.4,518.5 158.9,523.5C160.4,528.5 162.98,538.08 165,545C167.02,551.92 169,558.83 171,565C173,571.17 175.17,577.17 177,582C178.83,586.83 180.33,591.17 182,594C183.67,596.83 185.5,599 187,599C188.5,599 189.5,597.5 191,594C192.5,590.5 194.33,583.83 196,578C197.67,572.17 199.5,565 201,559C202.5,553 203.83,546.83 205,542C206.17,537.17 207.17,533.08 208,530C208.83,526.92 209.5,526 210,523.5C210.5,521 220,516.42 211,515C202,513.58 164.68,513.58 156,515Z" fill="#ffffff" filter="url(#f20_0)" opacity="0.35"/>
<path d="M156,515C147.32,516.42 157.4,518.5 158.9,523.5C160.4,528.5 162.98,538.08 165,545C167.02,551.92 169,558.83 171,565C173,571.17 175.17,577.17 177,582C178.83,586.83 180.33,591.17 182,594C183.67,596.83 185.5,599 187,599C188.5,599 189.5,597.5 191,594C192.5,590.5 194.33,583.83 196,578C197.67,572.17 199.5,565 201,559C202.5,553 203.83,546.83 205,542C206.17,537.17 207.17,533.08 208,530C208.83,526.92 209.5,526 210,523.5C210.5,521 220,516.42 211,515C202,513.58 164.68,513.58 156,515Z" fill="#ffffff" filter="url(#f5_0)" opacity="0.8"/>
<path d="M156,515C147.32,516.42 157.4,518.5 158.9,523.5C160.4,528.5 162.98,538.08 165,545C167.02,551.92 169,558.83 171,565C173,571.17 175.17,577.17 177,582C178.83,586.83 180.33,591.17 182,594C183.67,596.83 185.5,599 187,599C188.5,599 189.5,597.5 191,594C192.5,590.5 194.33,583.83 196,578C197.67,572.17 199.5,565 201,559C202.5,553 203.83,546.83 205,542C206.17,537.17 207.17,533.08 208,530C208.83,526.92 209.5,526 210,523.5C210.5,521 220,516.42 211,515C202,513.58 164.68,513.58 156,515Z" fill="#ffffff" filter="url(#f2_0)"/>
<path d="M156,515C147.32,516.42 157.4,518.5 158.9,523.5C160.4,528.5 162.98,538.08 165,545C167.02,551.92 169,558.83 171,565C173,571.17 175.17,577.17 177,582C178.83,586.83 180.33,591.17 182,594C183.67,596.83 185.5,599 187,599C188.5,599 189.5,597.5 191,594C192.5,590.5 194.33,583.83 196,578C197.67,572.17 199.5,565 201,559C202.5,553 203.83,546.83 205,542C206.17,537.17 207.17,533.08 208,530C208.83,526.92 209.5,526 210,523.5C210.5,521 220,516.42 211,515C202,513.58 164.68,513.58 156,515Z" fill="#fff4f4" filter="url(#f1p5_2p5)"/>
<path d="M156,515C147.32,516.42 157.4,518.5 158.9,523.5C160.4,528.5 162.98,538.08 165,545C167.02,551.92 169,558.83 171,565C173,571.17 175.17,577.17 177,582C178.83,586.83 180.33,591.17 182,594C183.67,596.83 185.5,599 187,599C188.5,599 189.5,597.5 191,594C192.5,590.5 194.33,583.83 196,578C197.67,572.17 199.5,565 201,559C202.5,553 203.83,546.83 205,542C206.17,537.17 207.17,533.08 208,530C208.83,526.92 209.5,526 210,523.5C210.5,521 220,516.42 211,515C202,513.58 164.68,513.58 156,515Z" fill="#ffeaea" filter="url(#f4_8)"/>
<path d="M211,515C197.25,516.42 212.5,518.5 213.5,523.5C214.5,528.5 215.67,538.52 217,545C218.33,551.48 219.92,555.73 221.5,562.4C223.08,569.07 224.67,576.97 226.5,585C228.33,593.03 230.75,603.43 232.5,610.6C234.25,617.77 235.58,623.1 237,628C238.42,632.9 239.5,634.67 241,640C242.5,645.33 244.5,653.67 246,660C247.5,666.33 248.75,672.05 250,678C251.25,683.95 252.62,691.65 253.5,695.7C254.38,699.75 254.57,702.3 255.3,702.3C256.03,702.3 256.95,698.75 257.9,695.7C258.85,692.65 259.92,687.65 261,684C262.08,680.35 263.23,678.13 264.4,673.8C265.57,669.47 266.9,662.8 268,658C269.1,653.2 270.13,648 271,645C271.87,642 272.2,644.17 273.2,640C274.2,635.83 275.53,627.5 277,620C278.47,612.5 280.33,603.83 282,595C283.67,586.17 285.5,575.67 287,567C288.5,558.33 289.83,550.25 291,543C292.17,535.75 293.17,528.17 294,523.5C294.83,518.83 309.83,516.42 296,515C282.17,513.58 224.75,513.58 211,515Z" fill="#ffffff" filter="url(#f20_0)" opacity="0.4"/>
<path d="M211,515C197.25,516.42 212.5,518.5 213.5,523.5C214.5,528.5 215.67,538.52 217,545C218.33,551.48 219.92,555.73 221.5,562.4C223.08,569.07 224.67,576.97 226.5,585C228.33,593.03 230.75,603.43 232.5,610.6C234.25,617.77 235.58,623.1 237,628C238.42,632.9 239.5,634.67 241,640C242.5,645.33 244.5,653.67 246,660C247.5,666.33 248.75,672.05 250,678C251.25,683.95 252.62,691.65 253.5,695.7C254.38,699.75 254.57,702.3 255.3,702.3C256.03,702.3 256.95,698.75 257.9,695.7C258.85,692.65 259.92,687.65 261,684C262.08,680.35 263.23,678.13 264.4,673.8C265.57,669.47 266.9,662.8 268,658C269.1,653.2 270.13,648 271,645C271.87,642 272.2,644.17 273.2,640C274.2,635.83 275.53,627.5 277,620C278.47,612.5 280.33,603.83 282,595C283.67,586.17 285.5,575.67 287,567C288.5,558.33 289.83,550.25 291,543C292.17,535.75 293.17,528.17 294,523.5C294.83,518.83 309.83,516.42 296,515C282.17,513.58 224.75,513.58 211,515Z" fill="#ffffff" filter="url(#f5_0)" opacity="0.8"/>
<path d="M211,515C197.25,516.42 212.5,518.5 213.5,523.5C214.5,528.5 215.67,538.52 217,545C218.33,551.48 219.92,555.73 221.5,562.4C223.08,569.07 224.67,576.97 226.5,585C228.33,593.03 230.75,603.43 232.5,610.6C234.25,617.77 235.58,623.1 237,628C238.42,632.9 239.5,634.67 241,640C242.5,645.33 244.5,653.67 246,660C247.5,666.33 248.75,672.05 250,678C251.25,683.95 252.62,691.65 253.5,695.7C254.38,699.75 254.57,702.3 255.3,702.3C256.03,702.3 256.95,698.75 257.9,695.7C258.85,692.65 259.92,687.65 261,684C262.08,680.35 263.23,678.13 264.4,673.8C265.57,669.47 266.9,662.8 268,658C269.1,653.2 270.13,648 271,645C271.87,642 272.2,644.17 273.2,640C274.2,635.83 275.53,627.5 277,620C278.47,612.5 280.33,603.83 282,595C283.67,586.17 285.5,575.67 287,567C288.5,558.33 289.83,550.25 291,543C292.17,535.75 293.17,528.17 294,523.5C294.83,518.83 309.83,516.42 296,515C282.17,513.58 224.75,513.58 211,515Z" fill="#ffffff" filter="url(#f2_0)"/>
<path d="M211,515C197.25,516.42 212.5,518.5 213.5,523.5C214.5,528.5 215.67,538.52 217,545C218.33,551.48 219.92,555.73 221.5,562.4C223.08,569.07 224.67,576.97 226.5,585C228.33,593.03 230.75,603.43 232.5,610.6C234.25,617.77 235.58,623.1 237,628C238.42,632.9 239.5,634.67 241,640C242.5,645.33 244.5,653.67 246,660C247.5,666.33 248.75,672.05 250,678C251.25,683.95 252.62,691.65 253.5,695.7C254.38,699.75 254.57,702.3 255.3,702.3C256.03,702.3 256.95,698.75 257.9,695.7C258.85,692.65 259.92,687.65 261,684C262.08,680.35 263.23,678.13 264.4,673.8C265.57,669.47 266.9,662.8 268,658C269.1,653.2 270.13,648 271,645C271.87,642 272.2,644.17 273.2,640C274.2,635.83 275.53,627.5 277,620C278.47,612.5 280.33,603.83 282,595C283.67,586.17 285.5,575.67 287,567C288.5,558.33 289.83,550.25 291,543C292.17,535.75 293.17,528.17 294,523.5C294.83,518.83 309.83,516.42 296,515C282.17,513.58 224.75,513.58 211,515Z" fill="#ffe2e2" filter="url(#f1p5_2p5)"/>
<path d="M211,515C197.25,516.42 212.5,518.5 213.5,523.5C214.5,528.5 215.67,538.52 217,545C218.33,551.48 219.92,555.73 221.5,562.4C223.08,569.07 224.67,576.97 226.5,585C228.33,593.03 230.75,603.43 232.5,610.6C234.25,617.77 235.58,623.1 237,628C238.42,632.9 239.5,634.67 241,640C242.5,645.33 244.5,653.67 246,660C247.5,666.33 248.75,672.05 250,678C251.25,683.95 252.62,691.65 253.5,695.7C254.38,699.75 254.57,702.3 255.3,702.3C256.03,702.3 256.95,698.75 257.9,695.7C258.85,692.65 259.92,687.65 261,684C262.08,680.35 263.23,678.13 264.4,673.8C265.57,669.47 266.9,662.8 268,658C269.1,653.2 270.13,648 271,645C271.87,642 272.2,644.17 273.2,640C274.2,635.83 275.53,627.5 277,620C278.47,612.5 280.33,603.83 282,595C283.67,586.17 285.5,575.67 287,567C288.5,558.33 289.83,550.25 291,543C292.17,535.75 293.17,528.17 294,523.5C294.83,518.83 309.83,516.42 296,515C282.17,513.58 224.75,513.58 211,515Z" fill="#ffd0d0" filter="url(#f4_10)"/>
<path d="M216,515C203.67,519.17 219.33,532.5 222,540C224.67,547.5 225.33,556.67 232,560C238.67,563.33 253.17,563.33 262,560C270.83,556.67 279.33,547.5 285,540C290.67,532.5 307.5,519.17 296,515C284.5,510.83 228.33,510.83 216,515Z" fill="#ffc8c8" filter="url(#f8_0)" opacity="0.6"/>
<path d="M29,735C36.5,723.33 65.83,736.33 74,735C82.17,733.67 76.83,730.83 78,727C79.17,723.17 80,716.5 81,712C82,707.5 82.83,703.67 84,700C85.17,696.33 86.58,692.67 88,690C89.42,687.33 91,684 92.5,684C94,684 95.57,687 97,690C98.43,693 99.77,697.67 101.1,702C102.43,706.33 103.72,711.83 105,716C106.28,720.17 106.97,725.67 108.8,727C110.63,728.33 113.1,726.33 116,724C118.9,721.67 123.2,717.17 126.2,713C129.2,708.83 131.43,703.83 134,699C136.57,694.17 139.27,689 141.6,684C143.93,679 145.75,673.67 148,669C150.25,664.33 153.1,659.17 155.1,656C157.1,652.83 158.4,651.33 160,650C161.6,648.67 163.03,648.17 164.7,648C166.37,647.83 168.38,648.67 170,649C171.62,649.33 172.73,649.5 174.4,650C176.07,650.5 177.98,652.33 180,652C182.02,651.67 184.5,647.5 186.5,648C188.5,648.5 190.25,653.5 192,655C193.75,656.5 195.17,657.5 197,657C198.83,656.5 201.33,651.5 203,652C204.67,652.5 205.52,656.33 207,660C208.48,663.67 210.4,669.33 211.9,674C213.4,678.67 214.53,683.28 216,688C217.47,692.72 219.37,698.3 220.7,702.3C222.03,706.3 223.1,709.82 224,712C224.9,714.18 225.27,715.73 226.1,715.4C226.93,715.07 227.85,712.73 229,710C230.15,707.27 231.75,702.17 233,699C234.25,695.83 235.27,692.83 236.5,691C237.73,689.17 239.15,687.83 240.4,688C241.65,688.17 242.73,690.33 244,692C245.27,693.67 246.67,696.5 248,698C249.33,699.5 250.78,700.28 252,701C253.22,701.72 254.3,701.13 255.3,702.3C256.3,703.47 257.05,705.38 258,708C258.95,710.62 259.83,715 261,718C262.17,721 263.37,723.88 265,726C266.63,728.12 268.97,730.2 270.8,730.7C272.63,731.2 274.13,729.73 276,729C277.87,728.27 280.33,727.97 282,726.3C283.67,724.63 284.83,721.38 286,719C287.17,716.62 288,714.67 289,712C290,709.33 290.98,705.72 292,703C293.02,700.28 293.93,698.37 295.1,695.7C296.27,693.03 297.68,689.45 299,687C300.32,684.55 301.28,682.65 303,681C304.72,679.35 307.3,677.1 309.3,677.1C311.3,677.1 313.38,679.35 315,681C316.62,682.65 317.57,684.55 319,687C320.43,689.45 322.1,692.87 323.6,695.7C325.1,698.53 326.18,700.35 328,704C329.82,707.65 332.5,713.52 334.5,717.6C336.5,721.68 338.58,725.93 340,728.5C341.42,731.07 335,732.25 343,733C351,733.75 380.5,721 388,733C395.5,745 447.83,793 388,805C328.17,817 88.83,816.67 29,805C-30.83,793.33 21.5,746.67 29,735Z" fill="#ffffff" filter="url(#f16_0)" opacity="0.45"/>
<path d="M29,735C36.5,723.33 65.83,736.33 74,735C82.17,733.67 76.83,730.83 78,727C79.17,723.17 80,716.5 81,712C82,707.5 82.83,703.67 84,700C85.17,696.33 86.58,692.67 88,690C89.42,687.33 91,684 92.5,684C94,684 95.57,687 97,690C98.43,693 99.77,697.67 101.1,702C102.43,706.33 103.72,711.83 105,716C106.28,720.17 106.97,725.67 108.8,727C110.63,728.33 113.1,726.33 116,724C118.9,721.67 123.2,717.17 126.2,713C129.2,708.83 131.43,703.83 134,699C136.57,694.17 139.27,689 141.6,684C143.93,679 145.75,673.67 148,669C150.25,664.33 153.1,659.17 155.1,656C157.1,652.83 158.4,651.33 160,650C161.6,648.67 163.03,648.17 164.7,648C166.37,647.83 168.38,648.67 170,649C171.62,649.33 172.73,649.5 174.4,650C176.07,650.5 177.98,652.33 180,652C182.02,651.67 184.5,647.5 186.5,648C188.5,648.5 190.25,653.5 192,655C193.75,656.5 195.17,657.5 197,657C198.83,656.5 201.33,651.5 203,652C204.67,652.5 205.52,656.33 207,660C208.48,663.67 210.4,669.33 211.9,674C213.4,678.67 214.53,683.28 216,688C217.47,692.72 219.37,698.3 220.7,702.3C222.03,706.3 223.1,709.82 224,712C224.9,714.18 225.27,715.73 226.1,715.4C226.93,715.07 227.85,712.73 229,710C230.15,707.27 231.75,702.17 233,699C234.25,695.83 235.27,692.83 236.5,691C237.73,689.17 239.15,687.83 240.4,688C241.65,688.17 242.73,690.33 244,692C245.27,693.67 246.67,696.5 248,698C249.33,699.5 250.78,700.28 252,701C253.22,701.72 254.3,701.13 255.3,702.3C256.3,703.47 257.05,705.38 258,708C258.95,710.62 259.83,715 261,718C262.17,721 263.37,723.88 265,726C266.63,728.12 268.97,730.2 270.8,730.7C272.63,731.2 274.13,729.73 276,729C277.87,728.27 280.33,727.97 282,726.3C283.67,724.63 284.83,721.38 286,719C287.17,716.62 288,714.67 289,712C290,709.33 290.98,705.72 292,703C293.02,700.28 293.93,698.37 295.1,695.7C296.27,693.03 297.68,689.45 299,687C300.32,684.55 301.28,682.65 303,681C304.72,679.35 307.3,677.1 309.3,677.1C311.3,677.1 313.38,679.35 315,681C316.62,682.65 317.57,684.55 319,687C320.43,689.45 322.1,692.87 323.6,695.7C325.1,698.53 326.18,700.35 328,704C329.82,707.65 332.5,713.52 334.5,717.6C336.5,721.68 338.58,725.93 340,728.5C341.42,731.07 335,732.25 343,733C351,733.75 380.5,721 388,733C395.5,745 447.83,793 388,805C328.17,817 88.83,816.67 29,805C-30.83,793.33 21.5,746.67 29,735Z" fill="#ffffff" filter="url(#f8_0)" opacity="0.8"/>
<path d="M29,735C36.5,723.33 65.83,736.33 74,735C82.17,733.67 76.83,730.83 78,727C79.17,723.17 80,716.5 81,712C82,707.5 82.83,703.67 84,700C85.17,696.33 86.58,692.67 88,690C89.42,687.33 91,684 92.5,684C94,684 95.57,687 97,690C98.43,693 99.77,697.67 101.1,702C102.43,706.33 103.72,711.83 105,716C106.28,720.17 106.97,725.67 108.8,727C110.63,728.33 113.1,726.33 116,724C118.9,721.67 123.2,717.17 126.2,713C129.2,708.83 131.43,703.83 134,699C136.57,694.17 139.27,689 141.6,684C143.93,679 145.75,673.67 148,669C150.25,664.33 153.1,659.17 155.1,656C157.1,652.83 158.4,651.33 160,650C161.6,648.67 163.03,648.17 164.7,648C166.37,647.83 168.38,648.67 170,649C171.62,649.33 172.73,649.5 174.4,650C176.07,650.5 177.98,652.33 180,652C182.02,651.67 184.5,647.5 186.5,648C188.5,648.5 190.25,653.5 192,655C193.75,656.5 195.17,657.5 197,657C198.83,656.5 201.33,651.5 203,652C204.67,652.5 205.52,656.33 207,660C208.48,663.67 210.4,669.33 211.9,674C213.4,678.67 214.53,683.28 216,688C217.47,692.72 219.37,698.3 220.7,702.3C222.03,706.3 223.1,709.82 224,712C224.9,714.18 225.27,715.73 226.1,715.4C226.93,715.07 227.85,712.73 229,710C230.15,707.27 231.75,702.17 233,699C234.25,695.83 235.27,692.83 236.5,691C237.73,689.17 239.15,687.83 240.4,688C241.65,688.17 242.73,690.33 244,692C245.27,693.67 246.67,696.5 248,698C249.33,699.5 250.78,700.28 252,701C253.22,701.72 254.3,701.13 255.3,702.3C256.3,703.47 257.05,705.38 258,708C258.95,710.62 259.83,715 261,718C262.17,721 263.37,723.88 265,726C266.63,728.12 268.97,730.2 270.8,730.7C272.63,731.2 274.13,729.73 276,729C277.87,728.27 280.33,727.97 282,726.3C283.67,724.63 284.83,721.38 286,719C287.17,716.62 288,714.67 289,712C290,709.33 290.98,705.72 292,703C293.02,700.28 293.93,698.37 295.1,695.7C296.27,693.03 297.68,689.45 299,687C300.32,684.55 301.28,682.65 303,681C304.72,679.35 307.3,677.1 309.3,677.1C311.3,677.1 313.38,679.35 315,681C316.62,682.65 317.57,684.55 319,687C320.43,689.45 322.1,692.87 323.6,695.7C325.1,698.53 326.18,700.35 328,704C329.82,707.65 332.5,713.52 334.5,717.6C336.5,721.68 338.58,725.93 340,728.5C341.42,731.07 335,732.25 343,733C351,733.75 380.5,721 388,733C395.5,745 447.83,793 388,805C328.17,817 88.83,816.67 29,805C-30.83,793.33 21.5,746.67 29,735Z" fill="#ffffff" filter="url(#f6_9)"/>
<path d="M74,738C68.5,736 76.67,730.33 78,726C79.33,721.67 80.67,716.67 82,712C83.33,707.33 84.75,701.67 86,698C87.25,694.33 88.33,691.92 89.5,690C90.67,688.08 91.83,686.5 93,686.5C94.17,686.5 95.33,688.08 96.5,690C97.67,691.92 98.75,694.33 100,698C101.25,701.67 102.67,707.33 104,712C105.33,716.67 106.83,721.67 108,726C109.17,730.33 116.67,736 111,738C105.33,740 79.5,740 74,738Z" fill="#ffffff" filter="url(#f3p5_0)" opacity="0.85"/>
<path d="M120,738C108.33,735.33 123.67,727.33 126,722C128.33,716.67 131.33,711.33 134,706C136.67,700.67 139.33,695.67 142,690C144.67,684.33 147.33,677.17 150,672C152.67,666.83 155.33,662.17 158,659C160.67,655.83 163.33,653.83 166,653C168.67,652.17 171.33,653.33 174,654C176.67,654.67 179,654.33 182,657C185,659.67 189.67,656.5 192,670C194.33,683.5 208,726.67 196,738C184,749.33 131.67,740.67 120,738Z" fill="#ffffff" filter="url(#f4_0)" opacity="0.6"/>
<path d="M74,738C78.33,733.83 90.67,735.17 100,735C109.33,734.83 120,736.5 130,737C140,737.5 148.33,738.17 160,738C171.67,737.83 185,736 200,736C215,736 233.33,737.83 250,738C266.67,738.17 284.5,737.17 300,737C315.5,736.83 335.83,733.17 343,737C350.17,740.83 387.83,756.17 343,760C298.17,763.83 118.83,763.67 74,760C29.17,756.33 69.67,742.17 74,738Z" fill="#ffd8d8" filter="url(#f4_0)"/>
<path d="M74,747C118.83,744.83 298.17,744.83 343,747C387.83,749.17 387.83,757.83 343,760C298.17,762.17 118.83,762.17 74,760C29.17,757.83 29.17,749.17 74,747Z" fill="#ffcaca" filter="url(#f4_0)" opacity="0.7"/>
<path d="M196,664C196.83,647.33 201,659.33 203,660C205,660.67 206.33,664 208,668C209.67,672 211.33,678 213,684C214.67,690 216.5,697.33 218,704C219.5,710.67 220.83,714.67 222,724C223.17,733.33 229,754 225,760C221,766 202.83,776 198,760C193.17,744 195.17,680.67 196,664Z" fill="#ffdada" filter="url(#f5_0)" opacity="0.6"/>
<path d="M228,730C229.67,722 234.67,716.17 238,712C241.33,707.83 245.17,705 248,705C250.83,705 252.33,708.17 255,712C257.67,715.83 260.67,724.17 264,728C267.33,731.83 270.67,733 275,735C279.33,737 286.67,735.83 290,740C293.33,744.17 305.33,756.67 295,760C284.67,763.33 239.17,765 228,760C216.83,755 226.33,738 228,730Z" fill="#ffc0c0" filter="url(#f5_0)" opacity="0.85"/>
<path d="M226,760C227.17,757.5 230.67,750.17 233,745C235.33,739.83 237.5,734 240,729C242.5,724 245.45,719.45 248,715C250.55,710.55 254.08,704.42 255.3,702.3" fill="none" stroke="#ff4040" stroke-width="5" stroke-linecap="round" stroke-linejoin="round" filter="url(#f2p5_0)" opacity="0.75"/>
<path d="M255.3,702.3C256.42,705.58 260.22,717.38 262,722C263.78,726.62 264.33,728.17 266,730C267.67,731.83 268.83,732.33 272,733C275.17,733.67 281,733.17 285,734C289,734.83 294.17,737.33 296,738" fill="none" stroke="#ff5050" stroke-width="4" stroke-linecap="round" stroke-linejoin="round" filter="url(#f2p2_0)" opacity="0.7"/>
<path d="M160,740C160.33,741.67 161.17,746.67 162,750C162.83,753.33 164.5,758.33 165,760" fill="none" stroke="#ff9090" stroke-width="5" stroke-linecap="round" stroke-linejoin="round" filter="url(#f3_0)" opacity="0.5"/>
<path d="M158.9,523.5C159.58,526.25 161.65,534.42 163,540C164.35,545.58 165.67,551.33 167,557C168.33,562.67 169.58,568.17 171,574C172.42,579.83 174.08,586.33 175.5,592C176.92,597.67 178.25,602.83 179.5,608C180.75,613.17 181.93,617.9 183,623C184.07,628.1 185.32,634.43 185.9,638.6C186.48,642.77 186.4,646.43 186.5,648" fill="none" stroke="#ffffff" stroke-width="4" stroke-linecap="round" stroke-linejoin="round" filter="url(#f1p2_0)" opacity="0.7"/>
<path d="M158.9,523.5C159.58,526.25 161.65,534.42 163,540C164.35,545.58 165.67,551.33 167,557C168.33,562.67 169.58,568.17 171,574C172.42,579.83 174.08,586.33 175.5,592C176.92,597.67 178.25,602.83 179.5,608C180.75,613.17 181.93,617.9 183,623C184.07,628.1 185.32,634.43 185.9,638.6C186.48,642.77 186.4,646.43 186.5,648" fill="none" stroke="#ff3030" stroke-width="1.4" stroke-linecap="round" stroke-linejoin="round" filter="url(#f0p3_0)" stroke-dasharray="2.2 1.6"/>
<path d="M186.5,648C187.05,646.43 188.55,643.27 189.8,638.6C191.05,633.93 192.63,626.77 194,620C195.37,613.23 196.78,605.17 198,598C199.22,590.83 200.22,582.33 201.3,577C202.38,571.67 203.47,568.8 204.5,566C205.53,563.2 206.58,561.78 207.5,560.2C208.42,558.62 209.08,557.42 210,556.5C210.92,555.58 211.83,554.7 213,554.7C214.17,554.7 215.72,555.58 217,556.5C218.28,557.42 219.53,558.85 220.7,560.2C221.87,561.55 223.45,563.87 224,564.6" fill="none" stroke="#ffffff" stroke-width="5" stroke-linecap="round" stroke-linejoin="round" filter="url(#f1p5_0)" opacity="0.6"/>
<path d="M186.5,648C187.05,646.43 188.55,643.27 189.8,638.6C191.05,633.93 192.63,626.77 194,620C195.37,613.23 196.78,605.17 198,598C199.22,590.83 200.22,582.33 201.3,577C202.38,571.67 203.47,568.8 204.5,566C205.53,563.2 206.58,561.78 207.5,560.2C208.42,558.62 209.08,557.42 210,556.5C210.92,555.58 211.83,554.7 213,554.7C214.17,554.7 215.72,555.58 217,556.5C218.28,557.42 219.53,558.85 220.7,560.2C221.87,561.55 223.45,563.87 224,564.6" fill="none" stroke="#ff2626" stroke-width="1.4" stroke-linecap="round" stroke-linejoin="round" filter="url(#f0p3_0)"/>
<path d="M243,647C243.83,650.83 246.5,663.17 248,670C249.5,676.83 250.78,682.62 252,688C253.22,693.38 254.75,699.92 255.3,702.3" fill="none" stroke="#ff5050" stroke-width="1.2" stroke-linecap="round" stroke-linejoin="round" filter="url(#f0p5_0)" opacity="0.45"/>
<path d="M220,523C220.67,526.67 222.67,538 224,545C225.33,552 226.67,557.5 228,565C229.33,572.5 230.83,582.5 232,590C233.17,597.5 234.5,606.67 235,610" fill="none" stroke="#ffa0a0" stroke-width="5" stroke-linecap="round" stroke-linejoin="round" filter="url(#f3_0)" opacity="0.6"/>
<path d="M204,566C204.5,564.83 206,560.75 207,559C208,557.25 209,556.25 210,555.5C211,554.75 211.83,554.42 213,554.5C214.17,554.58 215.67,555.08 217,556C218.33,556.92 219.75,558.33 221,560C222.25,561.67 223.92,565 224.5,566" fill="none" stroke="#ffffff" stroke-width="8" stroke-linecap="round" stroke-linejoin="round" filter="url(#f3_0)" opacity="0.5"/>
<path d="M204,566C204.5,564.83 206,560.75 207,559C208,557.25 209,556.25 210,555.5C211,554.75 211.83,554.42 213,554.5C214.17,554.58 215.67,555.08 217,556C218.33,556.92 219.75,558.33 221,560C222.25,561.67 223.92,565 224.5,566" fill="none" stroke="#f42020" stroke-width="4" stroke-linecap="round" stroke-linejoin="round" filter="url(#f1p4_0)" opacity="0.9"/>
<path d="M175,664C175.75,663.67 178.25,663 179.5,662C180.75,661 181.33,660.33 182.5,658C183.67,655.67 185.25,648.5 186.5,648C187.75,647.5 188.92,653.33 190,655C191.08,656.67 191.58,657.33 193,658C194.42,658.67 196.83,659.33 198.5,659C200.17,658.67 202.25,656.5 203,656" fill="none" stroke="#ffffff" stroke-width="5" stroke-linecap="round" stroke-linejoin="round" filter="url(#f1p5_0)" opacity="0.6"/>
<path d="M175,664C175.75,663.67 178.25,663 179.5,662C180.75,661 181.33,660.33 182.5,658C183.67,655.67 185.25,648.5 186.5,648C187.75,647.5 188.92,653.33 190,655C191.08,656.67 191.58,657.33 193,658C194.42,658.67 196.83,659.33 198.5,659C200.17,658.67 202.25,656.5 203,656" fill="none" stroke="#ff3030" stroke-width="1.8" stroke-linecap="round" stroke-linejoin="round" filter="url(#f0p5_0)" opacity="0.9"/>
</g>
<line x1="187" y1="523.5" x2="187" y2="755.8" stroke="#2a2a2a" stroke-width="1.1"/>
<line x1="255.5" y1="523.5" x2="255.5" y2="755.8" stroke="#2a2a2a" stroke-width="1.1"/>
<line x1="78.5" y1="546.73" x2="84" y2="546.73" stroke="#333" stroke-width="1.3"/>
<line x1="333.6" y1="546.73" x2="339.1" y2="546.73" stroke="#333" stroke-width="1.3"/>
<line x1="78.5" y1="569.96" x2="84" y2="569.96" stroke="#333" stroke-width="1.3"/>
<line x1="333.6" y1="569.96" x2="339.1" y2="569.96" stroke="#333" stroke-width="1.3"/>
<line x1="78.5" y1="593.19" x2="84" y2="593.19" stroke="#333" stroke-width="1.3"/>
<line x1="333.6" y1="593.19" x2="339.1" y2="593.19" stroke="#333" stroke-width="1.3"/>
<line x1="78.5" y1="616.42" x2="84" y2="616.42" stroke="#333" stroke-width="1.3"/>
<line x1="333.6" y1="616.42" x2="339.1" y2="616.42" stroke="#333" stroke-width="1.3"/>
<line x1="78.5" y1="639.65" x2="84" y2="639.65" stroke="#333" stroke-width="1.3"/>
<line x1="333.6" y1="639.65" x2="339.1" y2="639.65" stroke="#333" stroke-width="1.3"/>
<line x1="78.5" y1="662.88" x2="84" y2="662.88" stroke="#333" stroke-width="1.3"/>
<line x1="333.6" y1="662.88" x2="339.1" y2="662.88" stroke="#333" stroke-width="1.3"/>
<line x1="78.5" y1="686.11" x2="84" y2="686.11" stroke="#333" stroke-width="1.3"/>
<line x1="333.6" y1="686.11" x2="339.1" y2="686.11" stroke="#333" stroke-width="1.3"/>
<line x1="78.5" y1="709.34" x2="84" y2="709.34" stroke="#333" stroke-width="1.3"/>
<line x1="333.6" y1="709.34" x2="339.1" y2="709.34" stroke="#333" stroke-width="1.3"/>
<line x1="78.5" y1="732.57" x2="84" y2="732.57" stroke="#333" stroke-width="1.3"/>
<line x1="333.6" y1="732.57" x2="339.1" y2="732.57" stroke="#333" stroke-width="1.3"/>
<rect x="78.5" y="523.5" width="260.6" height="232.3" fill="none" stroke="#555" stroke-width="1.2"/>
<g clip-path="url(#clipf)">
<rect x="376.5" y="522.5" width="262.1" height="233" fill="#3e6aff"/>
<path d="M427,515C423.33,516.25 428.83,518.67 430,522.5C431.17,526.33 432.75,533.08 434,538C435.25,542.92 436.57,548.57 437.5,552C438.43,555.43 438.85,558.6 439.6,558.6C440.35,558.6 440.93,555.43 442,552C443.07,548.57 444.8,542.92 446,538C447.2,533.08 448.2,526.33 449.2,522.5C450.2,518.67 455.7,516.25 452,515C448.3,513.75 430.67,513.75 427,515Z" fill="#ffffff" filter="url(#f20_0)" opacity="0.3"/>
<path d="M427,515C423.33,516.25 428.83,518.67 430,522.5C431.17,526.33 432.75,533.08 434,538C435.25,542.92 436.57,548.57 437.5,552C438.43,555.43 438.85,558.6 439.6,558.6C440.35,558.6 440.93,555.43 442,552C443.07,548.57 444.8,542.92 446,538C447.2,533.08 448.2,526.33 449.2,522.5C450.2,518.67 455.7,516.25 452,515C448.3,513.75 430.67,513.75 427,515Z" fill="#ffffff" filter="url(#f5_0)" opacity="0.8"/>
<path d="M427,515C423.33,516.25 428.83,518.67 430,522.5C431.17,526.33 432.75,533.08 434,538C435.25,542.92 436.57,548.57 437.5,552C438.43,555.43 438.85,558.6 439.6,558.6C440.35,558.6 440.93,555.43 442,552C443.07,548.57 444.8,542.92 446,538C447.2,533.08 448.2,526.33 449.2,522.5C450.2,518.67 455.7,516.25 452,515C448.3,513.75 430.67,513.75 427,515Z" fill="#ffffff" filter="url(#f2_0)"/>
<path d="M427,515C423.33,516.25 428.83,518.67 430,522.5C431.17,526.33 432.75,533.08 434,538C435.25,542.92 436.57,548.57 437.5,552C438.43,555.43 438.85,558.6 439.6,558.6C440.35,558.6 440.93,555.43 442,552C443.07,548.57 444.8,542.92 446,538C447.2,533.08 448.2,526.33 449.2,522.5C450.2,518.67 455.7,516.25 452,515C448.3,513.75 430.67,513.75 427,515Z" fill="#ffffff" filter="url(#f1p5_2p5)"/>
<path d="M427,515C423.33,516.25 428.83,518.67 430,522.5C431.17,526.33 432.75,533.08 434,538C435.25,542.92 436.57,548.57 437.5,552C438.43,555.43 438.85,558.6 439.6,558.6C440.35,558.6 440.93,555.43 442,552C443.07,548.57 444.8,542.92 446,538C447.2,533.08 448.2,526.33 449.2,522.5C450.2,518.67 455.7,516.25 452,515C448.3,513.75 430.67,513.75 427,515Z" fill="#fff0f0" filter="url(#f4_4)"/>
<path d="M455,515C446.25,516.25 457.17,518.33 458.5,522.5C459.83,526.67 461.5,534.25 463,540C464.5,545.75 465.92,551.33 467.5,557C469.08,562.67 470.75,568.17 472.5,574C474.25,579.83 476.42,587.17 478,592C479.58,596.83 480.75,599.87 482,603C483.25,606.13 484.33,611.47 485.5,610.8C486.67,610.13 487.83,603.3 489,599C490.17,594.7 491.33,590.05 492.5,585C493.67,579.95 494.83,573.7 496,568.7C497.17,563.7 498.33,559.67 499.5,555C500.67,550.33 501.92,544.7 503,540.7C504.08,536.7 505.02,533.73 506,531C506.98,528.27 508.07,526.97 508.9,524.3C509.73,521.63 519.98,516.55 511,515C502.02,513.45 463.75,513.75 455,515Z" fill="#ffffff" filter="url(#f20_0)" opacity="0.35"/>
<path d="M455,515C446.25,516.25 457.17,518.33 458.5,522.5C459.83,526.67 461.5,534.25 463,540C464.5,545.75 465.92,551.33 467.5,557C469.08,562.67 470.75,568.17 472.5,574C474.25,579.83 476.42,587.17 478,592C479.58,596.83 480.75,599.87 482,603C483.25,606.13 484.33,611.47 485.5,610.8C486.67,610.13 487.83,603.3 489,599C490.17,594.7 491.33,590.05 492.5,585C493.67,579.95 494.83,573.7 496,568.7C497.17,563.7 498.33,559.67 499.5,555C500.67,550.33 501.92,544.7 503,540.7C504.08,536.7 505.02,533.73 506,531C506.98,528.27 508.07,526.97 508.9,524.3C509.73,521.63 519.98,516.55 511,515C502.02,513.45 463.75,513.75 455,515Z" fill="#ffffff" filter="url(#f5_0)" opacity="0.8"/>
<path d="M455,515C446.25,516.25 457.17,518.33 458.5,522.5C459.83,526.67 461.5,534.25 463,540C464.5,545.75 465.92,551.33 467.5,557C469.08,562.67 470.75,568.17 472.5,574C474.25,579.83 476.42,587.17 478,592C479.58,596.83 480.75,599.87 482,603C483.25,606.13 484.33,611.47 485.5,610.8C486.67,610.13 487.83,603.3 489,599C490.17,594.7 491.33,590.05 492.5,585C493.67,579.95 494.83,573.7 496,568.7C497.17,563.7 498.33,559.67 499.5,555C500.67,550.33 501.92,544.7 503,540.7C504.08,536.7 505.02,533.73 506,531C506.98,528.27 508.07,526.97 508.9,524.3C509.73,521.63 519.98,516.55 511,515C502.02,513.45 463.75,513.75 455,515Z" fill="#ffffff" filter="url(#f2_0)"/>
<path d="M455,515C446.25,516.25 457.17,518.33 458.5,522.5C459.83,526.67 461.5,534.25 463,540C464.5,545.75 465.92,551.33 467.5,557C469.08,562.67 470.75,568.17 472.5,574C474.25,579.83 476.42,587.17 478,592C479.58,596.83 480.75,599.87 482,603C483.25,606.13 484.33,611.47 485.5,610.8C486.67,610.13 487.83,603.3 489,599C490.17,594.7 491.33,590.05 492.5,585C493.67,579.95 494.83,573.7 496,568.7C497.17,563.7 498.33,559.67 499.5,555C500.67,550.33 501.92,544.7 503,540.7C504.08,536.7 505.02,533.73 506,531C506.98,528.27 508.07,526.97 508.9,524.3C509.73,521.63 519.98,516.55 511,515C502.02,513.45 463.75,513.75 455,515Z" fill="#fff0f0" filter="url(#f1p5_2p5)"/>
<path d="M455,515C446.25,516.25 457.17,518.33 458.5,522.5C459.83,526.67 461.5,534.25 463,540C464.5,545.75 465.92,551.33 467.5,557C469.08,562.67 470.75,568.17 472.5,574C474.25,579.83 476.42,587.17 478,592C479.58,596.83 480.75,599.87 482,603C483.25,606.13 484.33,611.47 485.5,610.8C486.67,610.13 487.83,603.3 489,599C490.17,594.7 491.33,590.05 492.5,585C493.67,579.95 494.83,573.7 496,568.7C497.17,563.7 498.33,559.67 499.5,555C500.67,550.33 501.92,544.7 503,540.7C504.08,536.7 505.02,533.73 506,531C506.98,528.27 508.07,526.97 508.9,524.3C509.73,521.63 519.98,516.55 511,515C502.02,513.45 463.75,513.75 455,515Z" fill="#ffe4e4" filter="url(#f4_7)"/>
<path d="M505,515C496.5,516.5 507.5,521.5 509,524C510.5,526.5 511.83,529.33 514,530C516.17,530.67 518.5,529 522,528C525.5,527 528.67,525.33 535,524C541.33,522.67 555.83,521.5 560,520C564.17,518.5 569.17,515.83 560,515C550.83,514.17 513.5,513.5 505,515Z" fill="#ffc8c8" filter="url(#f3_0)" opacity="0.9"/>
<path d="M510,515C496.4,516.55 511.23,520.13 512.4,524.3C513.57,528.47 515.43,534.55 517,540C518.57,545.45 520.05,551.17 521.8,557C523.55,562.83 525.57,569.17 527.5,575C529.43,580.83 531.48,586.17 533.4,592C535.32,597.83 537.05,604.15 539,610C540.95,615.85 543.43,621.27 545.1,627.1C546.77,632.93 547.83,639.18 549,645C550.17,650.82 551.25,655.5 552.1,662C552.95,668.5 553.37,682.33 554.1,684C554.83,685.67 555.6,676 556.5,672C557.4,668 558.58,664 559.5,660C560.42,656 560.9,653.48 562,648C563.1,642.52 564.77,633.43 566.1,627.1C567.43,620.77 568.43,615.85 570,610C571.57,604.15 573.83,597.83 575.5,592C577.17,586.17 578.45,580.83 580,575C581.55,569.17 583.38,562.83 584.8,557C586.22,551.17 587.33,545.75 588.5,540C589.67,534.25 590.88,526.67 591.8,522.5C592.72,518.33 607.63,516.25 594,515C580.37,513.75 523.6,513.45 510,515Z" fill="#ffffff" filter="url(#f20_0)" opacity="0.4"/>
<path d="M510,515C496.4,516.55 511.23,520.13 512.4,524.3C513.57,528.47 515.43,534.55 517,540C518.57,545.45 520.05,551.17 521.8,557C523.55,562.83 525.57,569.17 527.5,575C529.43,580.83 531.48,586.17 533.4,592C535.32,597.83 537.05,604.15 539,610C540.95,615.85 543.43,621.27 545.1,627.1C546.77,632.93 547.83,639.18 549,645C550.17,650.82 551.25,655.5 552.1,662C552.95,668.5 553.37,682.33 554.1,684C554.83,685.67 555.6,676 556.5,672C557.4,668 558.58,664 559.5,660C560.42,656 560.9,653.48 562,648C563.1,642.52 564.77,633.43 566.1,627.1C567.43,620.77 568.43,615.85 570,610C571.57,604.15 573.83,597.83 575.5,592C577.17,586.17 578.45,580.83 580,575C581.55,569.17 583.38,562.83 584.8,557C586.22,551.17 587.33,545.75 588.5,540C589.67,534.25 590.88,526.67 591.8,522.5C592.72,518.33 607.63,516.25 594,515C580.37,513.75 523.6,513.45 510,515Z" fill="#ffffff" filter="url(#f5_0)" opacity="0.8"/>
<path d="M510,515C496.4,516.55 511.23,520.13 512.4,524.3C513.57,528.47 515.43,534.55 517,540C518.57,545.45 520.05,551.17 521.8,557C523.55,562.83 525.57,569.17 527.5,575C529.43,580.83 531.48,586.17 533.4,592C535.32,597.83 537.05,604.15 539,610C540.95,615.85 543.43,621.27 545.1,627.1C546.77,632.93 547.83,639.18 549,645C550.17,650.82 551.25,655.5 552.1,662C552.95,668.5 553.37,682.33 554.1,684C554.83,685.67 555.6,676 556.5,672C557.4,668 558.58,664 559.5,660C560.42,656 560.9,653.48 562,648C563.1,642.52 564.77,633.43 566.1,627.1C567.43,620.77 568.43,615.85 570,610C571.57,604.15 573.83,597.83 575.5,592C577.17,586.17 578.45,580.83 580,575C581.55,569.17 583.38,562.83 584.8,557C586.22,551.17 587.33,545.75 588.5,540C589.67,534.25 590.88,526.67 591.8,522.5C592.72,518.33 607.63,516.25 594,515C580.37,513.75 523.6,513.45 510,515Z" fill="#ffffff" filter="url(#f2_0)"/>
<path d="M510,515C496.4,516.55 511.23,520.13 512.4,524.3C513.57,528.47 515.43,534.55 517,540C518.57,545.45 520.05,551.17 521.8,557C523.55,562.83 525.57,569.17 527.5,575C529.43,580.83 531.48,586.17 533.4,592C535.32,597.83 537.05,604.15 539,610C540.95,615.85 543.43,621.27 545.1,627.1C546.77,632.93 547.83,639.18 549,645C550.17,650.82 551.25,655.5 552.1,662C552.95,668.5 553.37,682.33 554.1,684C554.83,685.67 555.6,676 556.5,672C557.4,668 558.58,664 559.5,660C560.42,656 560.9,653.48 562,648C563.1,642.52 564.77,633.43 566.1,627.1C567.43,620.77 568.43,615.85 570,610C571.57,604.15 573.83,597.83 575.5,592C577.17,586.17 578.45,580.83 580,575C581.55,569.17 583.38,562.83 584.8,557C586.22,551.17 587.33,545.75 588.5,540C589.67,534.25 590.88,526.67 591.8,522.5C592.72,518.33 607.63,516.25 594,515C580.37,513.75 523.6,513.45 510,515Z" fill="#fff4f4" filter="url(#f1p5_2p5)"/>
<path d="M510,515C496.4,516.55 511.23,520.13 512.4,524.3C513.57,528.47 515.43,534.55 517,540C518.57,545.45 520.05,551.17 521.8,557C523.55,562.83 525.57,569.17 527.5,575C529.43,580.83 531.48,586.17 533.4,592C535.32,597.83 537.05,604.15 539,610C540.95,615.85 543.43,621.27 545.1,627.1C546.77,632.93 547.83,639.18 549,645C550.17,650.82 551.25,655.5 552.1,662C552.95,668.5 553.37,682.33 554.1,684C554.83,685.67 555.6,676 556.5,672C557.4,668 558.58,664 559.5,660C560.42,656 560.9,653.48 562,648C563.1,642.52 564.77,633.43 566.1,627.1C567.43,620.77 568.43,615.85 570,610C571.57,604.15 573.83,597.83 575.5,592C577.17,586.17 578.45,580.83 580,575C581.55,569.17 583.38,562.83 584.8,557C586.22,551.17 587.33,545.75 588.5,540C589.67,534.25 590.88,526.67 591.8,522.5C592.72,518.33 607.63,516.25 594,515C580.37,513.75 523.6,513.45 510,515Z" fill="#ffe2e2" filter="url(#f4_12)"/>
<ellipse cx="468" cy="625" rx="28" ry="32" fill="#ffffff" filter="url(#f10_0)" opacity="0.35"/>
<path d="M327,723.5C334.5,709.92 363.83,724.5 372,723.5C380.17,722.5 374.67,720.17 376,717.5C377.33,714.83 378.67,710.67 380,707.5C381.33,704.33 382.75,701 384,698.5C385.25,696 386.4,694 387.5,692.5C388.6,691 389.52,689.33 390.6,689.5C391.68,689.67 392.93,691.67 394,693.5C395.07,695.33 396.1,698.25 397,700.5C397.9,702.75 398.48,704.67 399.4,707C400.32,709.33 401.53,712.15 402.5,714.5C403.47,716.85 403.97,719.42 405.2,721.1C406.43,722.78 407.95,724.22 409.9,724.6C411.85,724.98 414.38,724.97 416.9,723.4C419.42,721.83 422.08,718.9 425,715.2C427.92,711.5 432.07,705.15 434.4,701.2C436.73,697.25 437.45,694.62 439,691.5C440.55,688.38 442.28,685.42 443.7,682.5C445.12,679.58 446.33,676.58 447.5,674C448.67,671.42 449.53,669.5 450.7,667C451.87,664.5 453.28,661.25 454.5,659C455.72,656.75 456.72,655.2 458,653.5C459.28,651.8 460.87,649.38 462.2,648.8C463.53,648.22 464.7,649.3 466,650C467.3,650.7 468.5,651.58 470,653C471.5,654.42 473.33,656.92 475,658.5C476.67,660.08 478.3,661.38 480,662.5C481.7,663.62 483.53,665.28 485.2,665.2C486.87,665.12 488.53,663.45 490,662C491.47,660.55 492.67,657.92 494,656.5C495.33,655.08 496.67,654.2 498,653.5C499.33,652.8 500.5,651.38 502,652.3C503.5,653.22 505.28,655.88 507,659C508.72,662.12 510.8,666.17 512.3,671C513.8,675.83 514.65,683.28 516,688C517.35,692.72 518.98,696.73 520.4,699.3C521.82,701.87 523.23,703.28 524.5,703.4C525.77,703.52 526.97,701.37 528,700C529.03,698.63 529.7,697.03 530.7,695.2C531.7,693.37 532.82,690.87 534,689C535.18,687.13 536.63,684.33 537.8,684C538.97,683.67 539.97,685.48 541,687C542.03,688.52 543,691.4 544,693.1C545,694.8 546.17,695.55 547,697.2C547.83,698.85 548.17,700.03 549,703C549.83,705.97 551.13,711 552,715C552.87,719 553.2,724.67 554.2,727C555.2,729.33 556.7,729 558,729C559.3,729 560.43,728.03 562,727C563.57,725.97 565.4,724.63 567.4,722.8C569.4,720.97 571.62,718.22 574,716C576.38,713.78 579.2,712.33 581.7,709.5C584.2,706.67 586.62,702.42 589,699C591.38,695.58 593.83,692.17 596,689C598.17,685.83 599.95,682.2 602,680C604.05,677.8 606.13,675.63 608.3,675.8C610.47,675.97 612.62,678.45 615,681C617.38,683.55 620.43,688.1 622.6,691.1C624.77,694.1 626.3,696.28 628,699C629.7,701.72 630.8,703.95 632.8,707.4C634.8,710.85 638.3,716.77 640,719.7C641.7,722.63 635,724.12 643,725C651,725.88 680.5,711.67 688,725C695.5,738.33 748.17,791.67 688,805C627.83,818.33 387.17,818.58 327,805C266.83,791.42 319.5,737.08 327,723.5Z" fill="#ffffff" filter="url(#f13_m16)" opacity="0.55"/>
<path d="M327,723.5C334.5,709.92 363.83,724.5 372,723.5C380.17,722.5 374.67,720.17 376,717.5C377.33,714.83 378.67,710.67 380,707.5C381.33,704.33 382.75,701 384,698.5C385.25,696 386.4,694 387.5,692.5C388.6,691 389.52,689.33 390.6,689.5C391.68,689.67 392.93,691.67 394,693.5C395.07,695.33 396.1,698.25 397,700.5C397.9,702.75 398.48,704.67 399.4,707C400.32,709.33 401.53,712.15 402.5,714.5C403.47,716.85 403.97,719.42 405.2,721.1C406.43,722.78 407.95,724.22 409.9,724.6C411.85,724.98 414.38,724.97 416.9,723.4C419.42,721.83 422.08,718.9 425,715.2C427.92,711.5 432.07,705.15 434.4,701.2C436.73,697.25 437.45,694.62 439,691.5C440.55,688.38 442.28,685.42 443.7,682.5C445.12,679.58 446.33,676.58 447.5,674C448.67,671.42 449.53,669.5 450.7,667C451.87,664.5 453.28,661.25 454.5,659C455.72,656.75 456.72,655.2 458,653.5C459.28,651.8 460.87,649.38 462.2,648.8C463.53,648.22 464.7,649.3 466,650C467.3,650.7 468.5,651.58 470,653C471.5,654.42 473.33,656.92 475,658.5C476.67,660.08 478.3,661.38 480,662.5C481.7,663.62 483.53,665.28 485.2,665.2C486.87,665.12 488.53,663.45 490,662C491.47,660.55 492.67,657.92 494,656.5C495.33,655.08 496.67,654.2 498,653.5C499.33,652.8 500.5,651.38 502,652.3C503.5,653.22 505.28,655.88 507,659C508.72,662.12 510.8,666.17 512.3,671C513.8,675.83 514.65,683.28 516,688C517.35,692.72 518.98,696.73 520.4,699.3C521.82,701.87 523.23,703.28 524.5,703.4C525.77,703.52 526.97,701.37 528,700C529.03,698.63 529.7,697.03 530.7,695.2C531.7,693.37 532.82,690.87 534,689C535.18,687.13 536.63,684.33 537.8,684C538.97,683.67 539.97,685.48 541,687C542.03,688.52 543,691.4 544,693.1C545,694.8 546.17,695.55 547,697.2C547.83,698.85 548.17,700.03 549,703C549.83,705.97 551.13,711 552,715C552.87,719 553.2,724.67 554.2,727C555.2,729.33 556.7,729 558,729C559.3,729 560.43,728.03 562,727C563.57,725.97 565.4,724.63 567.4,722.8C569.4,720.97 571.62,718.22 574,716C576.38,713.78 579.2,712.33 581.7,709.5C584.2,706.67 586.62,702.42 589,699C591.38,695.58 593.83,692.17 596,689C598.17,685.83 599.95,682.2 602,680C604.05,677.8 606.13,675.63 608.3,675.8C610.47,675.97 612.62,678.45 615,681C617.38,683.55 620.43,688.1 622.6,691.1C624.77,694.1 626.3,696.28 628,699C629.7,701.72 630.8,703.95 632.8,707.4C634.8,710.85 638.3,716.77 640,719.7C641.7,722.63 635,724.12 643,725C651,725.88 680.5,711.67 688,725C695.5,738.33 748.17,791.67 688,805C627.83,818.33 387.17,818.58 327,805C266.83,791.42 319.5,737.08 327,723.5Z" fill="#ffffff" filter="url(#f5_m6)"/>
<path d="M327,723.5C334.5,709.92 363.83,724.5 372,723.5C380.17,722.5 374.67,720.17 376,717.5C377.33,714.83 378.67,710.67 380,707.5C381.33,704.33 382.75,701 384,698.5C385.25,696 386.4,694 387.5,692.5C388.6,691 389.52,689.33 390.6,689.5C391.68,689.67 392.93,691.67 394,693.5C395.07,695.33 396.1,698.25 397,700.5C397.9,702.75 398.48,704.67 399.4,707C400.32,709.33 401.53,712.15 402.5,714.5C403.47,716.85 403.97,719.42 405.2,721.1C406.43,722.78 407.95,724.22 409.9,724.6C411.85,724.98 414.38,724.97 416.9,723.4C419.42,721.83 422.08,718.9 425,715.2C427.92,711.5 432.07,705.15 434.4,701.2C436.73,697.25 437.45,694.62 439,691.5C440.55,688.38 442.28,685.42 443.7,682.5C445.12,679.58 446.33,676.58 447.5,674C448.67,671.42 449.53,669.5 450.7,667C451.87,664.5 453.28,661.25 454.5,659C455.72,656.75 456.72,655.2 458,653.5C459.28,651.8 460.87,649.38 462.2,648.8C463.53,648.22 464.7,649.3 466,650C467.3,650.7 468.5,651.58 470,653C471.5,654.42 473.33,656.92 475,658.5C476.67,660.08 478.3,661.38 480,662.5C481.7,663.62 483.53,665.28 485.2,665.2C486.87,665.12 488.53,663.45 490,662C491.47,660.55 492.67,657.92 494,656.5C495.33,655.08 496.67,654.2 498,653.5C499.33,652.8 500.5,651.38 502,652.3C503.5,653.22 505.28,655.88 507,659C508.72,662.12 510.8,666.17 512.3,671C513.8,675.83 514.65,683.28 516,688C517.35,692.72 518.98,696.73 520.4,699.3C521.82,701.87 523.23,703.28 524.5,703.4C525.77,703.52 526.97,701.37 528,700C529.03,698.63 529.7,697.03 530.7,695.2C531.7,693.37 532.82,690.87 534,689C535.18,687.13 536.63,684.33 537.8,684C538.97,683.67 539.97,685.48 541,687C542.03,688.52 543,691.4 544,693.1C545,694.8 546.17,695.55 547,697.2C547.83,698.85 548.17,700.03 549,703C549.83,705.97 551.13,711 552,715C552.87,719 553.2,724.67 554.2,727C555.2,729.33 556.7,729 558,729C559.3,729 560.43,728.03 562,727C563.57,725.97 565.4,724.63 567.4,722.8C569.4,720.97 571.62,718.22 574,716C576.38,713.78 579.2,712.33 581.7,709.5C584.2,706.67 586.62,702.42 589,699C591.38,695.58 593.83,692.17 596,689C598.17,685.83 599.95,682.2 602,680C604.05,677.8 606.13,675.63 608.3,675.8C610.47,675.97 612.62,678.45 615,681C617.38,683.55 620.43,688.1 622.6,691.1C624.77,694.1 626.3,696.28 628,699C629.7,701.72 630.8,703.95 632.8,707.4C634.8,710.85 638.3,716.77 640,719.7C641.7,722.63 635,724.12 643,725C651,725.88 680.5,711.67 688,725C695.5,738.33 748.17,791.67 688,805C627.83,818.33 387.17,818.58 327,805C266.83,791.42 319.5,737.08 327,723.5Z" fill="#ffc0c0" filter="url(#f2_0)"/>
<path d="M327,723.5C334.5,709.92 363.83,724.5 372,723.5C380.17,722.5 374.67,720.17 376,717.5C377.33,714.83 378.67,710.67 380,707.5C381.33,704.33 382.75,701 384,698.5C385.25,696 386.4,694 387.5,692.5C388.6,691 389.52,689.33 390.6,689.5C391.68,689.67 392.93,691.67 394,693.5C395.07,695.33 396.1,698.25 397,700.5C397.9,702.75 398.48,704.67 399.4,707C400.32,709.33 401.53,712.15 402.5,714.5C403.47,716.85 403.97,719.42 405.2,721.1C406.43,722.78 407.95,724.22 409.9,724.6C411.85,724.98 414.38,724.97 416.9,723.4C419.42,721.83 422.08,718.9 425,715.2C427.92,711.5 432.07,705.15 434.4,701.2C436.73,697.25 437.45,694.62 439,691.5C440.55,688.38 442.28,685.42 443.7,682.5C445.12,679.58 446.33,676.58 447.5,674C448.67,671.42 449.53,669.5 450.7,667C451.87,664.5 453.28,661.25 454.5,659C455.72,656.75 456.72,655.2 458,653.5C459.28,651.8 460.87,649.38 462.2,648.8C463.53,648.22 464.7,649.3 466,650C467.3,650.7 468.5,651.58 470,653C471.5,654.42 473.33,656.92 475,658.5C476.67,660.08 478.3,661.38 480,662.5C481.7,663.62 483.53,665.28 485.2,665.2C486.87,665.12 488.53,663.45 490,662C491.47,660.55 492.67,657.92 494,656.5C495.33,655.08 496.67,654.2 498,653.5C499.33,652.8 500.5,651.38 502,652.3C503.5,653.22 505.28,655.88 507,659C508.72,662.12 510.8,666.17 512.3,671C513.8,675.83 514.65,683.28 516,688C517.35,692.72 518.98,696.73 520.4,699.3C521.82,701.87 523.23,703.28 524.5,703.4C525.77,703.52 526.97,701.37 528,700C529.03,698.63 529.7,697.03 530.7,695.2C531.7,693.37 532.82,690.87 534,689C535.18,687.13 536.63,684.33 537.8,684C538.97,683.67 539.97,685.48 541,687C542.03,688.52 543,691.4 544,693.1C545,694.8 546.17,695.55 547,697.2C547.83,698.85 548.17,700.03 549,703C549.83,705.97 551.13,711 552,715C552.87,719 553.2,724.67 554.2,727C555.2,729.33 556.7,729 558,729C559.3,729 560.43,728.03 562,727C563.57,725.97 565.4,724.63 567.4,722.8C569.4,720.97 571.62,718.22 574,716C576.38,713.78 579.2,712.33 581.7,709.5C584.2,706.67 586.62,702.42 589,699C591.38,695.58 593.83,692.17 596,689C598.17,685.83 599.95,682.2 602,680C604.05,677.8 606.13,675.63 608.3,675.8C610.47,675.97 612.62,678.45 615,681C617.38,683.55 620.43,688.1 622.6,691.1C624.77,694.1 626.3,696.28 628,699C629.7,701.72 630.8,703.95 632.8,707.4C634.8,710.85 638.3,716.77 640,719.7C641.7,722.63 635,724.12 643,725C651,725.88 680.5,711.67 688,725C695.5,738.33 748.17,791.67 688,805C627.83,818.33 387.17,818.58 327,805C266.83,791.42 319.5,737.08 327,723.5Z" fill="#ffbcbc" filter="url(#f1p5_1p5)"/>
<path d="M327,723.5C334.5,709.92 363.83,724.5 372,723.5C380.17,722.5 374.67,720.17 376,717.5C377.33,714.83 378.67,710.67 380,707.5C381.33,704.33 382.75,701 384,698.5C385.25,696 386.4,694 387.5,692.5C388.6,691 389.52,689.33 390.6,689.5C391.68,689.67 392.93,691.67 394,693.5C395.07,695.33 396.1,698.25 397,700.5C397.9,702.75 398.48,704.67 399.4,707C400.32,709.33 401.53,712.15 402.5,714.5C403.47,716.85 403.97,719.42 405.2,721.1C406.43,722.78 407.95,724.22 409.9,724.6C411.85,724.98 414.38,724.97 416.9,723.4C419.42,721.83 422.08,718.9 425,715.2C427.92,711.5 432.07,705.15 434.4,701.2C436.73,697.25 437.45,694.62 439,691.5C440.55,688.38 442.28,685.42 443.7,682.5C445.12,679.58 446.33,676.58 447.5,674C448.67,671.42 449.53,669.5 450.7,667C451.87,664.5 453.28,661.25 454.5,659C455.72,656.75 456.72,655.2 458,653.5C459.28,651.8 460.87,649.38 462.2,648.8C463.53,648.22 464.7,649.3 466,650C467.3,650.7 468.5,651.58 470,653C471.5,654.42 473.33,656.92 475,658.5C476.67,660.08 478.3,661.38 480,662.5C481.7,663.62 483.53,665.28 485.2,665.2C486.87,665.12 488.53,663.45 490,662C491.47,660.55 492.67,657.92 494,656.5C495.33,655.08 496.67,654.2 498,653.5C499.33,652.8 500.5,651.38 502,652.3C503.5,653.22 505.28,655.88 507,659C508.72,662.12 510.8,666.17 512.3,671C513.8,675.83 514.65,683.28 516,688C517.35,692.72 518.98,696.73 520.4,699.3C521.82,701.87 523.23,703.28 524.5,703.4C525.77,703.52 526.97,701.37 528,700C529.03,698.63 529.7,697.03 530.7,695.2C531.7,693.37 532.82,690.87 534,689C535.18,687.13 536.63,684.33 537.8,684C538.97,683.67 539.97,685.48 541,687C542.03,688.52 543,691.4 544,693.1C545,694.8 546.17,695.55 547,697.2C547.83,698.85 548.17,700.03 549,703C549.83,705.97 551.13,711 552,715C552.87,719 553.2,724.67 554.2,727C555.2,729.33 556.7,729 558,729C559.3,729 560.43,728.03 562,727C563.57,725.97 565.4,724.63 567.4,722.8C569.4,720.97 571.62,718.22 574,716C576.38,713.78 579.2,712.33 581.7,709.5C584.2,706.67 586.62,702.42 589,699C591.38,695.58 593.83,692.17 596,689C598.17,685.83 599.95,682.2 602,680C604.05,677.8 606.13,675.63 608.3,675.8C610.47,675.97 612.62,678.45 615,681C617.38,683.55 620.43,688.1 622.6,691.1C624.77,694.1 626.3,696.28 628,699C629.7,701.72 630.8,703.95 632.8,707.4C634.8,710.85 638.3,716.77 640,719.7C641.7,722.63 635,724.12 643,725C651,725.88 680.5,711.67 688,725C695.5,738.33 748.17,791.67 688,805C627.83,818.33 387.17,818.58 327,805C266.83,791.42 319.5,737.08 327,723.5Z" fill="#ffaaaa" filter="url(#f4_9)"/>
<path d="M327,723.5C334.5,709.92 363.83,724.5 372,723.5C380.17,722.5 374.67,720.17 376,717.5C377.33,714.83 378.67,710.67 380,707.5C381.33,704.33 382.75,701 384,698.5C385.25,696 386.4,694 387.5,692.5C388.6,691 389.52,689.33 390.6,689.5C391.68,689.67 392.93,691.67 394,693.5C395.07,695.33 396.1,698.25 397,700.5C397.9,702.75 398.48,704.67 399.4,707C400.32,709.33 401.53,712.15 402.5,714.5C403.47,716.85 403.97,719.42 405.2,721.1C406.43,722.78 407.95,724.22 409.9,724.6C411.85,724.98 414.38,724.97 416.9,723.4C419.42,721.83 422.08,718.9 425,715.2C427.92,711.5 432.07,705.15 434.4,701.2C436.73,697.25 437.45,694.62 439,691.5C440.55,688.38 442.28,685.42 443.7,682.5C445.12,679.58 446.33,676.58 447.5,674C448.67,671.42 449.53,669.5 450.7,667C451.87,664.5 453.28,661.25 454.5,659C455.72,656.75 456.72,655.2 458,653.5C459.28,651.8 460.87,649.38 462.2,648.8C463.53,648.22 464.7,649.3 466,650C467.3,650.7 468.5,651.58 470,653C471.5,654.42 473.33,656.92 475,658.5C476.67,660.08 478.3,661.38 480,662.5C481.7,663.62 483.53,665.28 485.2,665.2C486.87,665.12 488.53,663.45 490,662C491.47,660.55 492.67,657.92 494,656.5C495.33,655.08 496.67,654.2 498,653.5C499.33,652.8 500.5,651.38 502,652.3C503.5,653.22 505.28,655.88 507,659C508.72,662.12 510.8,666.17 512.3,671C513.8,675.83 514.65,683.28 516,688C517.35,692.72 518.98,696.73 520.4,699.3C521.82,701.87 523.23,703.28 524.5,703.4C525.77,703.52 526.97,701.37 528,700C529.03,698.63 529.7,697.03 530.7,695.2C531.7,693.37 532.82,690.87 534,689C535.18,687.13 536.63,684.33 537.8,684C538.97,683.67 539.97,685.48 541,687C542.03,688.52 543,691.4 544,693.1C545,694.8 546.17,695.55 547,697.2C547.83,698.85 548.17,700.03 549,703C549.83,705.97 551.13,711 552,715C552.87,719 553.2,724.67 554.2,727C555.2,729.33 556.7,729 558,729C559.3,729 560.43,728.03 562,727C563.57,725.97 565.4,724.63 567.4,722.8C569.4,720.97 571.62,718.22 574,716C576.38,713.78 579.2,712.33 581.7,709.5C584.2,706.67 586.62,702.42 589,699C591.38,695.58 593.83,692.17 596,689C598.17,685.83 599.95,682.2 602,680C604.05,677.8 606.13,675.63 608.3,675.8C610.47,675.97 612.62,678.45 615,681C617.38,683.55 620.43,688.1 622.6,691.1C624.77,694.1 626.3,696.28 628,699C629.7,701.72 630.8,703.95 632.8,707.4C634.8,710.85 638.3,716.77 640,719.7C641.7,722.63 635,724.12 643,725C651,725.88 680.5,711.67 688,725C695.5,738.33 748.17,791.67 688,805C627.83,818.33 387.17,818.58 327,805C266.83,791.42 319.5,737.08 327,723.5Z" fill="#ff9c9c" filter="url(#f8_22)"/>
<path d="M488,668C490.33,651.67 496.67,660 500,662C503.33,664 506,670.33 508,680C510,689.67 512,706.67 512,720C512,733.33 512.33,753.33 508,760C503.67,766.67 489.33,775.33 486,760C482.67,744.67 485.67,684.33 488,668Z" fill="#ffd8d8" filter="url(#f6_0)" opacity="0.8"/>
<path d="M376,745C376.67,737 381.5,719.5 384,712C386.5,704.5 388.67,699.5 391,700C393.33,700.5 395.83,707.5 398,715C400.17,722.5 404,737.5 404,745C404,752.5 402,757.5 398,760C394,762.5 383.67,762.5 380,760C376.33,757.5 375.33,753 376,745Z" fill="#ff9c9c" filter="url(#f4_0)" opacity="0.5"/>
<path d="M549,700C549.83,694.67 552.33,688 554,688C555.67,688 557.17,694.67 559,700C560.83,705.33 564.83,715.33 565,720C565.17,724.67 561.83,726.33 560,728C558.17,729.67 555.83,731.33 554,730C552.17,728.67 549.83,725 549,720C548.17,715 548.17,705.33 549,700Z" fill="#dfe6ff" filter="url(#f2_0)"/>
<path d="M572,757C569.17,753.83 573.33,742.67 575,738C576.67,733.33 579.5,729.83 582,729C584.5,728.17 588,729.83 590,733C592,736.17 593.67,744 594,748C594.33,752 595.67,755.5 592,757C588.33,758.5 574.83,760.17 572,757Z" fill="#ffffff" filter="url(#f3_0)" opacity="0.8"/>
<path d="M468,647C468.33,645 472,642.83 474,640C476,637.17 478,633 480,630C482,627 484,623.17 486,622C488,620.83 490,621.67 492,623C494,624.33 496.67,627 498,630C499.33,633 500.33,637.5 500,641C499.67,644.5 497.67,648.17 496,651C494.33,653.83 491.83,656.33 490,658C488.17,659.67 487,661.17 485,661C483,660.83 480.17,658.5 478,657C475.83,655.5 473.67,653.67 472,652C470.33,650.33 467.67,649 468,647Z" fill="#86a0fb" filter="url(#f2p5_0)" opacity="0.85"/>
<path d="M533,688C534.17,689 537.67,691.17 540,694C542.33,696.83 545.17,700.67 547,705C548.83,709.33 549.83,715.33 551,720C552.17,724.67 553.5,730.83 554,733" fill="none" stroke="#ff4a4a" stroke-width="5" stroke-linecap="round" stroke-linejoin="round" filter="url(#f2p2_0)" opacity="0.6"/>
<path d="M531,710C530.17,713.33 527.5,722.17 526,730C524.5,737.83 522.67,752.5 522,757" fill="none" stroke="#ff6a6a" stroke-width="4" stroke-linecap="round" stroke-linejoin="round" filter="url(#f2p5_0)" opacity="0.5"/>
<path d="M420,735C421.67,736.67 427.33,741.33 430,745C432.67,748.67 435,755 436,757" fill="none" stroke="#ff7a7a" stroke-width="4" stroke-linecap="round" stroke-linejoin="round" filter="url(#f2p5_0)" opacity="0.4"/>
<path d="M372,719.5C372.67,718.5 374.67,716.17 376,713.5C377.33,710.83 378.67,706.67 380,703.5C381.33,700.33 382.75,697 384,694.5C385.25,692 386.4,690 387.5,688.5C388.6,687 389.52,685.33 390.6,685.5C391.68,685.67 392.93,687.67 394,689.5C395.07,691.33 396.1,694.25 397,696.5C397.9,698.75 398.48,700.67 399.4,703C400.32,705.33 401.53,708.15 402.5,710.5C403.47,712.85 403.97,715.42 405.2,717.1C406.43,718.78 407.95,720.22 409.9,720.6C411.85,720.98 414.38,720.97 416.9,719.4C419.42,717.83 422.08,714.9 425,711.2C427.92,707.5 432.07,701.15 434.4,697.2C436.73,693.25 437.45,690.62 439,687.5C440.55,684.38 442.28,681.42 443.7,678.5C445.12,675.58 446.33,672.58 447.5,670C448.67,667.42 449.53,665.5 450.7,663C451.87,660.5 453.28,657.25 454.5,655C455.72,652.75 456.72,651.2 458,649.5C459.28,647.8 460.78,646.38 462.2,644.8C463.62,643.22 465.02,641.7 466.5,640C467.98,638.3 469.52,636.68 471.1,634.6C472.68,632.52 474.5,629.85 476,627.5C477.5,625.15 478.57,623.58 480.1,620.5C481.63,617.42 484.35,610.92 485.2,609" fill="none" stroke="#ffffff" stroke-width="4" stroke-linecap="round" stroke-linejoin="round" filter="url(#f1p6_0)" opacity="0.85"/>
<path d="M372,722C372.67,721 374.67,718.67 376,716C377.33,713.33 378.67,709.17 380,706C381.33,702.83 382.75,699.5 384,697C385.25,694.5 386.4,692.5 387.5,691C388.6,689.5 389.52,687.83 390.6,688C391.68,688.17 392.93,690.17 394,692C395.07,693.83 396.1,696.75 397,699C397.9,701.25 398.48,703.17 399.4,705.5C400.32,707.83 401.53,710.65 402.5,713C403.47,715.35 403.97,717.92 405.2,719.6C406.43,721.28 407.95,722.72 409.9,723.1C411.85,723.48 414.38,723.47 416.9,721.9C419.42,720.33 422.08,717.4 425,713.7C427.92,710 432.07,703.65 434.4,699.7C436.73,695.75 437.45,693.12 439,690C440.55,686.88 442.28,683.92 443.7,681C445.12,678.08 446.33,675.08 447.5,672.5C448.67,669.92 449.53,668 450.7,665.5C451.87,663 453.28,659.75 454.5,657.5C455.72,655.25 456.72,653.7 458,652C459.28,650.3 460.78,648.88 462.2,647.3C463.62,645.72 465.02,644.2 466.5,642.5C467.98,640.8 469.52,639.18 471.1,637.1C472.68,635.02 474.5,632.35 476,630C477.5,627.65 478.57,626.08 480.1,623C481.63,619.92 484.35,613.42 485.2,611.5" fill="none" stroke="#f62a2a" stroke-width="1.5" stroke-linecap="round" stroke-linejoin="round" filter="url(#f0p5_0)"/>
<path d="M485.5,612C486.08,612.58 487.92,614.62 489,615.5C490.08,616.38 490.83,616.97 492,617.3C493.17,617.63 494.78,617.5 496,617.5C497.22,617.5 498.13,616.55 499.3,617.3C500.47,618.05 501.72,618.47 503,622C504.28,625.53 505.83,633.5 507,638.5C508.17,643.5 509.03,647.5 510,652C510.97,656.5 511.88,661.17 512.8,665.5C513.72,669.83 514.53,673.82 515.5,678C516.47,682.18 517.6,687.27 518.6,690.6C519.6,693.93 520.52,696.18 521.5,698C522.48,699.82 523.42,701.33 524.5,701.5C525.58,701.67 526.92,700.17 528,699C529.08,697.83 529.92,696.17 531,694.5C532.08,692.83 533.37,690.58 534.5,689C535.63,687.42 536.72,685.25 537.8,685C538.88,684.75 539.97,686.25 541,687.5C542.03,688.75 543,690.92 544,692.5C545,694.08 546,697.08 547,697C548,696.92 548.82,694.03 550,692C551.18,689.97 553.42,686 554.1,684.8" fill="none" stroke="#ffffff" stroke-width="5" stroke-linecap="round" stroke-linejoin="round" filter="url(#f1p5_0)" opacity="0.85"/>
<path d="M485.5,612C486.08,612.58 487.92,614.62 489,615.5C490.08,616.38 490.83,616.97 492,617.3C493.17,617.63 494.78,617.5 496,617.5C497.22,617.5 498.13,616.55 499.3,617.3C500.47,618.05 501.72,618.47 503,622C504.28,625.53 505.83,633.5 507,638.5C508.17,643.5 509.03,647.5 510,652C510.97,656.5 511.88,661.17 512.8,665.5C513.72,669.83 514.53,673.82 515.5,678C516.47,682.18 517.6,687.27 518.6,690.6C519.6,693.93 520.52,696.18 521.5,698C522.48,699.82 523.42,701.33 524.5,701.5C525.58,701.67 526.92,700.17 528,699C529.08,697.83 529.92,696.17 531,694.5C532.08,692.83 533.37,690.58 534.5,689C535.63,687.42 536.72,685.25 537.8,685C538.88,684.75 539.97,686.25 541,687.5C542.03,688.75 543,690.92 544,692.5C545,694.08 546,697.08 547,697C548,696.92 548.82,694.03 550,692C551.18,689.97 553.42,686 554.1,684.8" fill="none" stroke="#ff2626" stroke-width="1.8" stroke-linecap="round" stroke-linejoin="round" filter="url(#f0p3_0)"/>
<path d="M487,613C487.73,613.57 489.73,615.63 491.4,616.4C493.07,617.17 495.32,617.08 497,617.6C498.68,618.12 500.75,619.18 501.5,619.5" fill="none" stroke="#f01818" stroke-width="3.6" stroke-linecap="round" stroke-linejoin="round" filter="url(#f1p2_0)" opacity="0.85"/>
<path d="M554.1,684.8C554.58,686.5 555.8,691.23 557,695C558.2,698.77 560.05,703.9 561.3,707.4C562.55,710.9 563.48,713.43 564.5,716C565.52,718.57 566.92,721.67 567.4,722.8" fill="none" stroke="#ffffff" stroke-width="5" stroke-linecap="round" stroke-linejoin="round" filter="url(#f1p5_0)" opacity="0.85"/>
<path d="M554.1,684.8C554.58,686.5 555.8,691.23 557,695C558.2,698.77 560.05,703.9 561.3,707.4C562.55,710.9 563.48,713.43 564.5,716C565.52,718.57 566.92,721.67 567.4,722.8" fill="none" stroke="#ff2626" stroke-width="1.6" stroke-linecap="round" stroke-linejoin="round" filter="url(#f0p3_0)"/>
<path d="M547,728C547.67,728.67 549.8,731 551,732C552.2,733 552.7,734.17 554.2,734C555.7,733.83 557.8,732.42 560,731C562.2,729.58 565.07,727.5 567.4,725.5C569.73,723.5 571.62,721.17 574,719C576.38,716.83 579.2,715.33 581.7,712.5C584.2,709.67 586.62,705.42 589,702C591.38,698.58 593.83,695.17 596,692C598.17,688.83 599.95,685.25 602,683C604.05,680.75 606.13,678.33 608.3,678.5C610.47,678.67 612.62,681.42 615,684C617.38,686.58 620.43,691 622.6,694C624.77,697 626.3,699.27 628,702C629.7,704.73 630.8,706.95 632.8,710.4C634.8,713.85 638.8,720.65 640,722.7" fill="none" stroke="#f43030" stroke-width="1.3" stroke-linecap="round" stroke-linejoin="round" filter="url(#f0p5_0)" opacity="0.8"/>
<path d="M567.4,722.8C568.5,721.67 571.62,718.22 574,716C576.38,713.78 579.2,712.33 581.7,709.5C584.2,706.67 586.62,702.42 589,699C591.38,695.58 593.83,692.17 596,689C598.17,685.83 599.95,682.2 602,680C604.05,677.8 606.13,675.63 608.3,675.8C610.47,675.97 612.62,678.45 615,681C617.38,683.55 620.43,688.1 622.6,691.1C624.77,694.1 626.3,696.28 628,699C629.7,701.72 630.8,703.95 632.8,707.4C634.8,710.85 638.8,717.65 640,719.7" fill="none" stroke="#ff3030" stroke-width="1.3" stroke-linecap="round" stroke-linejoin="round" filter="url(#f0p5_0)"/>
<path d="M485.5,610.8C486,609.17 487.42,604.8 488.5,601C489.58,597.2 490.83,592.67 492,588C493.17,583.33 494.33,578 495.5,573C496.67,568 497.83,562.83 499,558C500.17,553.17 501.42,548.17 502.5,544C503.58,539.83 504.58,536.17 505.5,533C506.42,529.83 507.25,527.17 508,525C508.75,522.83 509.67,520.83 510,520" fill="none" stroke="#ffffff" stroke-width="5" stroke-linecap="round" stroke-linejoin="round" filter="url(#f1p5_0)" opacity="0.85"/>
<path d="M485.5,610.8C486,609.17 487.42,604.8 488.5,601C489.58,597.2 490.83,592.67 492,588C493.17,583.33 494.33,578 495.5,573C496.67,568 497.83,562.83 499,558C500.17,553.17 501.42,548.17 502.5,544C503.58,539.83 504.58,536.17 505.5,533C506.42,529.83 507.25,527.17 508,525C508.75,522.83 509.67,520.83 510,520" fill="none" stroke="#ff2626" stroke-width="1.6" stroke-linecap="round" stroke-linejoin="round" filter="url(#f0p3_0)"/>
<path d="M465,530C465.82,532.9 468.43,541.73 469.9,547.4C471.37,553.07 472.5,558.45 473.8,564C475.1,569.55 476.5,575.7 477.7,580.7C478.9,585.7 480.02,590.08 481,594C481.98,597.92 482.85,601.4 483.6,604.2C484.35,607 485.18,609.7 485.5,610.8" fill="none" stroke="#ff3a3a" stroke-width="1.2" stroke-linecap="round" stroke-linejoin="round" filter="url(#f0p4_0)" opacity="0.75"/>
</g>
<line x1="485.5" y1="522.5" x2="485.5" y2="755.5" stroke="#2a2a2a" stroke-width="1.1"/>
<line x1="554.1" y1="522.5" x2="554.1" y2="755.5" stroke="#2a2a2a" stroke-width="1.1"/>
<line x1="376.5" y1="545.8" x2="382" y2="545.8" stroke="#333" stroke-width="1.3"/>
<line x1="633.1" y1="545.8" x2="638.6" y2="545.8" stroke="#333" stroke-width="1.3"/>
<line x1="376.5" y1="569.1" x2="382" y2="569.1" stroke="#333" stroke-width="1.3"/>
<line x1="633.1" y1="569.1" x2="638.6" y2="569.1" stroke="#333" stroke-width="1.3"/>
<line x1="376.5" y1="592.4" x2="382" y2="592.4" stroke="#333" stroke-width="1.3"/>
<line x1="633.1" y1="592.4" x2="638.6" y2="592.4" stroke="#333" stroke-width="1.3"/>
<line x1="376.5" y1="615.7" x2="382" y2="615.7" stroke="#333" stroke-width="1.3"/>
<line x1="633.1" y1="615.7" x2="638.6" y2="615.7" stroke="#333" stroke-width="1.3"/>
<line x1="376.5" y1="639" x2="382" y2="639" stroke="#333" stroke-width="1.3"/>
<line x1="633.1" y1="639" x2="638.6" y2="639" stroke="#333" stroke-width="1.3"/>
<line x1="376.5" y1="662.3" x2="382" y2="662.3" stroke="#333" stroke-width="1.3"/>
<line x1="633.1" y1="662.3" x2="638.6" y2="662.3" stroke="#333" stroke-width="1.3"/>
<line x1="376.5" y1="685.6" x2="382" y2="685.6" stroke="#333" stroke-width="1.3"/>
<line x1="633.1" y1="685.6" x2="638.6" y2="685.6" stroke="#333" stroke-width="1.3"/>
<line x1="376.5" y1="708.9" x2="382" y2="708.9" stroke="#333" stroke-width="1.3"/>
<line x1="633.1" y1="708.9" x2="638.6" y2="708.9" stroke="#333" stroke-width="1.3"/>
<line x1="376.5" y1="732.2" x2="382" y2="732.2" stroke="#333" stroke-width="1.3"/>
<line x1="633.1" y1="732.2" x2="638.6" y2="732.2" stroke="#333" stroke-width="1.3"/>
<rect x="376.5" y="522.5" width="262.1" height="233" fill="none" stroke="#555" stroke-width="1.2"/>
<rect x="641.8" y="8.1" width="13.1" height="228.9" fill="url(#cbg)" stroke="#555" stroke-width="1.2"/>
<line x1="641.8" y1="211.57" x2="645.3" y2="211.57" stroke="#333" stroke-width="1.2"/>
<line x1="651.4" y1="211.57" x2="654.9" y2="211.57" stroke="#333" stroke-width="1.2"/>
<line x1="641.8" y1="186.13" x2="645.3" y2="186.13" stroke="#333" stroke-width="1.2"/>
<line x1="651.4" y1="186.13" x2="654.9" y2="186.13" stroke="#333" stroke-width="1.2"/>
<line x1="641.8" y1="160.7" x2="645.3" y2="160.7" stroke="#333" stroke-width="1.2"/>
<line x1="651.4" y1="160.7" x2="654.9" y2="160.7" stroke="#333" stroke-width="1.2"/>
<line x1="641.8" y1="135.27" x2="645.3" y2="135.27" stroke="#333" stroke-width="1.2"/>
<line x1="651.4" y1="135.27" x2="654.9" y2="135.27" stroke="#333" stroke-width="1.2"/>
<line x1="641.8" y1="109.83" x2="645.3" y2="109.83" stroke="#333" stroke-width="1.2"/>
<line x1="651.4" y1="109.83" x2="654.9" y2="109.83" stroke="#333" stroke-width="1.2"/>
<line x1="641.8" y1="84.4" x2="645.3" y2="84.4" stroke="#333" stroke-width="1.2"/>
<line x1="651.4" y1="84.4" x2="654.9" y2="84.4" stroke="#333" stroke-width="1.2"/>
<line x1="641.8" y1="58.97" x2="645.3" y2="58.97" stroke="#333" stroke-width="1.2"/>
<line x1="651.4" y1="58.97" x2="654.9" y2="58.97" stroke="#333" stroke-width="1.2"/>
<line x1="641.8" y1="33.53" x2="645.3" y2="33.53" stroke="#333" stroke-width="1.2"/>
<line x1="651.4" y1="33.53" x2="654.9" y2="33.53" stroke="#333" stroke-width="1.2"/>
<text transform="translate(665.56,242.2) scale(0.1837,0.1750)" font-size="100">-1</text>
<text transform="translate(671.44,216.59) scale(0.1837,0.1750)" font-size="100">0</text>
<text transform="translate(671.63,191.33) scale(0.1837,0.1750)" font-size="100">1</text>
<text transform="translate(671.63,165.9) scale(0.1837,0.1750)" font-size="100">2</text>
<text transform="translate(671.63,140.29) scale(0.1837,0.1750)" font-size="100">3</text>
<text transform="translate(671.26,115.21) scale(0.1837,0.1750)" font-size="100">4</text>
<text transform="translate(671.63,89.42) scale(0.1837,0.1750)" font-size="100">5</text>
<text transform="translate(671.63,63.99) scale(0.1837,0.1750)" font-size="100">6</text>
<text transform="translate(671.63,38.91) scale(0.1837,0.1750)" font-size="100">7</text>
<text transform="translate(671.63,13.13) scale(0.1837,0.1750)" font-size="100">8</text>
<rect x="642.2" y="263.3" width="13" height="231" fill="url(#cbg)" stroke="#555" stroke-width="1.2"/>
<line x1="642.2" y1="468.63" x2="645.7" y2="468.63" stroke="#333" stroke-width="1.2"/>
<line x1="651.7" y1="468.63" x2="655.2" y2="468.63" stroke="#333" stroke-width="1.2"/>
<line x1="642.2" y1="442.97" x2="645.7" y2="442.97" stroke="#333" stroke-width="1.2"/>
<line x1="651.7" y1="442.97" x2="655.2" y2="442.97" stroke="#333" stroke-width="1.2"/>
<line x1="642.2" y1="417.3" x2="645.7" y2="417.3" stroke="#333" stroke-width="1.2"/>
<line x1="651.7" y1="417.3" x2="655.2" y2="417.3" stroke="#333" stroke-width="1.2"/>
<line x1="642.2" y1="391.63" x2="645.7" y2="391.63" stroke="#333" stroke-width="1.2"/>
<line x1="651.7" y1="391.63" x2="655.2" y2="391.63" stroke="#333" stroke-width="1.2"/>
<line x1="642.2" y1="365.97" x2="645.7" y2="365.97" stroke="#333" stroke-width="1.2"/>
<line x1="651.7" y1="365.97" x2="655.2" y2="365.97" stroke="#333" stroke-width="1.2"/>
<line x1="642.2" y1="340.3" x2="645.7" y2="340.3" stroke="#333" stroke-width="1.2"/>
<line x1="651.7" y1="340.3" x2="655.2" y2="340.3" stroke="#333" stroke-width="1.2"/>
<line x1="642.2" y1="314.63" x2="645.7" y2="314.63" stroke="#333" stroke-width="1.2"/>
<line x1="651.7" y1="314.63" x2="655.2" y2="314.63" stroke="#333" stroke-width="1.2"/>
<line x1="642.2" y1="288.97" x2="645.7" y2="288.97" stroke="#333" stroke-width="1.2"/>
<line x1="651.7" y1="288.97" x2="655.2" y2="288.97" stroke="#333" stroke-width="1.2"/>
<text transform="translate(665.56,499.5) scale(0.1837,0.1750)" font-size="100">-1</text>
<text transform="translate(671.44,473.66) scale(0.1837,0.1750)" font-size="100">0</text>
<text transform="translate(671.63,448.17) scale(0.1837,0.1750)" font-size="100">1</text>
<text transform="translate(671.63,422.5) scale(0.1837,0.1750)" font-size="100">2</text>
<text transform="translate(671.63,396.66) scale(0.1837,0.1750)" font-size="100">3</text>
<text transform="translate(671.26,371.34) scale(0.1837,0.1750)" font-size="100">4</text>
<text transform="translate(671.63,345.32) scale(0.1837,0.1750)" font-size="100">5</text>
<text transform="translate(671.63,319.66) scale(0.1837,0.1750)" font-size="100">6</text>
<text transform="translate(671.63,294.34) scale(0.1837,0.1750)" font-size="100">7</text>
<text transform="translate(671.63,268.32) scale(0.1837,0.1750)" font-size="100">8</text>
<rect x="644.7" y="522.4" width="13.7" height="233.6" fill="url(#cbg)" stroke="#555" stroke-width="1.2"/>
<line x1="644.7" y1="732.64" x2="648.2" y2="732.64" stroke="#333" stroke-width="1.2"/>
<line x1="654.9" y1="732.64" x2="658.4" y2="732.64" stroke="#333" stroke-width="1.2"/>
<line x1="644.7" y1="709.28" x2="648.2" y2="709.28" stroke="#333" stroke-width="1.2"/>
<line x1="654.9" y1="709.28" x2="658.4" y2="709.28" stroke="#333" stroke-width="1.2"/>
<line x1="644.7" y1="685.92" x2="648.2" y2="685.92" stroke="#333" stroke-width="1.2"/>
<line x1="654.9" y1="685.92" x2="658.4" y2="685.92" stroke="#333" stroke-width="1.2"/>
<line x1="644.7" y1="662.56" x2="648.2" y2="662.56" stroke="#333" stroke-width="1.2"/>
<line x1="654.9" y1="662.56" x2="658.4" y2="662.56" stroke="#333" stroke-width="1.2"/>
<line x1="644.7" y1="639.2" x2="648.2" y2="639.2" stroke="#333" stroke-width="1.2"/>
<line x1="654.9" y1="639.2" x2="658.4" y2="639.2" stroke="#333" stroke-width="1.2"/>
<line x1="644.7" y1="615.84" x2="648.2" y2="615.84" stroke="#333" stroke-width="1.2"/>
<line x1="654.9" y1="615.84" x2="658.4" y2="615.84" stroke="#333" stroke-width="1.2"/>
<line x1="644.7" y1="592.48" x2="648.2" y2="592.48" stroke="#333" stroke-width="1.2"/>
<line x1="654.9" y1="592.48" x2="658.4" y2="592.48" stroke="#333" stroke-width="1.2"/>
<line x1="644.7" y1="569.12" x2="648.2" y2="569.12" stroke="#333" stroke-width="1.2"/>
<line x1="654.9" y1="569.12" x2="658.4" y2="569.12" stroke="#333" stroke-width="1.2"/>
<line x1="644.7" y1="545.76" x2="648.2" y2="545.76" stroke="#333" stroke-width="1.2"/>
<line x1="654.9" y1="545.76" x2="658.4" y2="545.76" stroke="#333" stroke-width="1.2"/>
<text transform="translate(670.06,761.2) scale(0.1837,0.1750)" font-size="100">-1</text>
<text transform="translate(675.94,737.67) scale(0.1837,0.1750)" font-size="100">0</text>
<text transform="translate(676.13,714.48) scale(0.1837,0.1750)" font-size="100">1</text>
<text transform="translate(676.13,691.12) scale(0.1837,0.1750)" font-size="100">2</text>
<text transform="translate(676.13,667.59) scale(0.1837,0.1750)" font-size="100">3</text>
<text transform="translate(675.76,644.58) scale(0.1837,0.1750)" font-size="100">4</text>
<text transform="translate(676.13,620.87) scale(0.1837,0.1750)" font-size="100">5</text>
<text transform="translate(676.13,597.51) scale(0.1837,0.1750)" font-size="100">6</text>
<text transform="translate(676.13,574.5) scale(0.1837,0.1750)" font-size="100">7</text>
<text transform="translate(676.13,550.79) scale(0.1837,0.1750)" font-size="100">8</text>
<text transform="translate(676.13,527.43) scale(0.1837,0.1750)" font-size="100">9</text>
<text transform="translate(36.73,35.76) scale(0.1866,0.1760)" font-size="100">0.4</text>
<text transform="translate(36.91,58.6) scale(0.1866,0.1760)" font-size="100">0.3</text>
<text transform="translate(37.1,81.44) scale(0.1866,0.1760)" font-size="100">0.2</text>
<text transform="translate(37.1,104.28) scale(0.1866,0.1760)" font-size="100">0.1</text>
<text transform="translate(52.4,127.12) scale(0.1866,0.1760)" font-size="100">0</text>
<text transform="translate(30.94,149.96) scale(0.1866,0.1760)" font-size="100">-0.1</text>
<text transform="translate(30.94,172.8) scale(0.1866,0.1760)" font-size="100">-0.2</text>
<text transform="translate(30.76,195.64) scale(0.1866,0.1760)" font-size="100">-0.3</text>
<text transform="translate(30.57,218.48) scale(0.1866,0.1760)" font-size="100">-0.4</text>
<text transform="translate(30.76,241.32) scale(0.1866,0.1760)" font-size="100">-0.5</text>
<text transform="translate(35.23,290.32) scale(0.1866,0.1760)" font-size="100">0.4</text>
<text transform="translate(35.41,313.42) scale(0.1866,0.1760)" font-size="100">0.3</text>
<text transform="translate(35.6,336.52) scale(0.1866,0.1760)" font-size="100">0.2</text>
<text transform="translate(35.6,359.62) scale(0.1866,0.1760)" font-size="100">0.1</text>
<text transform="translate(50.9,382.72) scale(0.1866,0.1760)" font-size="100">0</text>
<text transform="translate(29.44,405.82) scale(0.1866,0.1760)" font-size="100">-0.1</text>
<text transform="translate(29.44,428.92) scale(0.1866,0.1760)" font-size="100">-0.2</text>
<text transform="translate(29.26,452.02) scale(0.1866,0.1760)" font-size="100">-0.3</text>
<text transform="translate(29.07,475.12) scale(0.1866,0.1760)" font-size="100">-0.4</text>
<text transform="translate(29.26,498.22) scale(0.1866,0.1760)" font-size="100">-0.5</text>
<text transform="translate(29.64,551.55) scale(0.1866,0.1760)" font-size="100">-0.7</text>
<text transform="translate(29.46,574.78) scale(0.1866,0.1760)" font-size="100">-0.8</text>
<text transform="translate(29.46,598.01) scale(0.1866,0.1760)" font-size="100">-0.9</text>
<text transform="translate(45.13,621.42) scale(0.1866,0.1760)" font-size="100">-1</text>
<text transform="translate(29.64,644.65) scale(0.1866,0.1760)" font-size="100">-1.1</text>
<text transform="translate(29.64,667.88) scale(0.1866,0.1760)" font-size="100">-1.2</text>
<text transform="translate(29.46,690.93) scale(0.1866,0.1760)" font-size="100">-1.3</text>
<text transform="translate(29.27,714.34) scale(0.1866,0.1760)" font-size="100">-1.4</text>
<text transform="translate(29.46,737.39) scale(0.1866,0.1760)" font-size="100">-1.5</text>
<text transform="translate(29.46,760.62) scale(0.1866,0.1760)" font-size="100">-1.6</text>
<text transform="translate(18.8,166.65) rotate(-90) scale(0.1684,0.2000)" font-size="100">Energy (eV)</text>
<text transform="translate(15.53,422.97) rotate(-90) scale(0.1709,0.2032)" font-size="100">Energy (eV)</text>
<text transform="translate(15.83,685.08) rotate(-90) scale(0.1728,0.2032)" font-size="100">Energy (eV)</text>
<text transform="translate(6.17,22.74) scale(0.2391,0.2362)" font-size="100" fill="#000">(a)</text>
<text transform="translate(343.55,25.01) scale(0.2418,0.2330)" font-size="100" fill="#000">(b)</text>
<text transform="translate(5.53,275.64) scale(0.2442,0.2362)" font-size="100" fill="#000">(c)</text>
<text transform="translate(341.94,277.41) scale(0.2436,0.2330)" font-size="100" fill="#000">(d)</text>
<text transform="translate(2.05,540.32) scale(0.2418,0.2277)" font-size="100" fill="#000">(e)</text>
<text transform="translate(346.15,538.71) scale(0.2415,0.2330)" font-size="100" fill="#000">(f)</text>
<text transform="translate(69.84,781) scale(0.2456,0.2377)" font-size="100" fill="#000">K</text>
<text transform="translate(181.29,781) scale(0.2636,0.2377)" font-size="100" fill="#000">Γ</text>
<text transform="translate(244.61,781) scale(0.2612,0.2377)" font-size="100" fill="#000">M</text>
<text transform="translate(332.53,781) scale(0.2211,0.2377)" font-size="100" fill="#000">K</text>
<text transform="translate(369.19,781) scale(0.2509,0.2377)" font-size="100" fill="#000">K</text>
<text transform="translate(481.73,781) scale(0.2341,0.2377)" font-size="100" fill="#000">Γ</text>
<text transform="translate(544.67,781) scale(0.2537,0.2377)" font-size="100" fill="#000">M</text>
<text transform="translate(630.54,781) scale(0.2456,0.2377)" font-size="100" fill="#000">K</text>
</svg>
</body></html>
